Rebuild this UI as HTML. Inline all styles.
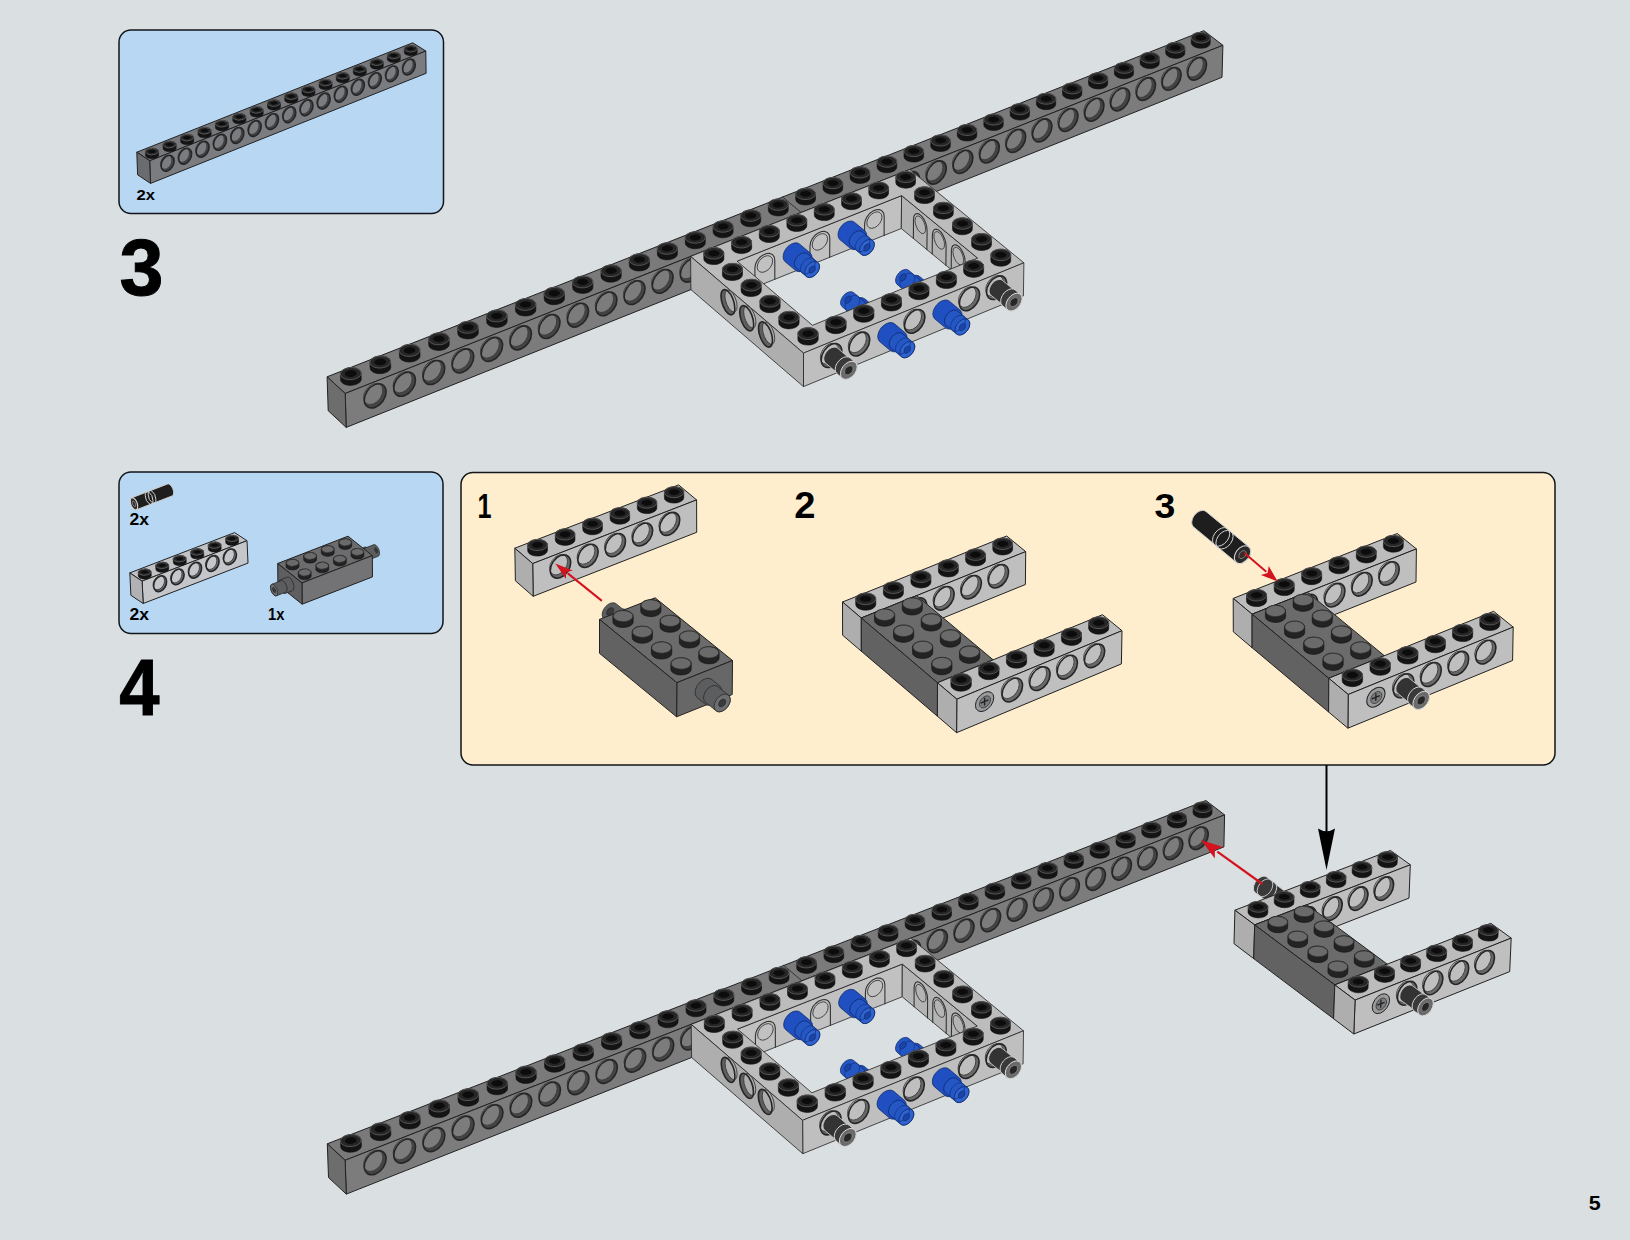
<!DOCTYPE html>
<html><head><meta charset="utf-8"><style>
html,body{margin:0;padding:0;background:#dadfe2;}
body{width:1630px;height:1240px;overflow:hidden;font-family:"Liberation Sans",sans-serif;}
svg{position:absolute;left:0;top:0;display:block;}
</style></head><body>
<svg width="1630" height="1240" viewBox="0 0 1630 1240">
<rect x="0" y="0" width="1630" height="1240" fill="#dadfe2"/>
<rect x="119" y="30" width="324.5" height="183.5" rx="12" ry="12" fill="#b8d7f2" stroke="#121519" stroke-width="1.5"/>
<rect x="119" y="472" width="324" height="161.5" rx="12" ry="12" fill="#b8d7f2" stroke="#121519" stroke-width="1.5"/>
<rect x="461" y="472.5" width="1094" height="292.5" rx="12" ry="12" fill="#feeece" stroke="#121519" stroke-width="1.5"/>
<polygon points="149.7,160.8 425.8,51.0 412.7,42.8 136.8,152.2" fill="#76787c" stroke="#222222" stroke-width="1.00" stroke-linejoin="round"/>
<polygon points="150.5,183.4 426.1,73.3 425.8,51.0 149.7,160.8" fill="#7a7c80" stroke="#222222" stroke-width="1.00" stroke-linejoin="round"/>
<polygon points="150.5,183.4 137.6,174.8 136.8,152.2 149.7,160.8" fill="#6a6c70" stroke="#222222" stroke-width="1.00" stroke-linejoin="round"/>
<circle r="1" transform="matrix(6.49 -2.59 -0.26 -7.51 167.6 163.2)" fill="#434446"/>
<circle r="1" transform="matrix(5.71 -2.28 -0.23 -6.58 166.2 162.3)" fill="#7a7c80" stroke="#3a3a3a" stroke-width="0.9" vector-effect="non-scaling-stroke"/>
<circle r="1" transform="matrix(6.49 -2.59 -0.26 -7.51 167.6 163.2)" fill="none" stroke="#262626" stroke-width="1.6" vector-effect="non-scaling-stroke"/>
<circle r="1" transform="matrix(6.48 -2.58 -0.25 -7.50 185.1 156.2)" fill="#434446"/>
<circle r="1" transform="matrix(5.70 -2.27 -0.22 -6.58 183.7 155.3)" fill="#7a7c80" stroke="#3a3a3a" stroke-width="0.9" vector-effect="non-scaling-stroke"/>
<circle r="1" transform="matrix(6.48 -2.58 -0.25 -7.50 185.1 156.2)" fill="none" stroke="#262626" stroke-width="1.6" vector-effect="non-scaling-stroke"/>
<circle r="1" transform="matrix(6.46 -2.57 -0.24 -7.50 202.6 149.3)" fill="#434446"/>
<circle r="1" transform="matrix(5.68 -2.26 -0.21 -6.57 201.2 148.3)" fill="#7a7c80" stroke="#3a3a3a" stroke-width="0.9" vector-effect="non-scaling-stroke"/>
<circle r="1" transform="matrix(6.46 -2.57 -0.24 -7.50 202.6 149.3)" fill="none" stroke="#262626" stroke-width="1.6" vector-effect="non-scaling-stroke"/>
<circle r="1" transform="matrix(6.44 -2.57 -0.23 -7.49 220.0 142.3)" fill="#434446"/>
<circle r="1" transform="matrix(5.67 -2.26 -0.20 -6.57 218.6 141.4)" fill="#7a7c80" stroke="#3a3a3a" stroke-width="0.9" vector-effect="non-scaling-stroke"/>
<circle r="1" transform="matrix(6.44 -2.57 -0.23 -7.49 220.0 142.3)" fill="none" stroke="#262626" stroke-width="1.6" vector-effect="non-scaling-stroke"/>
<circle r="1" transform="matrix(6.43 -2.56 -0.22 -7.49 237.4 135.4)" fill="#434446"/>
<circle r="1" transform="matrix(5.65 -2.25 -0.20 -6.56 236.0 134.4)" fill="#7a7c80" stroke="#3a3a3a" stroke-width="0.9" vector-effect="non-scaling-stroke"/>
<circle r="1" transform="matrix(6.43 -2.56 -0.22 -7.49 237.4 135.4)" fill="none" stroke="#262626" stroke-width="1.6" vector-effect="non-scaling-stroke"/>
<circle r="1" transform="matrix(6.41 -2.55 -0.21 -7.48 254.8 128.5)" fill="#434446"/>
<circle r="1" transform="matrix(5.64 -2.25 -0.19 -6.56 253.4 127.5)" fill="#7a7c80" stroke="#3a3a3a" stroke-width="0.9" vector-effect="non-scaling-stroke"/>
<circle r="1" transform="matrix(6.41 -2.55 -0.21 -7.48 254.8 128.5)" fill="none" stroke="#262626" stroke-width="1.6" vector-effect="non-scaling-stroke"/>
<circle r="1" transform="matrix(6.40 -2.55 -0.20 -7.47 272.1 121.6)" fill="#434446"/>
<circle r="1" transform="matrix(5.63 -2.24 -0.18 -6.55 270.7 120.6)" fill="#7a7c80" stroke="#3a3a3a" stroke-width="0.9" vector-effect="non-scaling-stroke"/>
<circle r="1" transform="matrix(6.40 -2.55 -0.20 -7.47 272.1 121.6)" fill="none" stroke="#262626" stroke-width="1.6" vector-effect="non-scaling-stroke"/>
<circle r="1" transform="matrix(6.38 -2.54 -0.20 -7.47 289.4 114.7)" fill="#434446"/>
<circle r="1" transform="matrix(5.61 -2.24 -0.17 -6.55 287.9 113.8)" fill="#7a7c80" stroke="#3a3a3a" stroke-width="0.9" vector-effect="non-scaling-stroke"/>
<circle r="1" transform="matrix(6.38 -2.54 -0.20 -7.47 289.4 114.7)" fill="none" stroke="#262626" stroke-width="1.6" vector-effect="non-scaling-stroke"/>
<circle r="1" transform="matrix(6.36 -2.54 -0.19 -7.46 306.6 107.8)" fill="#434446"/>
<circle r="1" transform="matrix(5.60 -2.23 -0.16 -6.54 305.1 106.9)" fill="#7a7c80" stroke="#3a3a3a" stroke-width="0.9" vector-effect="non-scaling-stroke"/>
<circle r="1" transform="matrix(6.36 -2.54 -0.19 -7.46 306.6 107.8)" fill="none" stroke="#262626" stroke-width="1.6" vector-effect="non-scaling-stroke"/>
<circle r="1" transform="matrix(6.35 -2.53 -0.18 -7.46 323.8 101.0)" fill="#434446"/>
<circle r="1" transform="matrix(5.58 -2.22 -0.16 -6.54 322.3 100.1)" fill="#7a7c80" stroke="#3a3a3a" stroke-width="0.9" vector-effect="non-scaling-stroke"/>
<circle r="1" transform="matrix(6.35 -2.53 -0.18 -7.46 323.8 101.0)" fill="none" stroke="#262626" stroke-width="1.6" vector-effect="non-scaling-stroke"/>
<circle r="1" transform="matrix(6.33 -2.52 -0.17 -7.45 340.9 94.2)" fill="#434446"/>
<circle r="1" transform="matrix(5.57 -2.22 -0.15 -6.53 339.5 93.2)" fill="#7a7c80" stroke="#3a3a3a" stroke-width="0.9" vector-effect="non-scaling-stroke"/>
<circle r="1" transform="matrix(6.33 -2.52 -0.17 -7.45 340.9 94.2)" fill="none" stroke="#262626" stroke-width="1.6" vector-effect="non-scaling-stroke"/>
<circle r="1" transform="matrix(6.32 -2.52 -0.16 -7.44 358.0 87.3)" fill="#434446"/>
<circle r="1" transform="matrix(5.56 -2.21 -0.14 -6.52 356.5 86.4)" fill="#7a7c80" stroke="#3a3a3a" stroke-width="0.9" vector-effect="non-scaling-stroke"/>
<circle r="1" transform="matrix(6.32 -2.52 -0.16 -7.44 358.0 87.3)" fill="none" stroke="#262626" stroke-width="1.6" vector-effect="non-scaling-stroke"/>
<circle r="1" transform="matrix(6.30 -2.51 -0.15 -7.44 375.0 80.6)" fill="#434446"/>
<circle r="1" transform="matrix(5.54 -2.21 -0.13 -6.52 373.6 79.6)" fill="#7a7c80" stroke="#3a3a3a" stroke-width="0.9" vector-effect="non-scaling-stroke"/>
<circle r="1" transform="matrix(6.30 -2.51 -0.15 -7.44 375.0 80.6)" fill="none" stroke="#262626" stroke-width="1.6" vector-effect="non-scaling-stroke"/>
<circle r="1" transform="matrix(6.28 -2.50 -0.14 -7.43 392.0 73.8)" fill="#434446"/>
<circle r="1" transform="matrix(5.53 -2.20 -0.13 -6.51 390.6 72.9)" fill="#7a7c80" stroke="#3a3a3a" stroke-width="0.9" vector-effect="non-scaling-stroke"/>
<circle r="1" transform="matrix(6.28 -2.50 -0.14 -7.43 392.0 73.8)" fill="none" stroke="#262626" stroke-width="1.6" vector-effect="non-scaling-stroke"/>
<circle r="1" transform="matrix(6.27 -2.50 -0.14 -7.43 409.0 67.0)" fill="#434446"/>
<circle r="1" transform="matrix(5.51 -2.20 -0.12 -6.51 407.6 66.1)" fill="#7a7c80" stroke="#3a3a3a" stroke-width="0.9" vector-effect="non-scaling-stroke"/>
<circle r="1" transform="matrix(6.27 -2.50 -0.14 -7.43 409.0 67.0)" fill="none" stroke="#262626" stroke-width="1.6" vector-effect="non-scaling-stroke"/>
<polygon points="404.3,48.9 404.6,48.0 405.4,47.0 406.8,46.3 408.6,45.8 410.5,45.6 412.5,45.7 414.3,46.1 415.8,46.7 416.8,47.6 417.1,48.6 417.2,52.3 416.9,53.3 416.1,54.2 414.7,54.9 412.9,55.4 411.0,55.6 409.0,55.5 407.2,55.1 405.7,54.5 404.7,53.6 404.4,52.7" fill="#141414" stroke="#111" stroke-width="0.60" stroke-linejoin="round"/>
<circle r="1" transform="matrix(5.08 -2.02 -3.93 -2.46 410.7 48.8)" fill="#262626" stroke="#5a5a5a" stroke-width="0.9" vector-effect="non-scaling-stroke"/>
<circle r="1" transform="matrix(3.05 -1.21 -2.36 -1.48 410.7 48.8)" fill="#0c0c0c" stroke="#333" stroke-width="0.5" vector-effect="non-scaling-stroke"/>
<polygon points="387.3,55.7 387.6,54.7 388.5,53.8 389.8,53.0 391.6,52.5 393.6,52.3 395.6,52.4 397.4,52.8 398.9,53.5 399.8,54.3 400.2,55.3 400.3,59.0 400.0,60.0 399.1,60.9 397.8,61.7 396.0,62.2 394.0,62.4 392.0,62.3 390.2,61.9 388.8,61.2 387.8,60.4 387.4,59.4" fill="#141414" stroke="#111" stroke-width="0.60" stroke-linejoin="round"/>
<circle r="1" transform="matrix(5.09 -2.02 -3.93 -2.47 393.8 55.5)" fill="#262626" stroke="#5a5a5a" stroke-width="0.9" vector-effect="non-scaling-stroke"/>
<circle r="1" transform="matrix(3.05 -1.21 -2.36 -1.48 393.8 55.5)" fill="#0c0c0c" stroke="#333" stroke-width="0.5" vector-effect="non-scaling-stroke"/>
<polygon points="370.3,62.4 370.6,61.4 371.5,60.5 372.9,59.8 374.6,59.3 376.6,59.0 378.6,59.1 380.4,59.5 381.9,60.2 382.8,61.1 383.2,62.0 383.3,65.8 383.0,66.8 382.2,67.7 380.8,68.4 379.0,68.9 377.0,69.2 375.0,69.0 373.2,68.7 371.8,68.0 370.8,67.1 370.4,66.1" fill="#141414" stroke="#111" stroke-width="0.60" stroke-linejoin="round"/>
<circle r="1" transform="matrix(5.10 -2.03 -3.92 -2.47 376.8 62.2)" fill="#262626" stroke="#5a5a5a" stroke-width="0.9" vector-effect="non-scaling-stroke"/>
<circle r="1" transform="matrix(3.06 -1.22 -2.35 -1.48 376.8 62.2)" fill="#0c0c0c" stroke="#333" stroke-width="0.5" vector-effect="non-scaling-stroke"/>
<polygon points="353.3,69.2 353.6,68.2 354.4,67.3 355.8,66.5 357.6,66.0 359.6,65.8 361.6,65.9 363.4,66.3 364.9,67.0 365.8,67.8 366.2,68.8 366.3,72.5 366.0,73.5 365.1,74.5 363.7,75.2 362.0,75.7 360.0,75.9 358.0,75.8 356.2,75.4 354.7,74.8 353.8,73.9 353.4,72.9" fill="#141414" stroke="#111" stroke-width="0.60" stroke-linejoin="round"/>
<circle r="1" transform="matrix(5.12 -2.03 -3.92 -2.48 359.7 69.0)" fill="#262626" stroke="#5a5a5a" stroke-width="0.9" vector-effect="non-scaling-stroke"/>
<circle r="1" transform="matrix(3.07 -1.22 -2.35 -1.49 359.7 69.0)" fill="#0c0c0c" stroke="#333" stroke-width="0.5" vector-effect="non-scaling-stroke"/>
<polygon points="336.2,76.0 336.5,75.0 337.4,74.0 338.8,73.3 340.5,72.8 342.5,72.6 344.5,72.7 346.3,73.1 347.8,73.7 348.8,74.6 349.1,75.6 349.2,79.3 348.9,80.3 348.1,81.2 346.7,82.0 344.9,82.5 342.9,82.7 340.9,82.6 339.1,82.2 337.6,81.5 336.7,80.7 336.3,79.7" fill="#141414" stroke="#111" stroke-width="0.60" stroke-linejoin="round"/>
<circle r="1" transform="matrix(5.13 -2.04 -3.91 -2.49 342.7 75.8)" fill="#262626" stroke="#5a5a5a" stroke-width="0.9" vector-effect="non-scaling-stroke"/>
<circle r="1" transform="matrix(3.08 -1.22 -2.35 -1.49 342.7 75.8)" fill="#0c0c0c" stroke="#333" stroke-width="0.5" vector-effect="non-scaling-stroke"/>
<polygon points="319.1,82.8 319.4,81.8 320.2,80.8 321.6,80.1 323.4,79.6 325.4,79.4 327.4,79.5 329.2,79.9 330.7,80.5 331.6,81.4 332.0,82.4 332.1,86.1 331.8,87.1 330.9,88.1 329.6,88.8 327.8,89.3 325.8,89.5 323.8,89.4 322.0,89.0 320.5,88.4 319.5,87.5 319.2,86.5" fill="#141414" stroke="#111" stroke-width="0.60" stroke-linejoin="round"/>
<circle r="1" transform="matrix(5.14 -2.04 -3.91 -2.49 325.5 82.6)" fill="#262626" stroke="#5a5a5a" stroke-width="0.9" vector-effect="non-scaling-stroke"/>
<circle r="1" transform="matrix(3.09 -1.23 -2.35 -1.50 325.5 82.6)" fill="#0c0c0c" stroke="#333" stroke-width="0.5" vector-effect="non-scaling-stroke"/>
<polygon points="301.9,89.6 302.2,88.6 303.1,87.7 304.5,86.9 306.3,86.4 308.3,86.2 310.3,86.3 312.1,86.7 313.5,87.3 314.5,88.2 314.9,89.2 314.9,93.0 314.7,94.0 313.8,94.9 312.4,95.6 310.6,96.2 308.6,96.4 306.6,96.3 304.8,95.8 303.3,95.2 302.4,94.3 302.0,93.3" fill="#141414" stroke="#111" stroke-width="0.60" stroke-linejoin="round"/>
<circle r="1" transform="matrix(5.15 -2.05 -3.91 -2.50 308.4 89.4)" fill="#262626" stroke="#5a5a5a" stroke-width="0.9" vector-effect="non-scaling-stroke"/>
<circle r="1" transform="matrix(3.09 -1.23 -2.34 -1.50 308.4 89.4)" fill="#0c0c0c" stroke="#333" stroke-width="0.5" vector-effect="non-scaling-stroke"/>
<polygon points="284.7,96.4 285.0,95.4 285.9,94.5 287.3,93.7 289.1,93.2 291.1,93.0 293.1,93.1 294.9,93.5 296.4,94.2 297.3,95.0 297.7,96.0 297.8,99.8 297.5,100.8 296.6,101.7 295.2,102.5 293.4,103.0 291.4,103.2 289.4,103.1 287.6,102.7 286.1,102.0 285.2,101.2 284.8,100.2" fill="#141414" stroke="#111" stroke-width="0.60" stroke-linejoin="round"/>
<circle r="1" transform="matrix(5.17 -2.05 -3.90 -2.51 291.2 96.2)" fill="#262626" stroke="#5a5a5a" stroke-width="0.9" vector-effect="non-scaling-stroke"/>
<circle r="1" transform="matrix(3.10 -1.23 -2.34 -1.50 291.2 96.2)" fill="#0c0c0c" stroke="#333" stroke-width="0.5" vector-effect="non-scaling-stroke"/>
<polygon points="267.4,103.3 267.7,102.3 268.6,101.3 270.0,100.6 271.8,100.1 273.8,99.8 275.8,99.9 277.7,100.3 279.1,101.0 280.1,101.9 280.4,102.9 280.5,106.6 280.2,107.7 279.4,108.6 277.9,109.3 276.1,109.8 274.1,110.1 272.1,110.0 270.3,109.6 268.9,108.9 267.9,108.0 267.6,107.0" fill="#141414" stroke="#111" stroke-width="0.60" stroke-linejoin="round"/>
<circle r="1" transform="matrix(5.18 -2.06 -3.90 -2.51 273.9 103.1)" fill="#262626" stroke="#5a5a5a" stroke-width="0.9" vector-effect="non-scaling-stroke"/>
<circle r="1" transform="matrix(3.11 -1.23 -2.34 -1.51 273.9 103.1)" fill="#0c0c0c" stroke="#333" stroke-width="0.5" vector-effect="non-scaling-stroke"/>
<polygon points="250.2,110.1 250.4,109.1 251.3,108.2 252.8,107.4 254.6,106.9 256.6,106.7 258.6,106.8 260.4,107.2 261.8,107.9 262.8,108.8 263.1,109.8 263.2,113.5 263.0,114.5 262.1,115.5 260.6,116.2 258.9,116.7 256.9,117.0 254.8,116.8 253.0,116.4 251.6,115.8 250.6,114.9 250.3,113.9" fill="#141414" stroke="#111" stroke-width="0.60" stroke-linejoin="round"/>
<circle r="1" transform="matrix(5.19 -2.06 -3.89 -2.52 256.6 109.9)" fill="#262626" stroke="#5a5a5a" stroke-width="0.9" vector-effect="non-scaling-stroke"/>
<circle r="1" transform="matrix(3.12 -1.24 -2.34 -1.51 256.6 109.9)" fill="#0c0c0c" stroke="#333" stroke-width="0.5" vector-effect="non-scaling-stroke"/>
<polygon points="232.8,117.0 233.1,116.0 234.0,115.1 235.4,114.3 237.2,113.8 239.2,113.6 241.2,113.7 243.1,114.1 244.5,114.8 245.5,115.7 245.8,116.6 245.9,120.4 245.6,121.4 244.7,122.3 243.3,123.1 241.5,123.6 239.5,123.8 237.5,123.7 235.7,123.3 234.2,122.7 233.3,121.8 232.9,120.8" fill="#141414" stroke="#111" stroke-width="0.60" stroke-linejoin="round"/>
<circle r="1" transform="matrix(5.21 -2.07 -3.89 -2.53 239.3 116.8)" fill="#262626" stroke="#5a5a5a" stroke-width="0.9" vector-effect="non-scaling-stroke"/>
<circle r="1" transform="matrix(3.12 -1.24 -2.33 -1.52 239.3 116.8)" fill="#0c0c0c" stroke="#333" stroke-width="0.5" vector-effect="non-scaling-stroke"/>
<polygon points="215.4,123.9 215.7,122.9 216.6,122.0 218.1,121.2 219.8,120.7 221.9,120.5 223.9,120.6 225.7,121.0 227.2,121.7 228.1,122.5 228.4,123.5 228.6,127.3 228.3,128.3 227.4,129.3 225.9,130.0 224.1,130.5 222.1,130.8 220.1,130.7 218.3,130.2 216.8,129.6 215.9,128.7 215.5,127.7" fill="#141414" stroke="#111" stroke-width="0.60" stroke-linejoin="round"/>
<circle r="1" transform="matrix(5.22 -2.07 -3.89 -2.53 221.9 123.7)" fill="#262626" stroke="#5a5a5a" stroke-width="0.9" vector-effect="non-scaling-stroke"/>
<circle r="1" transform="matrix(3.13 -1.24 -2.33 -1.52 221.9 123.7)" fill="#0c0c0c" stroke="#333" stroke-width="0.5" vector-effect="non-scaling-stroke"/>
<polygon points="198.0,130.8 198.3,129.8 199.2,128.9 200.6,128.1 202.4,127.6 204.4,127.4 206.5,127.5 208.3,127.9 209.8,128.6 210.7,129.5 211.0,130.5 211.2,134.2 210.8,135.2 209.9,136.2 208.5,136.9 206.7,137.5 204.7,137.7 202.7,137.6 200.9,137.2 199.4,136.5 198.5,135.6 198.1,134.6" fill="#141414" stroke="#111" stroke-width="0.60" stroke-linejoin="round"/>
<circle r="1" transform="matrix(5.23 -2.08 -3.88 -2.54 204.5 130.7)" fill="#262626" stroke="#5a5a5a" stroke-width="0.9" vector-effect="non-scaling-stroke"/>
<circle r="1" transform="matrix(3.14 -1.25 -2.33 -1.52 204.5 130.7)" fill="#0c0c0c" stroke="#333" stroke-width="0.5" vector-effect="non-scaling-stroke"/>
<polygon points="180.5,137.8 180.8,136.8 181.7,135.8 183.2,135.0 185.0,134.5 187.0,134.3 189.0,134.4 190.8,134.8 192.3,135.5 193.2,136.4 193.6,137.4 193.7,141.2 193.4,142.2 192.5,143.1 191.1,143.9 189.2,144.4 187.2,144.6 185.2,144.5 183.4,144.1 181.9,143.4 181.0,142.5 180.7,141.5" fill="#141414" stroke="#111" stroke-width="0.60" stroke-linejoin="round"/>
<circle r="1" transform="matrix(5.25 -2.08 -3.88 -2.55 187.0 137.6)" fill="#262626" stroke="#5a5a5a" stroke-width="0.9" vector-effect="non-scaling-stroke"/>
<circle r="1" transform="matrix(3.15 -1.25 -2.33 -1.53 187.0 137.6)" fill="#0c0c0c" stroke="#333" stroke-width="0.5" vector-effect="non-scaling-stroke"/>
<polygon points="163.0,144.7 163.3,143.7 164.2,142.8 165.7,142.0 167.5,141.5 169.5,141.2 171.5,141.3 173.3,141.8 174.8,142.5 175.7,143.3 176.1,144.4 176.2,148.1 175.9,149.1 175.0,150.1 173.6,150.9 171.7,151.4 169.7,151.6 167.7,151.5 165.9,151.1 164.4,150.4 163.5,149.5 163.1,148.5" fill="#141414" stroke="#111" stroke-width="0.60" stroke-linejoin="round"/>
<circle r="1" transform="matrix(5.26 -2.09 -3.87 -2.55 169.5 144.5)" fill="#262626" stroke="#5a5a5a" stroke-width="0.9" vector-effect="non-scaling-stroke"/>
<circle r="1" transform="matrix(3.16 -1.25 -2.32 -1.53 169.5 144.5)" fill="#0c0c0c" stroke="#333" stroke-width="0.5" vector-effect="non-scaling-stroke"/>
<polygon points="145.4,151.7 145.8,150.7 146.7,149.7 148.1,149.0 149.9,148.4 152.0,148.2 154.0,148.3 155.8,148.7 157.3,149.4 158.2,150.3 158.5,151.3 158.7,155.1 158.3,156.1 157.4,157.1 156.0,157.8 154.2,158.4 152.2,158.6 150.1,158.5 148.3,158.1 146.8,157.4 145.9,156.5 145.6,155.5" fill="#141414" stroke="#111" stroke-width="0.60" stroke-linejoin="round"/>
<circle r="1" transform="matrix(5.27 -2.09 -3.87 -2.56 152.0 151.5)" fill="#262626" stroke="#5a5a5a" stroke-width="0.9" vector-effect="non-scaling-stroke"/>
<circle r="1" transform="matrix(3.16 -1.26 -2.32 -1.54 152.0 151.5)" fill="#0c0c0c" stroke="#333" stroke-width="0.5" vector-effect="non-scaling-stroke"/>
<polygon points="142.1,581.1 247.0,540.7 234.6,532.6 129.8,572.9" fill="#c0c2c6" stroke="#222222" stroke-width="1.00" stroke-linejoin="round"/>
<polygon points="143.2,603.5 248.0,563.1 247.0,540.7 142.1,581.1" fill="#c4c6ca" stroke="#222222" stroke-width="1.00" stroke-linejoin="round"/>
<polygon points="143.2,603.5 130.9,595.3 129.8,572.9 142.1,581.1" fill="#b0b2b6" stroke="#222222" stroke-width="1.00" stroke-linejoin="round"/>
<circle r="1" transform="matrix(6.49 -2.50 -0.36 -7.46 160.1 583.7)" fill="#6b6c6f"/>
<circle r="1" transform="matrix(5.71 -2.20 -0.32 -6.54 158.8 582.8)" fill="#c4c6ca" stroke="#3a3a3a" stroke-width="0.9" vector-effect="non-scaling-stroke"/>
<circle r="1" transform="matrix(6.49 -2.50 -0.36 -7.46 160.1 583.7)" fill="none" stroke="#262626" stroke-width="1.6" vector-effect="non-scaling-stroke"/>
<circle r="1" transform="matrix(6.48 -2.50 -0.36 -7.45 177.6 576.9)" fill="#6b6c6f"/>
<circle r="1" transform="matrix(5.70 -2.20 -0.31 -6.53 176.3 576.0)" fill="#c4c6ca" stroke="#3a3a3a" stroke-width="0.9" vector-effect="non-scaling-stroke"/>
<circle r="1" transform="matrix(6.48 -2.50 -0.36 -7.45 177.6 576.9)" fill="none" stroke="#262626" stroke-width="1.6" vector-effect="non-scaling-stroke"/>
<circle r="1" transform="matrix(6.46 -2.49 -0.35 -7.45 195.1 570.2)" fill="#6b6c6f"/>
<circle r="1" transform="matrix(5.69 -2.19 -0.31 -6.53 193.8 569.3)" fill="#c4c6ca" stroke="#3a3a3a" stroke-width="0.9" vector-effect="non-scaling-stroke"/>
<circle r="1" transform="matrix(6.46 -2.49 -0.35 -7.45 195.1 570.2)" fill="none" stroke="#262626" stroke-width="1.6" vector-effect="non-scaling-stroke"/>
<circle r="1" transform="matrix(6.45 -2.49 -0.35 -7.45 212.6 563.5)" fill="#6b6c6f"/>
<circle r="1" transform="matrix(5.68 -2.19 -0.30 -6.53 211.2 562.6)" fill="#c4c6ca" stroke="#3a3a3a" stroke-width="0.9" vector-effect="non-scaling-stroke"/>
<circle r="1" transform="matrix(6.45 -2.49 -0.35 -7.45 212.6 563.5)" fill="none" stroke="#262626" stroke-width="1.6" vector-effect="non-scaling-stroke"/>
<circle r="1" transform="matrix(6.44 -2.48 -0.34 -7.44 230.0 556.8)" fill="#6b6c6f"/>
<circle r="1" transform="matrix(5.67 -2.18 -0.30 -6.52 228.7 555.9)" fill="#c4c6ca" stroke="#3a3a3a" stroke-width="0.9" vector-effect="non-scaling-stroke"/>
<circle r="1" transform="matrix(6.44 -2.48 -0.34 -7.44 230.0 556.8)" fill="none" stroke="#262626" stroke-width="1.6" vector-effect="non-scaling-stroke"/>
<polygon points="225.6,538.7 225.9,537.7 226.9,536.8 228.3,536.1 230.1,535.6 232.1,535.4 234.1,535.5 235.8,535.9 237.2,536.5 238.1,537.4 238.4,538.3 238.6,542.1 238.3,543.0 237.3,544.0 235.9,544.7 234.1,545.2 232.1,545.4 230.2,545.3 228.4,544.9 227.0,544.3 226.1,543.4 225.8,542.5" fill="#141414" stroke="#111" stroke-width="0.60" stroke-linejoin="round"/>
<circle r="1" transform="matrix(5.22 -2.01 -3.72 -2.43 232.0 538.5)" fill="#262626" stroke="#5a5a5a" stroke-width="0.9" vector-effect="non-scaling-stroke"/>
<circle r="1" transform="matrix(3.13 -1.21 -2.23 -1.46 232.0 538.5)" fill="#0c0c0c" stroke="#333" stroke-width="0.5" vector-effect="non-scaling-stroke"/>
<polygon points="208.2,545.4 208.5,544.4 209.4,543.5 210.9,542.8 212.7,542.3 214.7,542.1 216.7,542.2 218.4,542.6 219.8,543.2 220.7,544.1 221.0,545.0 221.2,548.8 220.9,549.8 219.9,550.7 218.5,551.4 216.7,551.9 214.7,552.1 212.7,552.0 210.9,551.6 209.6,551.0 208.7,550.1 208.4,549.1" fill="#141414" stroke="#111" stroke-width="0.60" stroke-linejoin="round"/>
<circle r="1" transform="matrix(5.23 -2.01 -3.72 -2.44 214.6 545.2)" fill="#262626" stroke="#5a5a5a" stroke-width="0.9" vector-effect="non-scaling-stroke"/>
<circle r="1" transform="matrix(3.14 -1.21 -2.23 -1.46 214.6 545.2)" fill="#0c0c0c" stroke="#333" stroke-width="0.5" vector-effect="non-scaling-stroke"/>
<polygon points="190.7,552.1 191.1,551.1 192.0,550.2 193.4,549.5 195.2,549.0 197.2,548.8 199.2,548.9 201.0,549.3 202.4,549.9 203.3,550.8 203.6,551.8 203.8,555.5 203.4,556.5 202.5,557.4 201.1,558.1 199.2,558.6 197.3,558.8 195.3,558.7 193.5,558.4 192.1,557.7 191.2,556.8 190.9,555.9" fill="#141414" stroke="#111" stroke-width="0.60" stroke-linejoin="round"/>
<circle r="1" transform="matrix(5.24 -2.02 -3.72 -2.44 197.2 551.9)" fill="#262626" stroke="#5a5a5a" stroke-width="0.9" vector-effect="non-scaling-stroke"/>
<circle r="1" transform="matrix(3.14 -1.21 -2.23 -1.47 197.2 551.9)" fill="#0c0c0c" stroke="#333" stroke-width="0.5" vector-effect="non-scaling-stroke"/>
<polygon points="173.2,558.9 173.6,557.9 174.5,557.0 176.0,556.2 177.8,555.7 179.8,555.5 181.7,555.6 183.5,556.0 184.9,556.6 185.8,557.5 186.1,558.5 186.3,562.2 185.9,563.2 185.0,564.1 183.6,564.9 181.8,565.4 179.8,565.6 177.8,565.5 176.0,565.1 174.6,564.4 173.7,563.6 173.4,562.6" fill="#141414" stroke="#111" stroke-width="0.60" stroke-linejoin="round"/>
<circle r="1" transform="matrix(5.25 -2.02 -3.71 -2.45 179.7 558.7)" fill="#262626" stroke="#5a5a5a" stroke-width="0.9" vector-effect="non-scaling-stroke"/>
<circle r="1" transform="matrix(3.15 -1.21 -2.23 -1.47 179.7 558.7)" fill="#0c0c0c" stroke="#333" stroke-width="0.5" vector-effect="non-scaling-stroke"/>
<polygon points="155.7,565.6 156.1,564.6 157.0,563.7 158.5,563.0 160.3,562.5 162.3,562.2 164.2,562.3 166.0,562.7 167.4,563.4 168.3,564.2 168.6,565.2 168.8,568.9 168.4,569.9 167.5,570.9 166.1,571.6 164.3,572.1 162.3,572.3 160.3,572.2 158.5,571.8 157.1,571.2 156.2,570.3 155.9,569.3" fill="#141414" stroke="#111" stroke-width="0.60" stroke-linejoin="round"/>
<circle r="1" transform="matrix(5.26 -2.02 -3.71 -2.45 162.2 565.4)" fill="#262626" stroke="#5a5a5a" stroke-width="0.9" vector-effect="non-scaling-stroke"/>
<circle r="1" transform="matrix(3.15 -1.21 -2.23 -1.47 162.2 565.4)" fill="#0c0c0c" stroke="#333" stroke-width="0.5" vector-effect="non-scaling-stroke"/>
<polygon points="138.2,572.3 138.6,571.4 139.5,570.4 140.9,569.7 142.8,569.2 144.7,569.0 146.7,569.1 148.5,569.5 149.9,570.1 150.8,571.0 151.1,572.0 151.3,575.7 150.9,576.7 150.0,577.6 148.5,578.3 146.7,578.9 144.7,579.1 142.8,579.0 141.0,578.6 139.6,577.9 138.7,577.0 138.4,576.1" fill="#141414" stroke="#111" stroke-width="0.60" stroke-linejoin="round"/>
<circle r="1" transform="matrix(5.26 -2.03 -3.71 -2.46 144.6 572.1)" fill="#262626" stroke="#5a5a5a" stroke-width="0.9" vector-effect="non-scaling-stroke"/>
<circle r="1" transform="matrix(3.16 -1.22 -2.22 -1.47 144.6 572.1)" fill="#0c0c0c" stroke="#333" stroke-width="0.5" vector-effect="non-scaling-stroke"/>
<polygon points="130.3,501.3 130.4,499.7 130.8,498.5 131.6,497.8 167.5,484.0 168.5,483.9 169.7,484.4 170.8,485.4 171.9,486.9 172.8,488.7 173.4,490.6 173.6,492.4 173.5,494.0 173.1,495.2 172.3,495.9 136.4,509.8 135.4,509.9 134.3,509.4 133.1,508.4 132.1,506.9 131.2,505.1 130.6,503.2" fill="#1e1e1e" stroke="#cfcfcf" stroke-width="1.00" stroke-linejoin="round"/>
<circle r="1" transform="matrix(-3.89 -2.58 -0.29 -5.88 149.1 498.0)" fill="none" stroke="#d2d2d2" stroke-width="1.0" vector-effect="non-scaling-stroke"/>
<circle r="1" transform="matrix(-3.89 -2.58 -0.29 -5.88 152.0 496.9)" fill="none" stroke="#d2d2d2" stroke-width="1.0" vector-effect="non-scaling-stroke"/>
<circle r="1" transform="matrix(-3.70 -2.46 -0.28 -5.60 134.0 503.8)" fill="#2a2a2a" stroke="#d6d6d6" stroke-width="1.1" vector-effect="non-scaling-stroke"/>
<circle r="1" transform="matrix(-1.67 -1.11 -0.13 -2.52 134.0 503.8)" fill="#3a2a2a" stroke="#aaa" stroke-width="0.6" vector-effect="non-scaling-stroke"/>
<polygon points="356.1,553.3 356.3,551.6 356.9,550.4 357.8,549.8 364.9,547.0 366.0,547.1 367.3,547.8 368.6,549.1 369.8,550.9 370.7,552.9 371.3,555.1 371.5,557.1 371.3,558.8 370.7,560.0 369.8,560.6 362.7,563.4 361.6,563.4 360.3,562.6 359.0,561.3 357.9,559.5 356.9,557.5 356.3,555.3" fill="#5c5d5f" stroke="#222222" stroke-width="0.70" stroke-linejoin="round"/>
<polygon points="363.1,551.3 363.2,549.9 363.7,548.8 364.5,548.3 374.0,544.6 374.9,544.7 376.0,545.3 377.1,546.4 378.1,547.9 378.9,549.7 379.4,551.5 379.6,553.3 379.4,554.7 378.9,555.8 378.2,556.3 368.7,560.0 367.7,559.9 366.6,559.3 365.5,558.2 364.5,556.6 363.7,554.9 363.2,553.0" fill="#5c5d5f" stroke="#222222" stroke-width="0.70" stroke-linejoin="round"/>
<circle r="1" transform="matrix(-1.58 -1.26 -0.02 -2.31 376.1 550.4)" fill="#3a3a3a" stroke="#222" stroke-width="0.5" vector-effect="non-scaling-stroke"/>
<polygon points="302.0,582.9 372.3,555.6 348.0,536.2 277.7,563.5" fill="#6c6c6e" stroke="#222222" stroke-width="1.00" stroke-linejoin="round"/>
<polygon points="302.1,604.2 372.5,576.9 372.3,555.6 302.0,582.9" fill="#737375" stroke="#222222" stroke-width="1.00" stroke-linejoin="round"/>
<polygon points="302.1,604.2 277.9,584.8 277.7,563.5 302.0,582.9" fill="#5f5f61" stroke="#222222" stroke-width="1.00" stroke-linejoin="round"/>
<polygon points="338.9,542.3 339.2,541.2 340.2,540.2 341.6,539.5 343.5,539.0 345.4,538.8 347.4,539.0 349.2,539.5 350.6,540.3 351.4,541.3 351.7,542.4 351.7,546.0 351.4,547.1 350.4,548.0 349.0,548.8 347.1,549.3 345.2,549.5 343.2,549.3 341.4,548.8 340.0,548.0 339.2,547.0 338.9,545.9" fill="#232323" stroke="#111" stroke-width="0.60" stroke-linejoin="round"/>
<circle r="1" transform="matrix(5.12 -1.98 -3.53 -2.82 345.3 542.4)" fill="#6a6a6a" stroke="#2a2a2a" stroke-width="0.6" vector-effect="non-scaling-stroke"/>
<polygon points="321.3,549.1 321.7,548.0 322.6,547.0 324.1,546.3 325.9,545.8 327.9,545.6 329.8,545.8 331.6,546.3 333.0,547.1 333.9,548.1 334.1,549.2 334.1,552.8 333.8,553.9 332.8,554.9 331.4,555.6 329.6,556.1 327.6,556.3 325.6,556.1 323.8,555.6 322.5,554.8 321.6,553.8 321.3,552.7" fill="#232323" stroke="#111" stroke-width="0.60" stroke-linejoin="round"/>
<circle r="1" transform="matrix(5.12 -1.98 -3.53 -2.82 327.7 549.2)" fill="#6a6a6a" stroke="#2a2a2a" stroke-width="0.6" vector-effect="non-scaling-stroke"/>
<polygon points="351.0,552.0 351.4,550.9 352.3,549.9 353.8,549.1 355.6,548.6 357.6,548.5 359.6,548.7 361.3,549.2 362.7,550.0 363.6,551.0 363.8,552.1 363.9,555.6 363.5,556.7 362.6,557.7 361.1,558.5 359.3,559.0 357.3,559.1 355.3,559.0 353.6,558.4 352.2,557.6 351.3,556.6 351.1,555.5" fill="#232323" stroke="#111" stroke-width="0.60" stroke-linejoin="round"/>
<circle r="1" transform="matrix(5.12 -1.98 -3.53 -2.82 357.4 552.0)" fill="#6a6a6a" stroke="#2a2a2a" stroke-width="0.6" vector-effect="non-scaling-stroke"/>
<polygon points="303.7,555.9 304.1,554.8 305.0,553.9 306.5,553.1 308.3,552.6 310.3,552.4 312.2,552.6 314.0,553.1 315.4,553.9 316.3,554.9 316.5,556.0 316.6,559.6 316.2,560.7 315.2,561.7 313.8,562.5 312.0,562.9 310.0,563.1 308.0,562.9 306.3,562.4 304.9,561.6 304.0,560.6 303.7,559.5" fill="#232323" stroke="#111" stroke-width="0.60" stroke-linejoin="round"/>
<circle r="1" transform="matrix(5.12 -1.99 -3.53 -2.82 310.1 556.0)" fill="#6a6a6a" stroke="#2a2a2a" stroke-width="0.6" vector-effect="non-scaling-stroke"/>
<polygon points="333.4,558.8 333.8,557.7 334.8,556.7 336.2,556.0 338.0,555.5 340.0,555.3 342.0,555.5 343.7,556.0 345.1,556.8 346.0,557.8 346.3,558.9 346.3,562.5 345.9,563.6 345.0,564.5 343.5,565.3 341.7,565.8 339.7,566.0 337.8,565.8 336.0,565.3 334.6,564.5 333.7,563.5 333.5,562.4" fill="#232323" stroke="#111" stroke-width="0.60" stroke-linejoin="round"/>
<circle r="1" transform="matrix(5.12 -1.99 -3.53 -2.82 339.8 558.9)" fill="#6a6a6a" stroke="#2a2a2a" stroke-width="0.6" vector-effect="non-scaling-stroke"/>
<polygon points="286.1,562.8 286.5,561.7 287.4,560.7 288.9,559.9 290.7,559.4 292.7,559.3 294.7,559.5 296.4,560.0 297.8,560.8 298.7,561.8 298.9,562.9 299.0,566.4 298.6,567.5 297.6,568.5 296.2,569.3 294.4,569.8 292.4,569.9 290.4,569.7 288.7,569.2 287.3,568.4 286.4,567.4 286.1,566.3" fill="#232323" stroke="#111" stroke-width="0.60" stroke-linejoin="round"/>
<circle r="1" transform="matrix(5.12 -1.99 -3.53 -2.82 292.5 562.8)" fill="#6a6a6a" stroke="#2a2a2a" stroke-width="0.6" vector-effect="non-scaling-stroke"/>
<polygon points="315.9,565.6 316.2,564.5 317.2,563.5 318.6,562.8 320.4,562.3 322.4,562.1 324.4,562.3 326.1,562.8 327.5,563.6 328.4,564.6 328.7,565.7 328.7,569.3 328.3,570.4 327.4,571.4 325.9,572.1 324.1,572.6 322.1,572.8 320.2,572.6 318.4,572.1 317.0,571.3 316.1,570.3 315.9,569.2" fill="#232323" stroke="#111" stroke-width="0.60" stroke-linejoin="round"/>
<circle r="1" transform="matrix(5.12 -1.99 -3.53 -2.82 322.3 565.7)" fill="#6a6a6a" stroke="#2a2a2a" stroke-width="0.6" vector-effect="non-scaling-stroke"/>
<polygon points="298.2,572.5 298.6,571.4 299.6,570.4 301.0,569.6 302.8,569.1 304.8,569.0 306.8,569.1 308.6,569.7 309.9,570.5 310.8,571.5 311.1,572.6 311.1,576.1 310.7,577.2 309.8,578.2 308.3,579.0 306.5,579.5 304.5,579.6 302.6,579.4 300.8,578.9 299.4,578.1 298.6,577.1 298.3,576.0" fill="#232323" stroke="#111" stroke-width="0.60" stroke-linejoin="round"/>
<circle r="1" transform="matrix(5.12 -1.99 -3.53 -2.82 304.7 572.5)" fill="#6a6a6a" stroke="#2a2a2a" stroke-width="0.6" vector-effect="non-scaling-stroke"/>
<polygon points="278.6,583.4 278.8,581.6 279.4,580.4 280.3,579.8 287.4,577.0 288.6,577.1 289.9,577.8 291.1,579.1 292.3,580.9 293.2,583.0 293.8,585.1 294.0,587.2 293.8,588.9 293.3,590.1 292.4,590.7 285.2,593.5 284.1,593.4 282.8,592.7 281.5,591.4 280.4,589.6 279.5,587.5 278.9,585.4" fill="#5c5d5f" stroke="#222222" stroke-width="0.70" stroke-linejoin="round"/>
<polygon points="270.5,587.2 270.7,585.8 271.2,584.7 272.0,584.2 281.5,580.5 282.4,580.6 283.5,581.2 284.6,582.3 285.6,583.8 286.4,585.6 286.9,587.4 287.1,589.1 286.9,590.6 286.4,591.6 285.7,592.2 276.2,595.9 275.2,595.8 274.1,595.2 273.0,594.1 272.0,592.5 271.2,590.8 270.7,588.9" fill="#5c5d5f" stroke="#222222" stroke-width="0.70" stroke-linejoin="round"/>
<circle r="1" transform="matrix(-3.52 -2.81 -0.04 -5.16 274.1 590.0)" fill="#6e6f71" stroke="#222222" stroke-width="0.7" vector-effect="non-scaling-stroke"/>
<circle r="1" transform="matrix(-1.58 -1.26 -0.02 -2.31 274.1 590.0)" fill="#3a3a3a" stroke="#222" stroke-width="0.5" vector-effect="non-scaling-stroke"/>
<polygon points="345.2,393.5 1222.9,45.3 1203.9,30.7 327.1,376.8" fill="#7a7a7a" stroke="#222222" stroke-width="1.00" stroke-linejoin="round"/>
<polygon points="346.2,427.4 1222.0,77.3 1222.9,45.3 345.2,393.5" fill="#7c7c7c" stroke="#222222" stroke-width="1.00" stroke-linejoin="round"/>
<polygon points="346.2,427.4 328.2,410.7 327.1,376.8 345.2,393.5" fill="#6d6d6d" stroke="#222222" stroke-width="1.00" stroke-linejoin="round"/>
<polyline points="782.7,197.0 801.2,212.6 801.2,245.5" fill="none" stroke="#222222" stroke-width="0.80" stroke-linejoin="round" stroke-linecap="round"/>
<circle r="1" transform="matrix(10.91 -4.34 -0.32 -11.27 375.2 395.9)" fill="#444444"/>
<circle r="1" transform="matrix(9.60 -3.82 -0.28 -9.88 373.2 394.0)" fill="#7c7c7c" stroke="#3a3a3a" stroke-width="0.9" vector-effect="non-scaling-stroke"/>
<circle r="1" transform="matrix(10.91 -4.34 -0.32 -11.27 375.2 395.9)" fill="none" stroke="#262626" stroke-width="1.6" vector-effect="non-scaling-stroke"/>
<circle r="1" transform="matrix(10.86 -4.32 -0.30 -11.25 404.6 384.2)" fill="#444444"/>
<circle r="1" transform="matrix(9.55 -3.80 -0.26 -9.86 402.6 382.3)" fill="#7c7c7c" stroke="#3a3a3a" stroke-width="0.9" vector-effect="non-scaling-stroke"/>
<circle r="1" transform="matrix(10.86 -4.32 -0.30 -11.25 404.6 384.2)" fill="none" stroke="#262626" stroke-width="1.6" vector-effect="non-scaling-stroke"/>
<circle r="1" transform="matrix(10.80 -4.30 -0.27 -11.23 433.9 372.5)" fill="#444444"/>
<circle r="1" transform="matrix(9.50 -3.78 -0.24 -9.84 431.9 370.7)" fill="#7c7c7c" stroke="#3a3a3a" stroke-width="0.9" vector-effect="non-scaling-stroke"/>
<circle r="1" transform="matrix(10.80 -4.30 -0.27 -11.23 433.9 372.5)" fill="none" stroke="#262626" stroke-width="1.6" vector-effect="non-scaling-stroke"/>
<circle r="1" transform="matrix(10.75 -4.28 -0.25 -11.21 463.0 360.9)" fill="#444444"/>
<circle r="1" transform="matrix(9.45 -3.76 -0.22 -9.83 461.0 359.1)" fill="#7c7c7c" stroke="#3a3a3a" stroke-width="0.9" vector-effect="non-scaling-stroke"/>
<circle r="1" transform="matrix(10.75 -4.28 -0.25 -11.21 463.0 360.9)" fill="none" stroke="#262626" stroke-width="1.6" vector-effect="non-scaling-stroke"/>
<circle r="1" transform="matrix(10.69 -4.26 -0.23 -11.19 491.9 349.4)" fill="#444444"/>
<circle r="1" transform="matrix(9.40 -3.74 -0.20 -9.81 489.9 347.6)" fill="#7c7c7c" stroke="#3a3a3a" stroke-width="0.9" vector-effect="non-scaling-stroke"/>
<circle r="1" transform="matrix(10.69 -4.26 -0.23 -11.19 491.9 349.4)" fill="none" stroke="#262626" stroke-width="1.6" vector-effect="non-scaling-stroke"/>
<circle r="1" transform="matrix(10.64 -4.23 -0.21 -11.17 520.8 337.9)" fill="#444444"/>
<circle r="1" transform="matrix(9.36 -3.72 -0.18 -9.79 518.8 336.1)" fill="#7c7c7c" stroke="#3a3a3a" stroke-width="0.9" vector-effect="non-scaling-stroke"/>
<circle r="1" transform="matrix(10.64 -4.23 -0.21 -11.17 520.8 337.9)" fill="none" stroke="#262626" stroke-width="1.6" vector-effect="non-scaling-stroke"/>
<circle r="1" transform="matrix(10.58 -4.21 -0.19 -11.15 549.4 326.5)" fill="#444444"/>
<circle r="1" transform="matrix(9.31 -3.70 -0.16 -9.77 547.4 324.7)" fill="#7c7c7c" stroke="#3a3a3a" stroke-width="0.9" vector-effect="non-scaling-stroke"/>
<circle r="1" transform="matrix(10.58 -4.21 -0.19 -11.15 549.4 326.5)" fill="none" stroke="#262626" stroke-width="1.6" vector-effect="non-scaling-stroke"/>
<circle r="1" transform="matrix(10.53 -4.19 -0.16 -11.13 578.0 315.2)" fill="#444444"/>
<circle r="1" transform="matrix(9.26 -3.68 -0.14 -9.76 576.0 313.4)" fill="#7c7c7c" stroke="#3a3a3a" stroke-width="0.9" vector-effect="non-scaling-stroke"/>
<circle r="1" transform="matrix(10.53 -4.19 -0.16 -11.13 578.0 315.2)" fill="none" stroke="#262626" stroke-width="1.6" vector-effect="non-scaling-stroke"/>
<circle r="1" transform="matrix(10.48 -4.17 -0.14 -11.11 606.4 303.9)" fill="#444444"/>
<circle r="1" transform="matrix(9.22 -3.67 -0.13 -9.74 604.4 302.1)" fill="#7c7c7c" stroke="#3a3a3a" stroke-width="0.9" vector-effect="non-scaling-stroke"/>
<circle r="1" transform="matrix(10.48 -4.17 -0.14 -11.11 606.4 303.9)" fill="none" stroke="#262626" stroke-width="1.6" vector-effect="non-scaling-stroke"/>
<circle r="1" transform="matrix(10.43 -4.15 -0.12 -11.09 634.6 292.6)" fill="#444444"/>
<circle r="1" transform="matrix(9.17 -3.65 -0.11 -9.72 632.6 290.8)" fill="#7c7c7c" stroke="#3a3a3a" stroke-width="0.9" vector-effect="non-scaling-stroke"/>
<circle r="1" transform="matrix(10.43 -4.15 -0.12 -11.09 634.6 292.6)" fill="none" stroke="#262626" stroke-width="1.6" vector-effect="non-scaling-stroke"/>
<circle r="1" transform="matrix(10.38 -4.13 -0.10 -11.08 662.7 281.4)" fill="#444444"/>
<circle r="1" transform="matrix(9.13 -3.63 -0.09 -9.71 660.7 279.7)" fill="#7c7c7c" stroke="#3a3a3a" stroke-width="0.9" vector-effect="non-scaling-stroke"/>
<circle r="1" transform="matrix(10.38 -4.13 -0.10 -11.08 662.7 281.4)" fill="none" stroke="#262626" stroke-width="1.6" vector-effect="non-scaling-stroke"/>
<circle r="1" transform="matrix(10.32 -4.11 -0.08 -11.06 690.7 270.3)" fill="#444444"/>
<circle r="1" transform="matrix(9.08 -3.61 -0.07 -9.69 688.7 268.5)" fill="#7c7c7c" stroke="#3a3a3a" stroke-width="0.9" vector-effect="non-scaling-stroke"/>
<circle r="1" transform="matrix(10.32 -4.11 -0.08 -11.06 690.7 270.3)" fill="none" stroke="#262626" stroke-width="1.6" vector-effect="non-scaling-stroke"/>
<circle r="1" transform="matrix(10.27 -4.09 -0.06 -11.04 718.6 259.2)" fill="#444444"/>
<circle r="1" transform="matrix(9.04 -3.59 -0.05 -9.67 716.5 257.5)" fill="#7c7c7c" stroke="#3a3a3a" stroke-width="0.9" vector-effect="non-scaling-stroke"/>
<circle r="1" transform="matrix(10.27 -4.09 -0.06 -11.04 718.6 259.2)" fill="none" stroke="#262626" stroke-width="1.6" vector-effect="non-scaling-stroke"/>
<circle r="1" transform="matrix(10.22 -4.07 -0.04 -11.02 746.3 248.2)" fill="#444444"/>
<circle r="1" transform="matrix(8.99 -3.58 -0.04 -9.66 744.2 246.5)" fill="#7c7c7c" stroke="#3a3a3a" stroke-width="0.9" vector-effect="non-scaling-stroke"/>
<circle r="1" transform="matrix(10.22 -4.07 -0.04 -11.02 746.3 248.2)" fill="none" stroke="#262626" stroke-width="1.6" vector-effect="non-scaling-stroke"/>
<circle r="1" transform="matrix(10.17 -4.05 -0.02 -11.00 773.8 237.2)" fill="#444444"/>
<circle r="1" transform="matrix(8.95 -3.56 -0.02 -9.64 771.8 235.5)" fill="#7c7c7c" stroke="#3a3a3a" stroke-width="0.9" vector-effect="non-scaling-stroke"/>
<circle r="1" transform="matrix(10.17 -4.05 -0.02 -11.00 773.8 237.2)" fill="none" stroke="#262626" stroke-width="1.6" vector-effect="non-scaling-stroke"/>
<circle r="1" transform="matrix(10.07 -4.01 0.02 -10.96 828.5 215.4)" fill="#444444"/>
<circle r="1" transform="matrix(8.86 -3.52 0.02 -9.61 826.5 213.7)" fill="#7c7c7c" stroke="#3a3a3a" stroke-width="0.9" vector-effect="non-scaling-stroke"/>
<circle r="1" transform="matrix(10.07 -4.01 0.02 -10.96 828.5 215.4)" fill="none" stroke="#262626" stroke-width="1.6" vector-effect="non-scaling-stroke"/>
<circle r="1" transform="matrix(10.03 -3.99 0.04 -10.94 855.7 204.6)" fill="#444444"/>
<circle r="1" transform="matrix(8.82 -3.51 0.03 -9.59 853.6 202.9)" fill="#7c7c7c" stroke="#3a3a3a" stroke-width="0.9" vector-effect="non-scaling-stroke"/>
<circle r="1" transform="matrix(10.03 -3.99 0.04 -10.94 855.7 204.6)" fill="none" stroke="#262626" stroke-width="1.6" vector-effect="non-scaling-stroke"/>
<circle r="1" transform="matrix(9.98 -3.97 0.06 -10.92 882.7 193.9)" fill="#444444"/>
<circle r="1" transform="matrix(8.78 -3.49 0.05 -9.57 880.7 192.2)" fill="#7c7c7c" stroke="#3a3a3a" stroke-width="0.9" vector-effect="non-scaling-stroke"/>
<circle r="1" transform="matrix(9.98 -3.97 0.06 -10.92 882.7 193.9)" fill="none" stroke="#262626" stroke-width="1.6" vector-effect="non-scaling-stroke"/>
<circle r="1" transform="matrix(9.93 -3.95 0.08 -10.90 909.6 183.2)" fill="#444444"/>
<circle r="1" transform="matrix(8.73 -3.47 0.07 -9.56 907.6 181.5)" fill="#7c7c7c" stroke="#3a3a3a" stroke-width="0.9" vector-effect="non-scaling-stroke"/>
<circle r="1" transform="matrix(9.93 -3.95 0.08 -10.90 909.6 183.2)" fill="none" stroke="#262626" stroke-width="1.6" vector-effect="non-scaling-stroke"/>
<circle r="1" transform="matrix(9.88 -3.93 0.10 -10.89 936.4 172.5)" fill="#444444"/>
<circle r="1" transform="matrix(8.69 -3.46 0.08 -9.54 934.3 170.8)" fill="#7c7c7c" stroke="#3a3a3a" stroke-width="0.9" vector-effect="non-scaling-stroke"/>
<circle r="1" transform="matrix(9.88 -3.93 0.10 -10.89 936.4 172.5)" fill="none" stroke="#262626" stroke-width="1.6" vector-effect="non-scaling-stroke"/>
<circle r="1" transform="matrix(9.83 -3.91 0.12 -10.87 963.0 161.9)" fill="#444444"/>
<circle r="1" transform="matrix(8.65 -3.44 0.10 -9.52 961.0 160.2)" fill="#7c7c7c" stroke="#3a3a3a" stroke-width="0.9" vector-effect="non-scaling-stroke"/>
<circle r="1" transform="matrix(9.83 -3.91 0.12 -10.87 963.0 161.9)" fill="none" stroke="#262626" stroke-width="1.6" vector-effect="non-scaling-stroke"/>
<circle r="1" transform="matrix(9.79 -3.89 0.14 -10.85 989.5 151.4)" fill="#444444"/>
<circle r="1" transform="matrix(8.61 -3.42 0.12 -9.51 987.5 149.7)" fill="#7c7c7c" stroke="#3a3a3a" stroke-width="0.9" vector-effect="non-scaling-stroke"/>
<circle r="1" transform="matrix(9.79 -3.89 0.14 -10.85 989.5 151.4)" fill="none" stroke="#262626" stroke-width="1.6" vector-effect="non-scaling-stroke"/>
<circle r="1" transform="matrix(9.74 -3.88 0.15 -10.83 1015.9 140.9)" fill="#444444"/>
<circle r="1" transform="matrix(8.57 -3.41 0.13 -9.49 1013.9 139.2)" fill="#7c7c7c" stroke="#3a3a3a" stroke-width="0.9" vector-effect="non-scaling-stroke"/>
<circle r="1" transform="matrix(9.74 -3.88 0.15 -10.83 1015.9 140.9)" fill="none" stroke="#262626" stroke-width="1.6" vector-effect="non-scaling-stroke"/>
<circle r="1" transform="matrix(9.69 -3.86 0.17 -10.81 1042.2 130.4)" fill="#444444"/>
<circle r="1" transform="matrix(8.53 -3.39 0.15 -9.48 1040.1 128.8)" fill="#7c7c7c" stroke="#3a3a3a" stroke-width="0.9" vector-effect="non-scaling-stroke"/>
<circle r="1" transform="matrix(9.69 -3.86 0.17 -10.81 1042.2 130.4)" fill="none" stroke="#262626" stroke-width="1.6" vector-effect="non-scaling-stroke"/>
<circle r="1" transform="matrix(9.65 -3.84 0.19 -10.79 1068.3 120.0)" fill="#444444"/>
<circle r="1" transform="matrix(8.48 -3.37 0.17 -9.46 1066.2 118.4)" fill="#7c7c7c" stroke="#3a3a3a" stroke-width="0.9" vector-effect="non-scaling-stroke"/>
<circle r="1" transform="matrix(9.65 -3.84 0.19 -10.79 1068.3 120.0)" fill="none" stroke="#262626" stroke-width="1.6" vector-effect="non-scaling-stroke"/>
<circle r="1" transform="matrix(9.60 -3.82 0.21 -10.77 1094.3 109.7)" fill="#444444"/>
<circle r="1" transform="matrix(8.44 -3.36 0.18 -9.44 1092.2 108.0)" fill="#7c7c7c" stroke="#3a3a3a" stroke-width="0.9" vector-effect="non-scaling-stroke"/>
<circle r="1" transform="matrix(9.60 -3.82 0.21 -10.77 1094.3 109.7)" fill="none" stroke="#262626" stroke-width="1.6" vector-effect="non-scaling-stroke"/>
<circle r="1" transform="matrix(9.55 -3.80 0.23 -10.76 1120.2 99.4)" fill="#444444"/>
<circle r="1" transform="matrix(8.40 -3.34 0.20 -9.43 1118.1 97.7)" fill="#7c7c7c" stroke="#3a3a3a" stroke-width="0.9" vector-effect="non-scaling-stroke"/>
<circle r="1" transform="matrix(9.55 -3.80 0.23 -10.76 1120.2 99.4)" fill="none" stroke="#262626" stroke-width="1.6" vector-effect="non-scaling-stroke"/>
<circle r="1" transform="matrix(9.51 -3.78 0.24 -10.74 1146.0 89.1)" fill="#444444"/>
<circle r="1" transform="matrix(8.36 -3.33 0.21 -9.41 1143.9 87.5)" fill="#7c7c7c" stroke="#3a3a3a" stroke-width="0.9" vector-effect="non-scaling-stroke"/>
<circle r="1" transform="matrix(9.51 -3.78 0.24 -10.74 1146.0 89.1)" fill="none" stroke="#262626" stroke-width="1.6" vector-effect="non-scaling-stroke"/>
<circle r="1" transform="matrix(9.46 -3.77 0.26 -10.72 1171.6 78.9)" fill="#444444"/>
<circle r="1" transform="matrix(8.32 -3.31 0.23 -9.39 1169.5 77.3)" fill="#7c7c7c" stroke="#3a3a3a" stroke-width="0.9" vector-effect="non-scaling-stroke"/>
<circle r="1" transform="matrix(9.46 -3.77 0.26 -10.72 1171.6 78.9)" fill="none" stroke="#262626" stroke-width="1.6" vector-effect="non-scaling-stroke"/>
<circle r="1" transform="matrix(9.42 -3.75 0.28 -10.70 1197.1 68.8)" fill="#444444"/>
<circle r="1" transform="matrix(8.29 -3.30 0.24 -9.38 1195.0 67.1)" fill="#7c7c7c" stroke="#3a3a3a" stroke-width="0.9" vector-effect="non-scaling-stroke"/>
<circle r="1" transform="matrix(9.42 -3.75 0.28 -10.70 1197.1 68.8)" fill="none" stroke="#262626" stroke-width="1.6" vector-effect="non-scaling-stroke"/>
<polygon points="1191.2,42.9 1191.3,37.5 1191.8,35.9 1193.1,34.4 1195.2,33.3 1197.8,32.6 1200.7,32.4 1203.7,32.7 1206.3,33.5 1208.5,34.6 1209.8,36.1 1210.3,37.8 1210.2,43.1 1209.8,44.8 1208.5,46.2 1206.4,47.4 1203.8,48.1 1200.8,48.3 1197.9,48.0 1195.2,47.2 1193.1,46.0 1191.7,44.5" fill="#141414" stroke="#111" stroke-width="0.60" stroke-linejoin="round"/>
<circle r="1" transform="matrix(7.62 -3.01 -5.68 -4.36 1200.8 37.7)" fill="#262626" stroke="#5a5a5a" stroke-width="0.9" vector-effect="non-scaling-stroke"/>
<circle r="1" transform="matrix(4.57 -1.81 -3.41 -2.62 1200.8 37.7)" fill="#0c0c0c" stroke="#333" stroke-width="0.5" vector-effect="non-scaling-stroke"/>
<polygon points="1165.7,53.0 1165.8,47.6 1166.3,46.0 1167.6,44.5 1169.7,43.4 1172.3,42.6 1175.3,42.4 1178.2,42.7 1180.9,43.5 1183.0,44.7 1184.4,46.2 1184.9,47.9 1184.8,53.2 1184.3,54.9 1183.0,56.3 1180.9,57.5 1178.3,58.2 1175.3,58.4 1172.4,58.1 1169.7,57.3 1167.6,56.1 1166.2,54.6" fill="#141414" stroke="#111" stroke-width="0.60" stroke-linejoin="round"/>
<circle r="1" transform="matrix(7.66 -3.03 -5.68 -4.38 1175.4 47.7)" fill="#262626" stroke="#5a5a5a" stroke-width="0.9" vector-effect="non-scaling-stroke"/>
<circle r="1" transform="matrix(4.60 -1.82 -3.41 -2.63 1175.4 47.7)" fill="#0c0c0c" stroke="#333" stroke-width="0.5" vector-effect="non-scaling-stroke"/>
<polygon points="1140.1,63.1 1140.2,57.7 1140.7,56.1 1142.0,54.6 1144.1,53.5 1146.8,52.7 1149.7,52.5 1152.7,52.8 1155.3,53.6 1157.5,54.8 1158.8,56.3 1159.3,58.0 1159.2,63.4 1158.8,65.0 1157.4,66.5 1155.3,67.6 1152.7,68.4 1149.7,68.6 1146.8,68.3 1144.1,67.5 1142.0,66.3 1140.6,64.8" fill="#141414" stroke="#111" stroke-width="0.60" stroke-linejoin="round"/>
<circle r="1" transform="matrix(7.70 -3.04 -5.67 -4.40 1149.8 57.8)" fill="#262626" stroke="#5a5a5a" stroke-width="0.9" vector-effect="non-scaling-stroke"/>
<circle r="1" transform="matrix(4.62 -1.83 -3.40 -2.64 1149.8 57.8)" fill="#0c0c0c" stroke="#333" stroke-width="0.5" vector-effect="non-scaling-stroke"/>
<polygon points="1114.4,73.3 1114.5,67.9 1114.9,66.2 1116.3,64.8 1118.4,63.6 1121.1,62.9 1124.0,62.6 1127.0,62.9 1129.7,63.7 1131.8,65.0 1133.2,66.5 1133.6,68.1 1133.5,73.5 1133.1,75.2 1131.7,76.7 1129.6,77.8 1126.9,78.5 1124.0,78.8 1121.0,78.5 1118.3,77.7 1116.2,76.5 1114.8,74.9" fill="#141414" stroke="#111" stroke-width="0.60" stroke-linejoin="round"/>
<circle r="1" transform="matrix(7.73 -3.06 -5.66 -4.42 1124.1 68.0)" fill="#262626" stroke="#5a5a5a" stroke-width="0.9" vector-effect="non-scaling-stroke"/>
<circle r="1" transform="matrix(4.64 -1.83 -3.40 -2.65 1124.1 68.0)" fill="#0c0c0c" stroke="#333" stroke-width="0.5" vector-effect="non-scaling-stroke"/>
<polygon points="1088.5,83.5 1088.6,78.1 1089.1,76.4 1090.4,75.0 1092.6,73.8 1095.2,73.1 1098.2,72.8 1101.2,73.1 1103.8,73.9 1106.0,75.2 1107.3,76.7 1107.8,78.3 1107.7,83.7 1107.2,85.4 1105.9,86.9 1103.8,88.1 1101.1,88.8 1098.1,89.0 1095.1,88.7 1092.5,87.9 1090.3,86.7 1089.0,85.2" fill="#141414" stroke="#111" stroke-width="0.60" stroke-linejoin="round"/>
<circle r="1" transform="matrix(7.77 -3.07 -5.66 -4.44 1098.2 78.2)" fill="#262626" stroke="#5a5a5a" stroke-width="0.9" vector-effect="non-scaling-stroke"/>
<circle r="1" transform="matrix(4.66 -1.84 -3.39 -2.66 1098.2 78.2)" fill="#0c0c0c" stroke="#333" stroke-width="0.5" vector-effect="non-scaling-stroke"/>
<polygon points="1062.5,93.8 1062.6,88.4 1063.1,86.7 1064.5,85.2 1066.6,84.0 1069.3,83.3 1072.3,83.1 1075.2,83.4 1077.9,84.2 1080.0,85.4 1081.4,86.9 1081.9,88.6 1081.8,94.0 1081.3,95.7 1079.9,97.2 1077.8,98.3 1075.1,99.1 1072.1,99.3 1069.2,99.0 1066.5,98.2 1064.3,97.0 1063.0,95.5" fill="#141414" stroke="#111" stroke-width="0.60" stroke-linejoin="round"/>
<circle r="1" transform="matrix(7.81 -3.09 -5.65 -4.46 1072.2 88.5)" fill="#262626" stroke="#5a5a5a" stroke-width="0.9" vector-effect="non-scaling-stroke"/>
<circle r="1" transform="matrix(4.68 -1.85 -3.39 -2.67 1072.2 88.5)" fill="#0c0c0c" stroke="#333" stroke-width="0.5" vector-effect="non-scaling-stroke"/>
<polygon points="1036.4,104.1 1036.5,98.7 1037.0,97.0 1038.4,95.5 1040.5,94.3 1043.2,93.6 1046.2,93.4 1049.2,93.7 1051.9,94.5 1054.0,95.7 1055.4,97.2 1055.8,98.9 1055.7,104.3 1055.2,106.0 1053.9,107.5 1051.7,108.7 1049.0,109.4 1046.0,109.7 1043.0,109.4 1040.3,108.5 1038.2,107.3 1036.9,105.8" fill="#141414" stroke="#111" stroke-width="0.60" stroke-linejoin="round"/>
<circle r="1" transform="matrix(7.85 -3.10 -5.65 -4.47 1046.2 98.8)" fill="#262626" stroke="#5a5a5a" stroke-width="0.9" vector-effect="non-scaling-stroke"/>
<circle r="1" transform="matrix(4.71 -1.86 -3.39 -2.68 1046.2 98.8)" fill="#0c0c0c" stroke="#333" stroke-width="0.5" vector-effect="non-scaling-stroke"/>
<polygon points="1010.2,114.5 1010.2,109.0 1010.8,107.3 1012.1,105.8 1014.3,104.7 1017.0,103.9 1020.0,103.7 1023.0,104.0 1025.7,104.8 1027.8,106.0 1029.2,107.6 1029.6,109.3 1029.5,114.7 1029.1,116.4 1027.7,117.9 1025.5,119.1 1022.8,119.8 1019.8,120.1 1016.8,119.8 1014.1,118.9 1012.0,117.7 1010.6,116.2" fill="#141414" stroke="#111" stroke-width="0.60" stroke-linejoin="round"/>
<circle r="1" transform="matrix(7.88 -3.12 -5.64 -4.49 1019.9 109.2)" fill="#262626" stroke="#5a5a5a" stroke-width="0.9" vector-effect="non-scaling-stroke"/>
<circle r="1" transform="matrix(4.73 -1.87 -3.38 -2.70 1019.9 109.2)" fill="#0c0c0c" stroke="#333" stroke-width="0.5" vector-effect="non-scaling-stroke"/>
<polygon points="983.8,124.9 983.9,119.5 984.4,117.8 985.8,116.2 988.0,115.1 990.7,114.3 993.7,114.1 996.7,114.4 999.4,115.2 1001.5,116.4 1002.9,118.0 1003.3,119.7 1003.2,125.1 1002.8,126.8 1001.3,128.3 999.2,129.5 996.5,130.3 993.4,130.5 990.4,130.2 987.7,129.4 985.6,128.1 984.3,126.6" fill="#141414" stroke="#111" stroke-width="0.60" stroke-linejoin="round"/>
<circle r="1" transform="matrix(7.92 -3.13 -5.63 -4.51 993.6 119.6)" fill="#262626" stroke="#5a5a5a" stroke-width="0.9" vector-effect="non-scaling-stroke"/>
<circle r="1" transform="matrix(4.75 -1.88 -3.38 -2.71 993.6 119.6)" fill="#0c0c0c" stroke="#333" stroke-width="0.5" vector-effect="non-scaling-stroke"/>
<polygon points="957.3,135.3 957.4,129.9 957.9,128.2 959.3,126.7 961.5,125.5 964.2,124.8 967.3,124.5 970.3,124.8 973.0,125.6 975.1,126.9 976.4,128.4 976.9,130.2 976.8,135.6 976.3,137.3 974.9,138.8 972.7,140.0 970.0,140.8 967.0,141.0 963.9,140.7 961.2,139.9 959.1,138.6 957.8,137.1" fill="#141414" stroke="#111" stroke-width="0.60" stroke-linejoin="round"/>
<circle r="1" transform="matrix(7.96 -3.15 -5.62 -4.53 967.1 130.0)" fill="#262626" stroke="#5a5a5a" stroke-width="0.9" vector-effect="non-scaling-stroke"/>
<circle r="1" transform="matrix(4.78 -1.89 -3.37 -2.72 967.1 130.0)" fill="#0c0c0c" stroke="#333" stroke-width="0.5" vector-effect="non-scaling-stroke"/>
<polygon points="930.7,145.9 930.8,140.4 931.3,138.7 932.7,137.2 934.9,136.0 937.7,135.2 940.7,135.0 943.7,135.3 946.4,136.1 948.5,137.4 949.9,138.9 950.3,140.7 950.3,146.1 949.7,147.8 948.3,149.3 946.1,150.6 943.4,151.3 940.3,151.5 937.3,151.2 934.6,150.4 932.5,149.2 931.1,147.6" fill="#141414" stroke="#111" stroke-width="0.60" stroke-linejoin="round"/>
<circle r="1" transform="matrix(8.00 -3.16 -5.62 -4.55 940.5 140.5)" fill="#262626" stroke="#5a5a5a" stroke-width="0.9" vector-effect="non-scaling-stroke"/>
<circle r="1" transform="matrix(4.80 -1.90 -3.37 -2.73 940.5 140.5)" fill="#0c0c0c" stroke="#333" stroke-width="0.5" vector-effect="non-scaling-stroke"/>
<polygon points="904.0,156.4 904.0,151.0 904.6,149.3 906.0,147.7 908.2,146.5 911.0,145.8 914.0,145.5 917.0,145.8 919.7,146.7 921.9,147.9 923.2,149.5 923.6,151.2 923.6,156.7 923.0,158.4 921.6,159.9 919.4,161.1 916.6,161.9 913.6,162.1 910.6,161.8 907.9,161.0 905.7,159.7 904.4,158.2" fill="#141414" stroke="#111" stroke-width="0.60" stroke-linejoin="round"/>
<circle r="1" transform="matrix(8.04 -3.18 -5.61 -4.57 913.8 151.1)" fill="#262626" stroke="#5a5a5a" stroke-width="0.9" vector-effect="non-scaling-stroke"/>
<circle r="1" transform="matrix(4.82 -1.91 -3.37 -2.74 913.8 151.1)" fill="#0c0c0c" stroke="#333" stroke-width="0.5" vector-effect="non-scaling-stroke"/>
<polygon points="877.1,167.1 877.1,161.6 877.7,159.9 879.1,158.3 881.4,157.1 884.1,156.4 887.2,156.1 890.2,156.4 892.9,157.3 895.0,158.5 896.4,160.1 896.8,161.8 896.8,167.3 896.2,169.0 894.8,170.6 892.5,171.8 889.8,172.5 886.7,172.8 883.7,172.5 881.0,171.7 878.9,170.4 877.5,168.8" fill="#141414" stroke="#111" stroke-width="0.60" stroke-linejoin="round"/>
<circle r="1" transform="matrix(8.08 -3.19 -5.60 -4.59 887.0 161.7)" fill="#262626" stroke="#5a5a5a" stroke-width="0.9" vector-effect="non-scaling-stroke"/>
<circle r="1" transform="matrix(4.85 -1.92 -3.36 -2.75 887.0 161.7)" fill="#0c0c0c" stroke="#333" stroke-width="0.5" vector-effect="non-scaling-stroke"/>
<polygon points="850.1,177.8 850.1,172.3 850.7,170.5 852.2,169.0 854.4,167.8 857.2,167.0 860.2,166.8 863.2,167.1 866.0,167.9 868.1,169.2 869.4,170.8 869.8,172.5 869.8,178.0 869.2,179.7 867.8,181.2 865.6,182.5 862.8,183.2 859.7,183.5 856.7,183.2 854.0,182.3 851.8,181.1 850.5,179.5" fill="#141414" stroke="#111" stroke-width="0.60" stroke-linejoin="round"/>
<circle r="1" transform="matrix(8.12 -3.21 -5.60 -4.61 860.0 172.4)" fill="#262626" stroke="#5a5a5a" stroke-width="0.9" vector-effect="non-scaling-stroke"/>
<circle r="1" transform="matrix(4.87 -1.92 -3.36 -2.76 860.0 172.4)" fill="#0c0c0c" stroke="#333" stroke-width="0.5" vector-effect="non-scaling-stroke"/>
<polygon points="823.0,188.5 823.0,183.0 823.5,181.2 825.0,179.7 827.3,178.5 830.1,177.7 833.1,177.5 836.2,177.8 838.9,178.6 841.0,179.9 842.3,181.5 842.8,183.2 842.7,188.7 842.2,190.4 840.7,192.0 838.4,193.2 835.6,194.0 832.6,194.2 829.5,193.9 826.8,193.1 824.7,191.8 823.4,190.2" fill="#141414" stroke="#111" stroke-width="0.60" stroke-linejoin="round"/>
<circle r="1" transform="matrix(8.15 -3.22 -5.59 -4.63 832.9 183.1)" fill="#262626" stroke="#5a5a5a" stroke-width="0.9" vector-effect="non-scaling-stroke"/>
<circle r="1" transform="matrix(4.89 -1.93 -3.35 -2.78 832.9 183.1)" fill="#0c0c0c" stroke="#333" stroke-width="0.5" vector-effect="non-scaling-stroke"/>
<polygon points="795.7,193.8 796.3,192.0 797.8,190.4 800.0,189.2 802.8,188.4 805.9,188.2 809.0,188.5 811.7,189.3 813.8,190.6 815.1,192.2 815.5,194.0 815.5,199.5 814.9,201.2 813.5,202.8 811.2,204.0 808.4,204.8 805.3,205.0 802.3,204.7 799.5,203.9 797.4,202.6 796.1,201.0 795.7,199.2" fill="#141414" stroke="#111" stroke-width="0.60" stroke-linejoin="round"/>
<circle r="1" transform="matrix(8.19 -3.24 -5.58 -4.65 805.6 193.9)" fill="#262626" stroke="#5a5a5a" stroke-width="0.9" vector-effect="non-scaling-stroke"/>
<circle r="1" transform="matrix(4.92 -1.94 -3.35 -2.79 805.6 193.9)" fill="#0c0c0c" stroke="#333" stroke-width="0.5" vector-effect="non-scaling-stroke"/>
<polygon points="768.3,204.6 768.9,202.8 770.4,201.3 772.7,200.0 775.5,199.2 778.6,199.0 781.6,199.3 784.3,200.2 786.5,201.4 787.8,203.0 788.2,204.8 788.2,210.3 787.6,212.1 786.1,213.6 783.8,214.9 781.0,215.7 777.9,215.9 774.9,215.6 772.1,214.7 770.0,213.5 768.7,211.8 768.3,210.1" fill="#141414" stroke="#111" stroke-width="0.60" stroke-linejoin="round"/>
<circle r="1" transform="matrix(8.23 -3.25 -5.57 -4.67 778.2 204.7)" fill="#262626" stroke="#5a5a5a" stroke-width="0.9" vector-effect="non-scaling-stroke"/>
<circle r="1" transform="matrix(4.94 -1.95 -3.34 -2.80 778.2 204.7)" fill="#0c0c0c" stroke="#333" stroke-width="0.5" vector-effect="non-scaling-stroke"/>
<polygon points="740.8,215.4 741.4,213.7 742.9,212.1 745.2,210.9 748.0,210.1 751.1,209.9 754.1,210.2 756.9,211.0 759.0,212.3 760.3,213.9 760.7,215.7 760.7,221.2 760.1,222.9 758.6,224.5 756.3,225.8 753.5,226.6 750.4,226.8 747.3,226.5 744.6,225.7 742.5,224.4 741.1,222.8 740.8,221.0" fill="#141414" stroke="#111" stroke-width="0.60" stroke-linejoin="round"/>
<circle r="1" transform="matrix(8.28 -3.27 -5.56 -4.69 750.7 215.6)" fill="#262626" stroke="#5a5a5a" stroke-width="0.9" vector-effect="non-scaling-stroke"/>
<circle r="1" transform="matrix(4.97 -1.96 -3.34 -2.81 750.7 215.6)" fill="#0c0c0c" stroke="#333" stroke-width="0.5" vector-effect="non-scaling-stroke"/>
<polygon points="713.1,226.4 713.7,224.6 715.2,223.0 717.5,221.8 720.4,221.0 723.5,220.8 726.5,221.1 729.2,221.9 731.4,223.2 732.7,224.8 733.1,226.6 733.1,232.1 732.5,233.9 731.0,235.5 728.6,236.7 725.8,237.5 722.7,237.8 719.6,237.5 716.9,236.6 714.8,235.3 713.5,233.7 713.1,231.9" fill="#141414" stroke="#111" stroke-width="0.60" stroke-linejoin="round"/>
<circle r="1" transform="matrix(8.32 -3.29 -5.56 -4.71 723.1 226.5)" fill="#262626" stroke="#5a5a5a" stroke-width="0.9" vector-effect="non-scaling-stroke"/>
<circle r="1" transform="matrix(4.99 -1.97 -3.33 -2.82 723.1 226.5)" fill="#0c0c0c" stroke="#333" stroke-width="0.5" vector-effect="non-scaling-stroke"/>
<polygon points="685.2,237.4 685.9,235.6 687.4,234.0 689.7,232.8 692.6,232.0 695.7,231.7 698.8,232.0 701.5,232.9 703.6,234.2 704.9,235.8 705.3,237.6 705.3,243.1 704.7,244.9 703.2,246.5 700.9,247.8 698.0,248.5 694.9,248.8 691.8,248.5 689.1,247.6 687.0,246.3 685.6,244.7 685.3,242.9" fill="#141414" stroke="#111" stroke-width="0.60" stroke-linejoin="round"/>
<circle r="1" transform="matrix(8.36 -3.30 -5.55 -4.73 695.3 237.5)" fill="#262626" stroke="#5a5a5a" stroke-width="0.9" vector-effect="non-scaling-stroke"/>
<circle r="1" transform="matrix(5.01 -1.98 -3.33 -2.84 695.3 237.5)" fill="#0c0c0c" stroke="#333" stroke-width="0.5" vector-effect="non-scaling-stroke"/>
<polygon points="657.3,248.4 657.9,246.6 659.5,245.0 661.8,243.8 664.7,243.0 667.8,242.7 670.9,243.0 673.6,243.9 675.7,245.2 677.0,246.8 677.4,248.6 677.4,254.2 676.8,255.9 675.3,257.6 672.9,258.8 670.1,259.6 666.9,259.9 663.9,259.6 661.1,258.7 659.0,257.4 657.7,255.8 657.4,253.9" fill="#141414" stroke="#111" stroke-width="0.60" stroke-linejoin="round"/>
<circle r="1" transform="matrix(8.40 -3.32 -5.54 -4.75 667.3 248.5)" fill="#262626" stroke="#5a5a5a" stroke-width="0.9" vector-effect="non-scaling-stroke"/>
<circle r="1" transform="matrix(5.04 -1.99 -3.32 -2.85 667.3 248.5)" fill="#0c0c0c" stroke="#333" stroke-width="0.5" vector-effect="non-scaling-stroke"/>
<polygon points="629.2,259.5 629.9,257.7 631.4,256.1 633.8,254.8 636.6,254.0 639.8,253.8 642.9,254.1 645.6,255.0 647.7,256.3 649.0,257.9 649.4,259.7 649.4,265.3 648.8,267.1 647.2,268.7 644.9,269.9 642.0,270.7 638.9,271.0 635.8,270.7 633.0,269.8 630.9,268.5 629.6,266.9 629.3,265.1" fill="#141414" stroke="#111" stroke-width="0.60" stroke-linejoin="round"/>
<circle r="1" transform="matrix(8.44 -3.34 -5.53 -4.77 639.3 259.6)" fill="#262626" stroke="#5a5a5a" stroke-width="0.9" vector-effect="non-scaling-stroke"/>
<circle r="1" transform="matrix(5.06 -2.00 -3.32 -2.86 639.3 259.6)" fill="#0c0c0c" stroke="#333" stroke-width="0.5" vector-effect="non-scaling-stroke"/>
<polygon points="601.0,270.6 601.6,268.9 603.2,267.2 605.6,266.0 608.5,265.2 611.6,264.9 614.7,265.2 617.4,266.1 619.5,267.4 620.9,269.1 621.2,270.9 621.2,276.4 620.6,278.2 619.0,279.8 616.7,281.1 613.8,281.9 610.6,282.2 607.5,281.9 604.8,281.0 602.7,279.7 601.4,278.0 601.0,276.2" fill="#141414" stroke="#111" stroke-width="0.60" stroke-linejoin="round"/>
<circle r="1" transform="matrix(8.48 -3.35 -5.52 -4.79 611.1 270.8)" fill="#262626" stroke="#5a5a5a" stroke-width="0.9" vector-effect="non-scaling-stroke"/>
<circle r="1" transform="matrix(5.09 -2.01 -3.31 -2.87 611.1 270.8)" fill="#0c0c0c" stroke="#333" stroke-width="0.5" vector-effect="non-scaling-stroke"/>
<polygon points="572.6,281.9 573.3,280.1 574.9,278.4 577.2,277.1 580.1,276.4 583.3,276.1 586.4,276.4 589.1,277.3 591.2,278.6 592.5,280.2 592.9,282.1 592.9,287.6 592.3,289.4 590.7,291.1 588.3,292.4 585.4,293.2 582.3,293.4 579.1,293.1 576.4,292.2 574.3,290.9 573.0,289.2 572.7,287.4" fill="#141414" stroke="#111" stroke-width="0.60" stroke-linejoin="round"/>
<circle r="1" transform="matrix(8.53 -3.37 -5.51 -4.81 582.7 282.0)" fill="#262626" stroke="#5a5a5a" stroke-width="0.9" vector-effect="non-scaling-stroke"/>
<circle r="1" transform="matrix(5.12 -2.02 -3.31 -2.89 582.7 282.0)" fill="#0c0c0c" stroke="#333" stroke-width="0.5" vector-effect="non-scaling-stroke"/>
<polygon points="544.1,293.1 544.8,291.3 546.4,289.7 548.7,288.4 551.7,287.6 554.8,287.3 557.9,287.6 560.7,288.5 562.8,289.8 564.1,291.5 564.4,293.3 564.5,298.9 563.8,300.7 562.2,302.4 559.8,303.6 556.9,304.4 553.8,304.7 550.6,304.4 547.9,303.5 545.8,302.2 544.5,300.5 544.2,298.7" fill="#141414" stroke="#111" stroke-width="0.60" stroke-linejoin="round"/>
<circle r="1" transform="matrix(8.57 -3.39 -5.50 -4.83 554.2 293.2)" fill="#262626" stroke="#5a5a5a" stroke-width="0.9" vector-effect="non-scaling-stroke"/>
<circle r="1" transform="matrix(5.14 -2.03 -3.30 -2.90 554.2 293.2)" fill="#0c0c0c" stroke="#333" stroke-width="0.5" vector-effect="non-scaling-stroke"/>
<polygon points="515.4,304.4 516.1,302.6 517.7,301.0 520.1,299.7 523.0,298.9 526.2,298.6 529.4,298.9 532.1,299.8 534.2,301.1 535.5,302.8 535.8,304.6 535.9,310.2 535.2,312.1 533.6,313.7 531.2,315.0 528.3,315.8 525.1,316.1 522.0,315.7 519.2,314.9 517.1,313.5 515.8,311.9 515.5,310.0" fill="#141414" stroke="#111" stroke-width="0.60" stroke-linejoin="round"/>
<circle r="1" transform="matrix(8.61 -3.40 -5.49 -4.85 525.6 304.5)" fill="#262626" stroke="#5a5a5a" stroke-width="0.9" vector-effect="non-scaling-stroke"/>
<circle r="1" transform="matrix(5.17 -2.04 -3.30 -2.91 525.6 304.5)" fill="#0c0c0c" stroke="#333" stroke-width="0.5" vector-effect="non-scaling-stroke"/>
<polygon points="486.6,315.8 487.3,314.0 488.9,312.3 491.4,311.0 494.3,310.2 497.5,310.0 500.6,310.3 503.4,311.1 505.5,312.5 506.8,314.2 507.1,316.0 507.2,321.6 506.5,323.4 504.8,325.1 502.4,326.4 499.5,327.2 496.3,327.5 493.2,327.1 490.4,326.3 488.3,324.9 487.0,323.3 486.7,321.4" fill="#141414" stroke="#111" stroke-width="0.60" stroke-linejoin="round"/>
<circle r="1" transform="matrix(8.65 -3.42 -5.48 -4.87 496.8 315.9)" fill="#262626" stroke="#5a5a5a" stroke-width="0.9" vector-effect="non-scaling-stroke"/>
<circle r="1" transform="matrix(5.19 -2.05 -3.29 -2.92 496.8 315.9)" fill="#0c0c0c" stroke="#333" stroke-width="0.5" vector-effect="non-scaling-stroke"/>
<polygon points="457.7,327.2 458.4,325.4 460.0,323.7 462.4,322.4 465.4,321.6 468.6,321.4 471.7,321.7 474.5,322.6 476.6,323.9 477.9,325.6 478.2,327.4 478.3,333.0 477.6,334.9 475.9,336.6 473.5,337.9 470.6,338.7 467.4,338.9 464.2,338.6 461.5,337.7 459.3,336.4 458.1,334.7 457.8,332.9" fill="#141414" stroke="#111" stroke-width="0.60" stroke-linejoin="round"/>
<circle r="1" transform="matrix(8.70 -3.44 -5.47 -4.90 467.9 327.3)" fill="#262626" stroke="#5a5a5a" stroke-width="0.9" vector-effect="non-scaling-stroke"/>
<circle r="1" transform="matrix(5.22 -2.06 -3.28 -2.94 467.9 327.3)" fill="#0c0c0c" stroke="#333" stroke-width="0.5" vector-effect="non-scaling-stroke"/>
<polygon points="428.6,338.7 429.3,336.9 431.0,335.2 433.4,333.9 436.4,333.1 439.6,332.8 442.7,333.1 445.5,334.0 447.6,335.4 448.9,337.1 449.1,338.9 449.3,344.5 448.6,346.4 446.9,348.1 444.5,349.4 441.5,350.2 438.3,350.5 435.1,350.1 432.4,349.3 430.2,347.9 429.0,346.2 428.7,344.4" fill="#141414" stroke="#111" stroke-width="0.60" stroke-linejoin="round"/>
<circle r="1" transform="matrix(8.74 -3.45 -5.47 -4.92 438.9 338.8)" fill="#262626" stroke="#5a5a5a" stroke-width="0.9" vector-effect="non-scaling-stroke"/>
<circle r="1" transform="matrix(5.25 -2.07 -3.28 -2.95 438.9 338.8)" fill="#0c0c0c" stroke="#333" stroke-width="0.5" vector-effect="non-scaling-stroke"/>
<polygon points="399.3,350.3 400.1,348.4 401.7,346.7 404.2,345.4 407.2,344.6 410.4,344.3 413.5,344.7 416.3,345.5 418.4,346.9 419.7,348.6 419.9,350.5 420.1,356.1 419.4,358.0 417.7,359.6 415.2,360.9 412.3,361.8 409.0,362.1 405.9,361.7 403.1,360.8 401.0,359.5 399.7,357.8 399.5,355.9" fill="#141414" stroke="#111" stroke-width="0.60" stroke-linejoin="round"/>
<circle r="1" transform="matrix(8.79 -3.47 -5.46 -4.94 409.6 350.4)" fill="#262626" stroke="#5a5a5a" stroke-width="0.9" vector-effect="non-scaling-stroke"/>
<circle r="1" transform="matrix(5.27 -2.08 -3.27 -2.96 409.6 350.4)" fill="#0c0c0c" stroke="#333" stroke-width="0.5" vector-effect="non-scaling-stroke"/>
<polygon points="369.9,361.9 370.7,360.0 372.4,358.3 374.8,357.0 377.8,356.2 381.1,355.9 384.2,356.2 387.0,357.1 389.1,358.5 390.4,360.2 390.6,362.1 390.8,367.7 390.0,369.6 388.3,371.3 385.9,372.6 382.9,373.4 379.6,373.7 376.5,373.4 373.7,372.5 371.6,371.1 370.4,369.4 370.1,367.5" fill="#141414" stroke="#111" stroke-width="0.60" stroke-linejoin="round"/>
<circle r="1" transform="matrix(8.83 -3.49 -5.44 -4.96 380.3 362.0)" fill="#262626" stroke="#5a5a5a" stroke-width="0.9" vector-effect="non-scaling-stroke"/>
<circle r="1" transform="matrix(5.30 -2.09 -3.27 -2.98 380.3 362.0)" fill="#0c0c0c" stroke="#333" stroke-width="0.5" vector-effect="non-scaling-stroke"/>
<polygon points="340.4,373.5 341.2,371.7 342.9,370.0 345.3,368.7 348.3,367.8 351.6,367.6 354.8,367.9 357.5,368.8 359.6,370.1 360.9,371.8 361.1,373.7 361.3,379.4 360.6,381.3 358.9,382.9 356.4,384.3 353.4,385.1 350.1,385.4 346.9,385.1 344.2,384.2 342.1,382.8 340.8,381.1 340.6,379.2" fill="#141414" stroke="#111" stroke-width="0.60" stroke-linejoin="round"/>
<circle r="1" transform="matrix(8.88 -3.51 -5.43 -4.98 350.8 373.6)" fill="#262626" stroke="#5a5a5a" stroke-width="0.9" vector-effect="non-scaling-stroke"/>
<circle r="1" transform="matrix(5.33 -2.10 -3.26 -2.99 350.8 373.6)" fill="#0c0c0c" stroke="#333" stroke-width="0.5" vector-effect="non-scaling-stroke"/>
<polygon points="737.2,294.4 901.3,228.5 901.6,195.6 737.1,261.2" fill="#c1c1c1" stroke="#222222" stroke-width="0.80" stroke-linejoin="round"/>
<polygon points="977.2,291.1 901.3,228.5 901.6,195.6 977.6,258.1" fill="#b4b4b4" stroke="#222222" stroke-width="0.80" stroke-linejoin="round"/>
<polyline points="755.0,287.3 754.9,267.9 754.9,267.9 755.5,264.3 757.2,260.6 759.9,257.3 763.1,254.9 766.6,253.5 769.8,253.4 772.5,254.5 774.2,256.8 774.8,260.0 774.8,279.3" fill="none" stroke="#333" stroke-width="1.10" stroke-linejoin="round" stroke-linecap="round"/>
<circle r="1" transform="matrix(7.74 -3.10 -0.02 -7.73 764.9 264.0)" fill="none" stroke="#444" stroke-width="1.0" vector-effect="non-scaling-stroke"/>
<polyline points="810.0,265.1 810.0,245.9 810.0,245.9 810.6,242.3 812.4,238.6 815.0,235.3 818.2,232.9 821.6,231.5 824.8,231.4 827.5,232.6 829.2,234.8 829.8,238.0 829.7,257.2" fill="none" stroke="#333" stroke-width="1.10" stroke-linejoin="round" stroke-linecap="round"/>
<circle r="1" transform="matrix(7.67 -3.07 0.01 -7.71 819.9 241.9)" fill="none" stroke="#444" stroke-width="1.0" vector-effect="non-scaling-stroke"/>
<polyline points="864.6,243.2 864.6,224.0 864.6,224.0 865.2,220.4 867.0,216.8 869.6,213.5 872.8,211.1 876.2,209.7 879.3,209.6 881.9,210.8 883.6,213.1 884.2,216.2 884.1,235.4" fill="none" stroke="#333" stroke-width="1.10" stroke-linejoin="round" stroke-linecap="round"/>
<circle r="1" transform="matrix(7.59 -3.04 0.04 -7.68 874.4 220.1)" fill="none" stroke="#444" stroke-width="1.0" vector-effect="non-scaling-stroke"/>
<polyline points="926.9,249.6 927.1,230.4 927.1,230.4 926.7,226.7 925.6,222.8 923.8,219.1 921.6,216.1 919.2,214.1 917.0,213.5 915.1,214.2 913.9,216.2 913.5,219.2 913.4,238.4" fill="none" stroke="#333" stroke-width="1.10" stroke-linejoin="round" stroke-linecap="round"/>
<circle r="1" transform="matrix(-5.29 -4.36 0.06 -7.68 920.3 224.8)" fill="none" stroke="#444" stroke-width="1.0" vector-effect="non-scaling-stroke"/>
<polyline points="945.9,265.3 946.1,246.1 946.1,246.1 945.7,242.3 944.5,238.4 942.7,234.7 940.5,231.7 938.1,229.7 935.9,229.1 934.1,229.8 932.9,231.8 932.4,234.8 932.2,254.0" fill="none" stroke="#333" stroke-width="1.10" stroke-linejoin="round" stroke-linecap="round"/>
<circle r="1" transform="matrix(-5.32 -4.38 0.07 -7.69 939.2 240.4)" fill="none" stroke="#444" stroke-width="1.0" vector-effect="non-scaling-stroke"/>
<polyline points="964.9,281.0 965.1,261.8 965.1,261.8 964.8,258.1 963.6,254.1 961.8,250.4 959.6,247.3 957.2,245.4 954.9,244.7 953.1,245.4 951.9,247.4 951.4,250.5 951.2,269.7" fill="none" stroke="#333" stroke-width="1.10" stroke-linejoin="round" stroke-linecap="round"/>
<circle r="1" transform="matrix(-5.34 -4.40 0.08 -7.70 958.3 256.1)" fill="none" stroke="#444" stroke-width="1.0" vector-effect="non-scaling-stroke"/>
<polygon points="783.1,256.7 783.5,253.6 784.9,250.4 786.9,247.5 789.5,245.2 792.5,243.5 795.3,242.8 798.0,243.1 800.0,244.4 810.3,253.1 811.6,255.1 812.1,257.8 811.6,260.9 810.3,264.1 808.2,267.0 805.6,269.4 802.7,271.0 799.9,271.7 797.2,271.4 795.2,270.1 784.9,261.5 783.5,259.4" fill="#1f4fc0" stroke="#0c2460" stroke-width="0.70" stroke-linejoin="round"/>
<polygon points="794.4,263.8 794.7,261.3 795.8,258.8 797.4,256.5 799.5,254.6 801.8,253.3 804.1,252.8 806.2,253.0 807.8,254.0 818.1,262.7 819.2,264.4 819.6,266.5 819.2,269.0 818.1,271.5 816.5,273.8 814.4,275.7 812.1,276.9 809.8,277.5 807.8,277.3 806.1,276.3 795.8,267.6 794.7,265.9" fill="#2456c4" stroke="#0c2460" stroke-width="0.70" stroke-linejoin="round"/>
<circle r="1" transform="matrix(7.44 -2.99 0.01 -7.46 812.1 269.5)" fill="#2f63cf" stroke="#0c2460" stroke-width="0.7" vector-effect="non-scaling-stroke"/>
<circle r="1" transform="matrix(7.44 -2.99 0.00 -7.45 807.8 265.9)" fill="none" stroke="#143a8e" stroke-width="0.9" vector-effect="non-scaling-stroke"/>
<circle r="1" transform="matrix(3.31 -1.33 0.00 -3.31 812.1 269.5)" fill="#1a45a6" stroke="#0c2460" stroke-width="0.5" vector-effect="non-scaling-stroke"/>
<polygon points="838.0,234.7 838.4,231.7 839.7,228.5 841.8,225.6 844.4,223.3 847.3,221.7 850.1,221.0 852.7,221.3 854.7,222.5 865.1,231.1 866.4,233.2 866.8,235.9 866.3,239.0 865.0,242.1 863.0,245.0 860.4,247.3 857.5,248.9 854.6,249.7 852.1,249.4 850.0,248.1 839.7,239.5 838.4,237.4" fill="#1f4fc0" stroke="#0c2460" stroke-width="0.70" stroke-linejoin="round"/>
<polygon points="849.2,241.8 849.6,239.3 850.7,236.8 852.3,234.6 854.4,232.7 856.6,231.4 858.9,230.8 861.0,231.1 862.6,232.1 872.9,240.7 874.0,242.3 874.3,244.5 873.9,246.9 872.9,249.4 871.2,251.7 869.2,253.6 866.9,254.9 864.6,255.4 862.6,255.2 861.0,254.2 850.6,245.6 849.6,243.9" fill="#2456c4" stroke="#0c2460" stroke-width="0.70" stroke-linejoin="round"/>
<circle r="1" transform="matrix(7.37 -2.96 0.03 -7.43 867.0 247.4)" fill="#2f63cf" stroke="#0c2460" stroke-width="0.7" vector-effect="non-scaling-stroke"/>
<circle r="1" transform="matrix(7.36 -2.96 0.03 -7.43 862.6 243.8)" fill="none" stroke="#143a8e" stroke-width="0.9" vector-effect="non-scaling-stroke"/>
<circle r="1" transform="matrix(3.27 -1.32 0.01 -3.30 867.0 247.4)" fill="#1a45a6" stroke="#0c2460" stroke-width="0.5" vector-effect="non-scaling-stroke"/>
<polygon points="848.1,311.6 848.6,308.5 849.9,305.3 852.0,302.4 854.6,300.0 857.5,298.3 860.4,297.6 863.0,297.9 865.1,299.1 875.6,307.9 876.9,310.0 877.4,312.8 876.9,315.9 875.5,319.0 873.5,321.9 870.8,324.4 867.9,326.0 865.0,326.7 862.4,326.5 860.4,325.2 849.9,316.4 848.6,314.3" fill="#1f4fc0" stroke="#0c2460" stroke-width="0.70" stroke-linejoin="round"/>
<polygon points="840.5,302.8 840.9,300.3 842.0,297.8 843.6,295.5 845.7,293.6 848.0,292.3 850.3,291.7 852.4,291.9 854.0,292.9 864.5,301.7 865.5,303.4 865.9,305.5 865.5,308.0 864.5,310.5 862.8,312.8 860.7,314.7 858.4,316.0 856.1,316.6 854.0,316.4 852.4,315.4 842.0,306.6 840.9,304.9" fill="#2456c4" stroke="#0c2460" stroke-width="0.70" stroke-linejoin="round"/>
<circle r="1" transform="matrix(7.45 -3.03 0.03 -7.48 852.4 303.4)" fill="none" stroke="#143a8e" stroke-width="0.9" vector-effect="non-scaling-stroke"/>
<circle r="1" transform="matrix(3.31 -1.35 0.01 -3.32 848.0 299.7)" fill="#1a45a6" stroke="#0c2460" stroke-width="0.5" vector-effect="non-scaling-stroke"/>
<polygon points="903.1,289.1 903.6,286.1 905.0,282.9 907.0,280.0 909.6,277.6 912.5,276.0 915.4,275.3 918.0,275.5 920.0,276.8 930.5,285.5 931.8,287.6 932.3,290.3 931.8,293.4 930.4,296.6 928.4,299.5 925.8,301.9 922.9,303.5 920.0,304.2 917.4,304.0 915.4,302.7 904.9,293.9 903.6,291.9" fill="#1f4fc0" stroke="#0c2460" stroke-width="0.70" stroke-linejoin="round"/>
<polygon points="895.5,280.4 895.9,278.0 897.0,275.5 898.6,273.2 900.7,271.3 903.0,270.0 905.3,269.4 907.3,269.6 908.9,270.6 919.4,279.3 920.5,281.0 920.8,283.1 920.4,285.6 919.4,288.1 917.7,290.4 915.6,292.3 913.4,293.6 911.1,294.2 909.0,294.0 907.4,293.0 896.9,284.2 895.9,282.6" fill="#2456c4" stroke="#0c2460" stroke-width="0.70" stroke-linejoin="round"/>
<circle r="1" transform="matrix(7.38 -3.00 0.05 -7.46 907.3 281.1)" fill="none" stroke="#143a8e" stroke-width="0.9" vector-effect="non-scaling-stroke"/>
<circle r="1" transform="matrix(3.28 -1.33 0.02 -3.31 902.9 277.4)" fill="#1a45a6" stroke="#0c2460" stroke-width="0.5" vector-effect="non-scaling-stroke"/>
<path d="M803.5,353.1 L1023.9,262.8 L909.7,169.5 L690.6,256.4Z M812.5,325.3 L977.6,258.1 L901.6,195.6 L737.1,261.2Z" fill="#bcbcbc" fill-rule="evenodd" stroke="#222222" stroke-width="0.8"/>
<polygon points="803.5,386.6 1023.4,295.9 1023.9,262.8 803.5,353.1" fill="#bfbfbf" stroke="#222222" stroke-width="0.80" stroke-linejoin="round"/>
<polygon points="803.5,386.6 690.9,289.6 690.6,256.4 803.5,353.1" fill="#aeaeae" stroke="#222222" stroke-width="0.80" stroke-linejoin="round"/>
<circle r="1" transform="matrix(10.28 -4.22 0.04 -11.12 859.4 344.1)" fill="#696969"/>
<circle r="1" transform="matrix(9.05 -3.71 0.04 -9.75 857.3 342.3)" fill="#bfbfbf" stroke="#3a3a3a" stroke-width="0.9" vector-effect="non-scaling-stroke"/>
<circle r="1" transform="matrix(10.28 -4.22 0.04 -11.12 859.4 344.1)" fill="none" stroke="#262626" stroke-width="1.6" vector-effect="non-scaling-stroke"/>
<circle r="1" transform="matrix(10.18 -4.18 0.09 -11.09 914.7 321.4)" fill="#696969"/>
<circle r="1" transform="matrix(8.96 -3.68 0.07 -9.72 912.6 319.6)" fill="#bfbfbf" stroke="#3a3a3a" stroke-width="0.9" vector-effect="non-scaling-stroke"/>
<circle r="1" transform="matrix(10.18 -4.18 0.09 -11.09 914.7 321.4)" fill="none" stroke="#262626" stroke-width="1.6" vector-effect="non-scaling-stroke"/>
<circle r="1" transform="matrix(10.08 -4.14 0.12 -11.05 969.5 298.9)" fill="#696969"/>
<circle r="1" transform="matrix(8.87 -3.64 0.11 -9.68 967.3 297.1)" fill="#bfbfbf" stroke="#3a3a3a" stroke-width="0.9" vector-effect="non-scaling-stroke"/>
<circle r="1" transform="matrix(10.08 -4.14 0.12 -11.05 969.5 298.9)" fill="none" stroke="#262626" stroke-width="1.6" vector-effect="non-scaling-stroke"/>
<circle r="1" transform="matrix(-6.92 -5.93 -0.05 -11.09 727.9 302.2)" fill="#5f5f5f"/>
<circle r="1" transform="matrix(-6.09 -5.22 -0.04 -9.72 731.0 301.0)" fill="#aeaeae" stroke="#3a3a3a" stroke-width="0.9" vector-effect="non-scaling-stroke"/>
<circle r="1" transform="matrix(-6.92 -5.93 -0.05 -11.09 727.9 302.2)" fill="none" stroke="#262626" stroke-width="1.6" vector-effect="non-scaling-stroke"/>
<circle r="1" transform="matrix(-6.96 -5.97 -0.04 -11.11 746.7 318.3)" fill="#5f5f5f"/>
<circle r="1" transform="matrix(-6.12 -5.25 -0.03 -9.74 749.8 317.0)" fill="#aeaeae" stroke="#3a3a3a" stroke-width="0.9" vector-effect="non-scaling-stroke"/>
<circle r="1" transform="matrix(-6.96 -5.97 -0.04 -11.11 746.7 318.3)" fill="none" stroke="#262626" stroke-width="1.6" vector-effect="non-scaling-stroke"/>
<circle r="1" transform="matrix(-6.99 -6.00 -0.03 -11.13 765.5 334.4)" fill="#5f5f5f"/>
<circle r="1" transform="matrix(-6.15 -5.27 -0.02 -9.75 768.6 333.2)" fill="#aeaeae" stroke="#3a3a3a" stroke-width="0.9" vector-effect="non-scaling-stroke"/>
<circle r="1" transform="matrix(-6.99 -6.00 -0.03 -11.13 765.5 334.4)" fill="none" stroke="#262626" stroke-width="1.6" vector-effect="non-scaling-stroke"/>
<polygon points="895.8,182.4 895.8,176.9 896.4,175.2 897.8,173.7 900.1,172.4 902.8,171.7 905.9,171.4 908.9,171.8 911.6,172.6 913.8,173.8 915.1,175.4 915.5,177.2 915.5,182.6 915.0,184.4 913.5,185.9 911.3,187.2 908.5,187.9 905.5,188.2 902.4,187.8 899.7,187.0 897.6,185.7 896.2,184.2" fill="#141414" stroke="#111" stroke-width="0.60" stroke-linejoin="round"/>
<circle r="1" transform="matrix(8.08 -3.21 -5.63 -4.61 905.7 177.0)" fill="#262626" stroke="#5a5a5a" stroke-width="0.9" vector-effect="non-scaling-stroke"/>
<circle r="1" transform="matrix(4.85 -1.93 -3.38 -2.77 905.7 177.0)" fill="#0c0c0c" stroke="#333" stroke-width="0.5" vector-effect="non-scaling-stroke"/>
<polygon points="868.8,193.2 868.8,187.7 869.4,185.9 870.8,184.4 873.1,183.2 875.8,182.4 878.9,182.1 881.9,182.4 884.7,183.3 886.8,184.6 888.1,186.1 888.6,187.9 888.5,193.4 888.0,195.1 886.5,196.7 884.3,197.9 881.5,198.7 878.4,198.9 875.4,198.6 872.7,197.8 870.5,196.5 869.2,194.9" fill="#141414" stroke="#111" stroke-width="0.60" stroke-linejoin="round"/>
<circle r="1" transform="matrix(8.12 -3.23 -5.62 -4.63 878.7 187.8)" fill="#262626" stroke="#5a5a5a" stroke-width="0.9" vector-effect="non-scaling-stroke"/>
<circle r="1" transform="matrix(4.87 -1.94 -3.37 -2.78 878.7 187.8)" fill="#0c0c0c" stroke="#333" stroke-width="0.5" vector-effect="non-scaling-stroke"/>
<polygon points="914.6,197.8 914.6,192.3 915.2,190.6 916.6,189.1 918.9,187.8 921.6,187.1 924.7,186.8 927.7,187.1 930.5,188.0 932.6,189.2 934.0,190.8 934.4,192.6 934.3,198.1 933.8,199.8 932.4,201.4 930.1,202.6 927.4,203.4 924.3,203.6 921.2,203.3 918.5,202.5 916.4,201.2 915.0,199.6" fill="#141414" stroke="#111" stroke-width="0.60" stroke-linejoin="round"/>
<circle r="1" transform="matrix(8.09 -3.23 -5.66 -4.64 924.5 192.5)" fill="#262626" stroke="#5a5a5a" stroke-width="0.9" vector-effect="non-scaling-stroke"/>
<circle r="1" transform="matrix(4.85 -1.94 -3.40 -2.78 924.5 192.5)" fill="#0c0c0c" stroke="#333" stroke-width="0.5" vector-effect="non-scaling-stroke"/>
<polygon points="841.6,203.9 841.6,198.4 842.2,196.7 843.7,195.1 845.9,193.9 848.7,193.1 851.8,192.9 854.8,193.2 857.6,194.1 859.7,195.3 861.0,196.9 861.4,198.7 861.4,204.2 860.9,205.9 859.4,207.5 857.1,208.7 854.3,209.5 851.3,209.7 848.2,209.4 845.5,208.6 843.4,207.3 842.0,205.7" fill="#141414" stroke="#111" stroke-width="0.60" stroke-linejoin="round"/>
<circle r="1" transform="matrix(8.16 -3.24 -5.62 -4.65 851.5 198.6)" fill="#262626" stroke="#5a5a5a" stroke-width="0.9" vector-effect="non-scaling-stroke"/>
<circle r="1" transform="matrix(4.90 -1.95 -3.37 -2.79 851.5 198.6)" fill="#0c0c0c" stroke="#333" stroke-width="0.5" vector-effect="non-scaling-stroke"/>
<polygon points="933.5,213.3 933.5,207.8 934.1,206.1 935.5,204.5 937.8,203.3 940.5,202.5 943.6,202.3 946.6,202.6 949.4,203.4 951.5,204.7 952.9,206.3 953.3,208.1 953.3,213.6 952.8,215.3 951.3,216.9 949.1,218.1 946.3,218.9 943.2,219.2 940.2,218.8 937.4,218.0 935.3,216.7 933.9,215.1" fill="#141414" stroke="#111" stroke-width="0.60" stroke-linejoin="round"/>
<circle r="1" transform="matrix(8.10 -3.25 -5.69 -4.66 943.4 208.0)" fill="#262626" stroke="#5a5a5a" stroke-width="0.9" vector-effect="non-scaling-stroke"/>
<circle r="1" transform="matrix(4.86 -1.95 -3.41 -2.80 943.4 208.0)" fill="#0c0c0c" stroke="#333" stroke-width="0.5" vector-effect="non-scaling-stroke"/>
<polygon points="814.3,209.3 814.9,207.5 816.4,206.0 818.7,204.7 821.5,203.9 824.5,203.7 827.6,204.0 830.3,204.9 832.5,206.1 833.8,207.7 834.2,209.5 834.2,215.0 833.6,216.8 832.1,218.3 829.9,219.6 827.1,220.4 824.0,220.6 820.9,220.3 818.2,219.5 816.0,218.2 814.7,216.6 814.3,214.8" fill="#141414" stroke="#111" stroke-width="0.60" stroke-linejoin="round"/>
<circle r="1" transform="matrix(8.20 -3.26 -5.61 -4.67 824.3 209.4)" fill="#262626" stroke="#5a5a5a" stroke-width="0.9" vector-effect="non-scaling-stroke"/>
<circle r="1" transform="matrix(4.92 -1.96 -3.37 -2.80 824.3 209.4)" fill="#0c0c0c" stroke="#333" stroke-width="0.5" vector-effect="non-scaling-stroke"/>
<polygon points="786.9,220.2 787.5,218.4 789.0,216.8 791.3,215.6 794.1,214.8 797.2,214.6 800.2,214.9 803.0,215.7 805.1,217.0 806.4,218.6 806.8,220.4 806.8,225.9 806.2,227.7 804.7,229.3 802.5,230.5 799.6,231.3 796.5,231.5 793.5,231.2 790.8,230.4 788.6,229.1 787.3,227.5 786.9,225.7" fill="#141414" stroke="#111" stroke-width="0.60" stroke-linejoin="round"/>
<circle r="1" transform="matrix(8.24 -3.27 -5.60 -4.69 796.9 220.3)" fill="#262626" stroke="#5a5a5a" stroke-width="0.9" vector-effect="non-scaling-stroke"/>
<circle r="1" transform="matrix(4.95 -1.96 -3.36 -2.82 796.9 220.3)" fill="#0c0c0c" stroke="#333" stroke-width="0.5" vector-effect="non-scaling-stroke"/>
<polygon points="952.5,228.9 952.5,223.4 953.1,221.7 954.5,220.1 956.7,218.9 959.5,218.1 962.6,217.8 965.6,218.2 968.4,219.0 970.6,220.3 971.9,221.9 972.4,223.7 972.3,229.2 971.8,230.9 970.4,232.5 968.1,233.7 965.3,234.5 962.3,234.8 959.2,234.5 956.5,233.6 954.3,232.3 952.9,230.7" fill="#141414" stroke="#111" stroke-width="0.60" stroke-linejoin="round"/>
<circle r="1" transform="matrix(8.11 -3.27 -5.72 -4.69 962.5 223.5)" fill="#262626" stroke="#5a5a5a" stroke-width="0.9" vector-effect="non-scaling-stroke"/>
<circle r="1" transform="matrix(4.86 -1.96 -3.43 -2.81 962.5 223.5)" fill="#0c0c0c" stroke="#333" stroke-width="0.5" vector-effect="non-scaling-stroke"/>
<polygon points="759.3,231.1 759.9,229.3 761.4,227.8 763.7,226.5 766.6,225.7 769.7,225.5 772.7,225.8 775.5,226.7 777.6,227.9 778.9,229.6 779.3,231.3 779.3,236.9 778.7,238.6 777.2,240.2 774.9,241.5 772.1,242.3 769.0,242.5 765.9,242.2 763.2,241.3 761.0,240.1 759.7,238.4 759.3,236.7" fill="#141414" stroke="#111" stroke-width="0.60" stroke-linejoin="round"/>
<circle r="1" transform="matrix(8.28 -3.29 -5.59 -4.71 769.3 231.2)" fill="#262626" stroke="#5a5a5a" stroke-width="0.9" vector-effect="non-scaling-stroke"/>
<circle r="1" transform="matrix(4.97 -1.97 -3.36 -2.83 769.3 231.2)" fill="#0c0c0c" stroke="#333" stroke-width="0.5" vector-effect="non-scaling-stroke"/>
<polygon points="971.6,244.6 971.6,239.1 972.2,237.3 973.6,235.7 975.8,234.5 978.6,233.7 981.7,233.5 984.8,233.8 987.5,234.6 989.7,235.9 991.1,237.5 991.5,239.3 991.5,244.8 990.9,246.6 989.5,248.2 987.3,249.4 984.5,250.2 981.4,250.5 978.3,250.2 975.6,249.3 973.4,248.0 972.0,246.4" fill="#141414" stroke="#111" stroke-width="0.60" stroke-linejoin="round"/>
<circle r="1" transform="matrix(8.11 -3.29 -5.75 -4.71 981.6 239.2)" fill="#262626" stroke="#5a5a5a" stroke-width="0.9" vector-effect="non-scaling-stroke"/>
<circle r="1" transform="matrix(4.87 -1.97 -3.45 -2.83 981.6 239.2)" fill="#0c0c0c" stroke="#333" stroke-width="0.5" vector-effect="non-scaling-stroke"/>
<polygon points="731.6,242.1 732.2,240.3 733.8,238.8 736.0,237.5 738.9,236.7 742.0,236.5 745.1,236.8 747.8,237.6 750.0,238.9 751.3,240.6 751.6,242.3 751.7,247.9 751.1,249.7 749.5,251.2 747.2,252.5 744.4,253.3 741.3,253.6 738.2,253.2 735.5,252.4 733.3,251.1 732.0,249.4 731.6,247.7" fill="#141414" stroke="#111" stroke-width="0.60" stroke-linejoin="round"/>
<circle r="1" transform="matrix(8.32 -3.31 -5.59 -4.73 741.6 242.2)" fill="#262626" stroke="#5a5a5a" stroke-width="0.9" vector-effect="non-scaling-stroke"/>
<circle r="1" transform="matrix(4.99 -1.98 -3.35 -2.84 741.6 242.2)" fill="#0c0c0c" stroke="#333" stroke-width="0.5" vector-effect="non-scaling-stroke"/>
<polygon points="703.8,253.2 704.4,251.4 705.9,249.8 708.2,248.5 711.1,247.7 714.2,247.5 717.3,247.8 720.0,248.7 722.2,250.0 723.5,251.6 723.9,253.4 723.9,258.9 723.3,260.7 721.7,262.3 719.4,263.6 716.6,264.4 713.4,264.6 710.4,264.3 707.6,263.5 705.5,262.1 704.2,260.5 703.8,258.7" fill="#141414" stroke="#111" stroke-width="0.60" stroke-linejoin="round"/>
<circle r="1" transform="matrix(8.37 -3.32 -5.58 -4.75 713.8 253.3)" fill="#262626" stroke="#5a5a5a" stroke-width="0.9" vector-effect="non-scaling-stroke"/>
<circle r="1" transform="matrix(5.02 -1.99 -3.35 -2.85 713.8 253.3)" fill="#0c0c0c" stroke="#333" stroke-width="0.5" vector-effect="non-scaling-stroke"/>
<polygon points="990.8,260.4 990.8,254.8 991.4,253.1 992.8,251.5 995.0,250.2 997.8,249.4 1000.9,249.2 1004.0,249.5 1006.7,250.3 1008.9,251.6 1010.3,253.3 1010.8,255.1 1010.7,260.6 1010.2,262.4 1008.7,263.9 1006.5,265.2 1003.7,266.0 1000.6,266.2 997.6,265.9 994.8,265.1 992.6,263.8 991.2,262.2" fill="#141414" stroke="#111" stroke-width="0.60" stroke-linejoin="round"/>
<circle r="1" transform="matrix(8.12 -3.31 -5.78 -4.74 1000.8 254.9)" fill="#262626" stroke="#5a5a5a" stroke-width="0.9" vector-effect="non-scaling-stroke"/>
<circle r="1" transform="matrix(4.87 -1.99 -3.47 -2.84 1000.8 254.9)" fill="#0c0c0c" stroke="#333" stroke-width="0.5" vector-effect="non-scaling-stroke"/>
<polygon points="963.6,271.4 963.7,265.9 964.2,264.1 965.7,262.5 967.9,261.3 970.7,260.5 973.8,260.2 976.9,260.5 979.6,261.4 981.8,262.7 983.2,264.3 983.7,266.1 983.6,271.6 983.1,273.4 981.6,275.0 979.4,276.3 976.6,277.1 973.5,277.4 970.4,277.0 967.6,276.2 965.5,274.9 964.1,273.2" fill="#141414" stroke="#111" stroke-width="0.60" stroke-linejoin="round"/>
<circle r="1" transform="matrix(8.16 -3.33 -5.78 -4.76 973.7 266.0)" fill="#262626" stroke="#5a5a5a" stroke-width="0.9" vector-effect="non-scaling-stroke"/>
<circle r="1" transform="matrix(4.90 -2.00 -3.47 -2.85 973.7 266.0)" fill="#0c0c0c" stroke="#333" stroke-width="0.5" vector-effect="non-scaling-stroke"/>
<polygon points="722.4,269.1 723.0,267.3 724.5,265.7 726.9,264.4 729.7,263.6 732.8,263.3 735.9,263.7 738.7,264.5 740.8,265.8 742.1,267.5 742.5,269.3 742.5,274.8 741.9,276.6 740.4,278.2 738.1,279.5 735.2,280.3 732.1,280.6 729.0,280.2 726.2,279.4 724.1,278.1 722.8,276.4 722.4,274.6" fill="#141414" stroke="#111" stroke-width="0.60" stroke-linejoin="round"/>
<circle r="1" transform="matrix(8.37 -3.34 -5.61 -4.78 732.5 269.2)" fill="#262626" stroke="#5a5a5a" stroke-width="0.9" vector-effect="non-scaling-stroke"/>
<circle r="1" transform="matrix(5.02 -2.01 -3.36 -2.87 732.5 269.2)" fill="#0c0c0c" stroke="#333" stroke-width="0.5" vector-effect="non-scaling-stroke"/>
<polygon points="936.3,282.6 936.4,277.0 936.9,275.2 938.4,273.6 940.6,272.4 943.5,271.6 946.6,271.3 949.6,271.6 952.4,272.5 954.6,273.8 956.0,275.4 956.4,277.2 956.4,282.8 955.8,284.6 954.4,286.2 952.1,287.5 949.3,288.3 946.2,288.5 943.1,288.2 940.3,287.3 938.1,286.0 936.8,284.4" fill="#141414" stroke="#111" stroke-width="0.60" stroke-linejoin="round"/>
<circle r="1" transform="matrix(8.20 -3.34 -5.77 -4.78 946.4 277.1)" fill="#262626" stroke="#5a5a5a" stroke-width="0.9" vector-effect="non-scaling-stroke"/>
<circle r="1" transform="matrix(4.92 -2.01 -3.46 -2.87 946.4 277.1)" fill="#0c0c0c" stroke="#333" stroke-width="0.5" vector-effect="non-scaling-stroke"/>
<polygon points="741.1,285.0 741.7,283.2 743.2,281.6 745.6,280.3 748.4,279.5 751.6,279.3 754.7,279.6 757.4,280.5 759.6,281.8 760.9,283.4 761.3,285.2 761.3,290.8 760.7,292.6 759.2,294.2 756.9,295.5 754.0,296.3 750.8,296.6 747.7,296.3 745.0,295.4 742.8,294.1 741.5,292.4 741.1,290.6" fill="#141414" stroke="#111" stroke-width="0.60" stroke-linejoin="round"/>
<circle r="1" transform="matrix(8.38 -3.37 -5.64 -4.80 751.2 285.1)" fill="#262626" stroke="#5a5a5a" stroke-width="0.9" vector-effect="non-scaling-stroke"/>
<circle r="1" transform="matrix(5.03 -2.02 -3.38 -2.88 751.2 285.1)" fill="#0c0c0c" stroke="#333" stroke-width="0.5" vector-effect="non-scaling-stroke"/>
<polygon points="908.9,293.8 909.0,288.2 909.5,286.4 911.0,284.8 913.2,283.5 916.1,282.7 919.2,282.5 922.3,282.8 925.0,283.6 927.2,284.9 928.6,286.6 929.0,288.4 929.0,294.0 928.5,295.8 927.0,297.4 924.7,298.7 921.9,299.5 918.8,299.7 915.7,299.4 912.9,298.5 910.7,297.2 909.3,295.6" fill="#141414" stroke="#111" stroke-width="0.60" stroke-linejoin="round"/>
<circle r="1" transform="matrix(8.24 -3.36 -5.76 -4.80 919.0 288.3)" fill="#262626" stroke="#5a5a5a" stroke-width="0.9" vector-effect="non-scaling-stroke"/>
<circle r="1" transform="matrix(4.94 -2.02 -3.46 -2.88 919.0 288.3)" fill="#0c0c0c" stroke="#333" stroke-width="0.5" vector-effect="non-scaling-stroke"/>
<polygon points="881.4,305.0 881.4,299.4 881.9,297.6 883.4,296.0 885.7,294.7 888.5,293.9 891.7,293.7 894.8,294.0 897.6,294.8 899.7,296.2 901.1,297.8 901.5,299.6 901.5,305.2 901.0,307.0 899.5,308.6 897.2,309.9 894.3,310.7 891.2,311.0 888.1,310.7 885.3,309.8 883.1,308.5 881.8,306.8" fill="#141414" stroke="#111" stroke-width="0.60" stroke-linejoin="round"/>
<circle r="1" transform="matrix(8.28 -3.38 -5.75 -4.82 891.5 299.5)" fill="#262626" stroke="#5a5a5a" stroke-width="0.9" vector-effect="non-scaling-stroke"/>
<circle r="1" transform="matrix(4.97 -2.03 -3.45 -2.89 891.5 299.5)" fill="#0c0c0c" stroke="#333" stroke-width="0.5" vector-effect="non-scaling-stroke"/>
<polygon points="759.9,301.1 760.5,299.3 762.0,297.6 764.4,296.4 767.2,295.6 770.4,295.3 773.5,295.6 776.3,296.5 778.4,297.8 779.8,299.5 780.1,301.3 780.2,306.9 779.6,308.7 778.0,310.3 775.7,311.6 772.8,312.4 769.7,312.7 766.6,312.4 763.8,311.5 761.6,310.2 760.3,308.5 759.9,306.7" fill="#141414" stroke="#111" stroke-width="0.60" stroke-linejoin="round"/>
<circle r="1" transform="matrix(8.39 -3.39 -5.67 -4.83 770.0 301.2)" fill="#262626" stroke="#5a5a5a" stroke-width="0.9" vector-effect="non-scaling-stroke"/>
<circle r="1" transform="matrix(5.03 -2.03 -3.40 -2.90 770.0 301.2)" fill="#0c0c0c" stroke="#333" stroke-width="0.5" vector-effect="non-scaling-stroke"/>
<polygon points="853.6,316.3 853.7,310.7 854.2,308.9 855.8,307.3 858.0,306.0 860.9,305.2 864.0,304.9 867.1,305.2 869.9,306.1 872.1,307.4 873.5,309.1 873.9,310.9 873.9,316.5 873.3,318.3 871.8,319.9 869.5,321.2 866.7,322.1 863.5,322.3 860.4,322.0 857.6,321.1 855.4,319.8 854.1,318.1" fill="#141414" stroke="#111" stroke-width="0.60" stroke-linejoin="round"/>
<circle r="1" transform="matrix(8.32 -3.39 -5.74 -4.84 863.8 310.8)" fill="#262626" stroke="#5a5a5a" stroke-width="0.9" vector-effect="non-scaling-stroke"/>
<circle r="1" transform="matrix(4.99 -2.04 -3.45 -2.90 863.8 310.8)" fill="#0c0c0c" stroke="#333" stroke-width="0.5" vector-effect="non-scaling-stroke"/>
<polygon points="778.8,317.2 779.4,315.4 781.0,313.8 783.3,312.5 786.1,311.7 789.3,311.4 792.4,311.7 795.2,312.6 797.4,313.9 798.7,315.6 799.1,317.4 799.1,323.0 798.5,324.9 797.0,326.5 794.7,327.8 791.8,328.6 788.6,328.9 785.5,328.5 782.8,327.7 780.6,326.3 779.2,324.7 778.8,322.8" fill="#141414" stroke="#111" stroke-width="0.60" stroke-linejoin="round"/>
<circle r="1" transform="matrix(8.40 -3.41 -5.70 -4.86 789.0 317.3)" fill="#262626" stroke="#5a5a5a" stroke-width="0.9" vector-effect="non-scaling-stroke"/>
<circle r="1" transform="matrix(5.04 -2.04 -3.42 -2.91 789.0 317.3)" fill="#0c0c0c" stroke="#333" stroke-width="0.5" vector-effect="non-scaling-stroke"/>
<polygon points="825.8,327.6 825.8,322.1 826.4,320.2 827.9,318.6 830.2,317.3 833.1,316.5 836.2,316.2 839.4,316.6 842.1,317.4 844.3,318.8 845.7,320.4 846.1,322.3 846.1,327.8 845.5,329.7 844.0,331.3 841.7,332.6 838.8,333.4 835.7,333.7 832.6,333.4 829.8,332.5 827.6,331.2 826.2,329.5" fill="#141414" stroke="#111" stroke-width="0.60" stroke-linejoin="round"/>
<circle r="1" transform="matrix(8.37 -3.41 -5.74 -4.86 836.0 322.2)" fill="#262626" stroke="#5a5a5a" stroke-width="0.9" vector-effect="non-scaling-stroke"/>
<circle r="1" transform="matrix(5.02 -2.05 -3.44 -2.92 836.0 322.2)" fill="#0c0c0c" stroke="#333" stroke-width="0.5" vector-effect="non-scaling-stroke"/>
<polygon points="797.9,333.5 798.4,331.6 800.0,330.0 802.3,328.7 805.2,327.9 808.3,327.6 811.5,327.9 814.2,328.8 816.4,330.1 817.8,331.8 818.2,333.7 818.2,339.2 817.6,341.1 816.1,342.8 813.7,344.1 810.9,344.9 807.7,345.1 804.6,344.8 801.8,343.9 799.6,342.6 798.2,340.9 797.9,339.1" fill="#141414" stroke="#111" stroke-width="0.60" stroke-linejoin="round"/>
<circle r="1" transform="matrix(8.41 -3.43 -5.73 -4.88 808.0 333.6)" fill="#262626" stroke="#5a5a5a" stroke-width="0.9" vector-effect="non-scaling-stroke"/>
<circle r="1" transform="matrix(5.04 -2.06 -3.44 -2.93 808.0 333.6)" fill="#0c0c0c" stroke="#333" stroke-width="0.5" vector-effect="non-scaling-stroke"/>
<circle r="1" transform="matrix(10.33 -4.24 0.02 -11.14 831.5 355.5)" fill="#696969"/>
<circle r="1" transform="matrix(9.09 -3.73 0.02 -9.77 829.4 353.7)" fill="#bfbfbf" stroke="#3a3a3a" stroke-width="0.9" vector-effect="non-scaling-stroke"/>
<circle r="1" transform="matrix(10.33 -4.24 0.02 -11.14 831.5 355.5)" fill="none" stroke="#262626" stroke-width="1.6" vector-effect="non-scaling-stroke"/>
<circle r="1" transform="matrix(10.03 -4.12 0.14 -11.03 996.6 287.7)" fill="#696969"/>
<circle r="1" transform="matrix(8.82 -3.62 0.13 -9.67 994.5 286.0)" fill="#bfbfbf" stroke="#3a3a3a" stroke-width="0.9" vector-effect="non-scaling-stroke"/>
<circle r="1" transform="matrix(10.03 -4.12 0.14 -11.03 996.6 287.7)" fill="none" stroke="#262626" stroke-width="1.6" vector-effect="non-scaling-stroke"/>
<polygon points="823.7,358.8 824.1,356.2 825.2,353.5 827.0,351.1 829.1,349.1 831.5,347.7 834.0,347.1 836.1,347.3 837.9,348.4 850.3,358.9 851.4,360.6 851.8,362.9 851.4,365.5 850.3,368.1 848.5,370.6 846.4,372.6 843.9,373.9 841.5,374.6 839.3,374.4 837.6,373.3 825.2,362.7 824.1,361.0" fill="#333333" stroke="#c8c8c8" stroke-width="0.90" stroke-linejoin="round"/>
<polygon points="835.2,369.3 835.6,366.5 836.8,363.7 838.7,361.1 841.0,358.9 843.6,357.4 846.2,356.8 848.6,357.0 850.4,358.1 855.6,362.5 856.8,364.4 857.2,366.8 856.8,369.6 855.6,372.4 853.7,375.0 851.4,377.1 848.8,378.6 846.2,379.3 843.9,379.1 842.0,378.0 836.8,373.6 835.6,371.7" fill="#3a3a3a" stroke="#d4d4d4" stroke-width="1.00" stroke-linejoin="round"/>
<circle r="1" transform="matrix(8.39 -3.46 0.03 -8.38 848.8 370.3)" fill="#6a6a6a" stroke="#dcdcdc" stroke-width="1.0" vector-effect="non-scaling-stroke"/>
<circle r="1" transform="matrix(4.19 -1.73 0.01 -4.19 848.8 370.3)" fill="#262626" stroke="#999" stroke-width="0.6" vector-effect="non-scaling-stroke"/>
<polygon points="989.0,290.9 989.5,288.3 990.6,285.7 992.3,283.3 994.4,281.3 996.8,280.0 999.1,279.4 1001.2,279.6 1002.8,280.7 1015.4,291.0 1016.4,292.7 1016.8,294.9 1016.4,297.5 1015.2,300.1 1013.5,302.5 1011.4,304.4 1009.1,305.8 1006.7,306.4 1004.6,306.1 1003.0,305.1 990.4,294.8 989.4,293.1" fill="#333333" stroke="#c8c8c8" stroke-width="0.90" stroke-linejoin="round"/>
<polygon points="1000.7,301.1 1001.1,298.4 1002.3,295.6 1004.1,293.0 1006.4,290.9 1008.9,289.5 1011.4,288.8 1013.7,289.1 1015.5,290.2 1020.7,294.5 1021.8,296.3 1022.2,298.7 1021.7,301.4 1020.6,304.2 1018.7,306.8 1016.5,308.9 1013.9,310.4 1011.4,311.0 1009.2,310.8 1007.4,309.7 1002.2,305.4 1001.0,303.5" fill="#3a3a3a" stroke="#d4d4d4" stroke-width="1.00" stroke-linejoin="round"/>
<circle r="1" transform="matrix(8.14 -3.36 0.12 -8.29 1014.0 302.1)" fill="#6a6a6a" stroke="#dcdcdc" stroke-width="1.0" vector-effect="non-scaling-stroke"/>
<circle r="1" transform="matrix(4.07 -1.68 0.06 -4.15 1014.0 302.1)" fill="#262626" stroke="#999" stroke-width="0.6" vector-effect="non-scaling-stroke"/>
<polygon points="877.7,336.6 878.2,333.5 879.5,330.3 881.6,327.3 884.3,324.9 887.2,323.3 890.1,322.5 892.7,322.8 894.8,324.0 905.3,332.9 906.6,335.0 907.1,337.8 906.6,340.9 905.3,344.0 903.2,347.0 900.5,349.4 897.6,351.1 894.7,351.8 892.1,351.6 890.0,350.3 879.5,341.4 878.2,339.3" fill="#1f4fc0" stroke="#0c2460" stroke-width="0.70" stroke-linejoin="round"/>
<polygon points="889.2,343.9 889.6,341.4 890.7,338.9 892.4,336.5 894.5,334.6 896.8,333.3 899.1,332.7 901.2,332.9 902.8,333.9 913.4,342.8 914.5,344.5 914.8,346.6 914.4,349.1 913.3,351.7 911.7,354.0 909.6,355.9 907.3,357.2 905.0,357.8 902.9,357.6 901.2,356.6 890.6,347.7 889.6,346.1" fill="#2456c4" stroke="#0c2460" stroke-width="0.70" stroke-linejoin="round"/>
<circle r="1" transform="matrix(7.47 -3.09 0.05 -7.52 907.3 349.7)" fill="#2f63cf" stroke="#0c2460" stroke-width="0.7" vector-effect="non-scaling-stroke"/>
<circle r="1" transform="matrix(7.47 -3.08 0.05 -7.51 902.9 346.0)" fill="none" stroke="#143a8e" stroke-width="0.9" vector-effect="non-scaling-stroke"/>
<circle r="1" transform="matrix(3.32 -1.37 0.02 -3.34 907.3 349.7)" fill="#1a45a6" stroke="#0c2460" stroke-width="0.5" vector-effect="non-scaling-stroke"/>
<polygon points="932.8,313.9 933.3,310.8 934.7,307.7 936.8,304.7 939.4,302.3 942.2,300.7 945.1,300.0 947.7,300.2 949.7,301.5 960.3,310.3 961.6,312.4 962.1,315.1 961.6,318.2 960.2,321.4 958.1,324.3 955.5,326.7 952.7,328.4 949.8,329.1 947.2,328.8 945.2,327.6 934.6,318.7 933.3,316.7" fill="#1f4fc0" stroke="#0c2460" stroke-width="0.70" stroke-linejoin="round"/>
<polygon points="944.4,321.2 944.8,318.7 945.8,316.2 947.5,313.9 949.6,312.0 951.9,310.6 954.1,310.1 956.2,310.3 957.8,311.3 968.5,320.1 969.5,321.8 969.8,323.9 969.4,326.4 968.4,328.9 966.7,331.2 964.6,333.2 962.3,334.5 960.0,335.1 958.0,334.8 956.4,333.9 945.8,325.0 944.7,323.4" fill="#2456c4" stroke="#0c2460" stroke-width="0.70" stroke-linejoin="round"/>
<circle r="1" transform="matrix(7.40 -3.06 0.08 -7.49 962.4 327.0)" fill="#2f63cf" stroke="#0c2460" stroke-width="0.7" vector-effect="non-scaling-stroke"/>
<circle r="1" transform="matrix(7.40 -3.05 0.08 -7.49 958.0 323.3)" fill="none" stroke="#143a8e" stroke-width="0.9" vector-effect="non-scaling-stroke"/>
<circle r="1" transform="matrix(3.29 -1.36 0.04 -3.33 962.4 327.0)" fill="#1a45a6" stroke="#0c2460" stroke-width="0.5" vector-effect="non-scaling-stroke"/>
<polygon points="345.1,1160.3 1224.6,814.9 1205.9,800.5 327.3,1143.8" fill="#7a7a7a" stroke="#222222" stroke-width="1.00" stroke-linejoin="round"/>
<polygon points="346.3,1194.1 1223.9,846.9 1224.6,814.9 345.1,1160.3" fill="#7c7c7c" stroke="#222222" stroke-width="1.00" stroke-linejoin="round"/>
<polygon points="346.3,1194.1 328.5,1177.5 327.3,1143.8 345.1,1160.3" fill="#6d6d6d" stroke="#222222" stroke-width="1.00" stroke-linejoin="round"/>
<polyline points="783.7,965.4 802.0,980.9 802.2,1013.7" fill="none" stroke="#222222" stroke-width="0.80" stroke-linejoin="round" stroke-linecap="round"/>
<circle r="1" transform="matrix(10.93 -4.31 -0.37 -11.24 375.2 1162.7)" fill="#444444"/>
<circle r="1" transform="matrix(9.61 -3.78 -0.32 -9.85 373.3 1160.9)" fill="#7c7c7c" stroke="#3a3a3a" stroke-width="0.9" vector-effect="non-scaling-stroke"/>
<circle r="1" transform="matrix(10.93 -4.31 -0.37 -11.24 375.2 1162.7)" fill="none" stroke="#262626" stroke-width="1.6" vector-effect="non-scaling-stroke"/>
<circle r="1" transform="matrix(10.87 -4.28 -0.35 -11.22 404.7 1151.1)" fill="#444444"/>
<circle r="1" transform="matrix(9.57 -3.77 -0.30 -9.84 402.7 1149.3)" fill="#7c7c7c" stroke="#3a3a3a" stroke-width="0.9" vector-effect="non-scaling-stroke"/>
<circle r="1" transform="matrix(10.87 -4.28 -0.35 -11.22 404.7 1151.1)" fill="none" stroke="#262626" stroke-width="1.6" vector-effect="non-scaling-stroke"/>
<circle r="1" transform="matrix(10.82 -4.26 -0.32 -11.20 434.0 1139.6)" fill="#444444"/>
<circle r="1" transform="matrix(9.52 -3.75 -0.28 -9.82 432.0 1137.8)" fill="#7c7c7c" stroke="#3a3a3a" stroke-width="0.9" vector-effect="non-scaling-stroke"/>
<circle r="1" transform="matrix(10.82 -4.26 -0.32 -11.20 434.0 1139.6)" fill="none" stroke="#262626" stroke-width="1.6" vector-effect="non-scaling-stroke"/>
<circle r="1" transform="matrix(10.77 -4.24 -0.30 -11.18 463.2 1128.1)" fill="#444444"/>
<circle r="1" transform="matrix(9.47 -3.73 -0.26 -9.80 461.2 1126.3)" fill="#7c7c7c" stroke="#3a3a3a" stroke-width="0.9" vector-effect="non-scaling-stroke"/>
<circle r="1" transform="matrix(10.77 -4.24 -0.30 -11.18 463.2 1128.1)" fill="none" stroke="#262626" stroke-width="1.6" vector-effect="non-scaling-stroke"/>
<circle r="1" transform="matrix(10.71 -4.22 -0.28 -11.16 492.2 1116.7)" fill="#444444"/>
<circle r="1" transform="matrix(9.42 -3.71 -0.24 -9.78 490.2 1114.9)" fill="#7c7c7c" stroke="#3a3a3a" stroke-width="0.9" vector-effect="non-scaling-stroke"/>
<circle r="1" transform="matrix(10.71 -4.22 -0.28 -11.16 492.2 1116.7)" fill="none" stroke="#262626" stroke-width="1.6" vector-effect="non-scaling-stroke"/>
<circle r="1" transform="matrix(10.66 -4.20 -0.26 -11.14 521.1 1105.3)" fill="#444444"/>
<circle r="1" transform="matrix(9.38 -3.69 -0.23 -9.77 519.1 1103.5)" fill="#7c7c7c" stroke="#3a3a3a" stroke-width="0.9" vector-effect="non-scaling-stroke"/>
<circle r="1" transform="matrix(10.66 -4.20 -0.26 -11.14 521.1 1105.3)" fill="none" stroke="#262626" stroke-width="1.6" vector-effect="non-scaling-stroke"/>
<circle r="1" transform="matrix(10.61 -4.18 -0.23 -11.12 549.8 1094.0)" fill="#444444"/>
<circle r="1" transform="matrix(9.33 -3.67 -0.21 -9.75 547.8 1092.2)" fill="#7c7c7c" stroke="#3a3a3a" stroke-width="0.9" vector-effect="non-scaling-stroke"/>
<circle r="1" transform="matrix(10.61 -4.18 -0.23 -11.12 549.8 1094.0)" fill="none" stroke="#262626" stroke-width="1.6" vector-effect="non-scaling-stroke"/>
<circle r="1" transform="matrix(10.55 -4.16 -0.21 -11.11 578.4 1082.7)" fill="#444444"/>
<circle r="1" transform="matrix(9.28 -3.65 -0.19 -9.73 576.4 1080.9)" fill="#7c7c7c" stroke="#3a3a3a" stroke-width="0.9" vector-effect="non-scaling-stroke"/>
<circle r="1" transform="matrix(10.55 -4.16 -0.21 -11.11 578.4 1082.7)" fill="none" stroke="#262626" stroke-width="1.6" vector-effect="non-scaling-stroke"/>
<circle r="1" transform="matrix(10.50 -4.14 -0.19 -11.09 606.8 1071.5)" fill="#444444"/>
<circle r="1" transform="matrix(9.24 -3.64 -0.17 -9.72 604.9 1069.7)" fill="#7c7c7c" stroke="#3a3a3a" stroke-width="0.9" vector-effect="non-scaling-stroke"/>
<circle r="1" transform="matrix(10.50 -4.14 -0.19 -11.09 606.8 1071.5)" fill="none" stroke="#262626" stroke-width="1.6" vector-effect="non-scaling-stroke"/>
<circle r="1" transform="matrix(10.45 -4.12 -0.17 -11.07 635.2 1060.3)" fill="#444444"/>
<circle r="1" transform="matrix(9.19 -3.62 -0.15 -9.70 633.2 1058.6)" fill="#7c7c7c" stroke="#3a3a3a" stroke-width="0.9" vector-effect="non-scaling-stroke"/>
<circle r="1" transform="matrix(10.45 -4.12 -0.17 -11.07 635.2 1060.3)" fill="none" stroke="#262626" stroke-width="1.6" vector-effect="non-scaling-stroke"/>
<circle r="1" transform="matrix(10.40 -4.10 -0.15 -11.05 663.3 1049.2)" fill="#444444"/>
<circle r="1" transform="matrix(9.15 -3.60 -0.13 -9.68 661.3 1047.5)" fill="#7c7c7c" stroke="#3a3a3a" stroke-width="0.9" vector-effect="non-scaling-stroke"/>
<circle r="1" transform="matrix(10.40 -4.10 -0.15 -11.05 663.3 1049.2)" fill="none" stroke="#262626" stroke-width="1.6" vector-effect="non-scaling-stroke"/>
<circle r="1" transform="matrix(10.35 -4.08 -0.13 -11.03 691.4 1038.2)" fill="#444444"/>
<circle r="1" transform="matrix(9.10 -3.58 -0.11 -9.67 689.3 1036.5)" fill="#7c7c7c" stroke="#3a3a3a" stroke-width="0.9" vector-effect="non-scaling-stroke"/>
<circle r="1" transform="matrix(10.35 -4.08 -0.13 -11.03 691.4 1038.2)" fill="none" stroke="#262626" stroke-width="1.6" vector-effect="non-scaling-stroke"/>
<circle r="1" transform="matrix(10.29 -4.06 -0.11 -11.01 719.2 1027.2)" fill="#444444"/>
<circle r="1" transform="matrix(9.06 -3.57 -0.09 -9.65 717.2 1025.5)" fill="#7c7c7c" stroke="#3a3a3a" stroke-width="0.9" vector-effect="non-scaling-stroke"/>
<circle r="1" transform="matrix(10.29 -4.06 -0.11 -11.01 719.2 1027.2)" fill="none" stroke="#262626" stroke-width="1.6" vector-effect="non-scaling-stroke"/>
<circle r="1" transform="matrix(10.24 -4.04 -0.09 -10.99 747.0 1016.3)" fill="#444444"/>
<circle r="1" transform="matrix(9.01 -3.55 -0.08 -9.63 745.0 1014.6)" fill="#7c7c7c" stroke="#3a3a3a" stroke-width="0.9" vector-effect="non-scaling-stroke"/>
<circle r="1" transform="matrix(10.24 -4.04 -0.09 -10.99 747.0 1016.3)" fill="none" stroke="#262626" stroke-width="1.6" vector-effect="non-scaling-stroke"/>
<circle r="1" transform="matrix(10.19 -4.02 -0.07 -10.97 774.6 1005.4)" fill="#444444"/>
<circle r="1" transform="matrix(8.97 -3.53 -0.06 -9.62 772.6 1003.7)" fill="#7c7c7c" stroke="#3a3a3a" stroke-width="0.9" vector-effect="non-scaling-stroke"/>
<circle r="1" transform="matrix(10.19 -4.02 -0.07 -10.97 774.6 1005.4)" fill="none" stroke="#262626" stroke-width="1.6" vector-effect="non-scaling-stroke"/>
<circle r="1" transform="matrix(10.10 -3.98 -0.03 -10.93 829.5 983.8)" fill="#444444"/>
<circle r="1" transform="matrix(8.88 -3.50 -0.02 -9.58 827.4 982.1)" fill="#7c7c7c" stroke="#3a3a3a" stroke-width="0.9" vector-effect="non-scaling-stroke"/>
<circle r="1" transform="matrix(10.10 -3.98 -0.03 -10.93 829.5 983.8)" fill="none" stroke="#262626" stroke-width="1.6" vector-effect="non-scaling-stroke"/>
<circle r="1" transform="matrix(10.05 -3.96 -0.01 -10.91 856.7 973.1)" fill="#444444"/>
<circle r="1" transform="matrix(8.84 -3.48 -0.01 -9.57 854.6 971.4)" fill="#7c7c7c" stroke="#3a3a3a" stroke-width="0.9" vector-effect="non-scaling-stroke"/>
<circle r="1" transform="matrix(10.05 -3.96 -0.01 -10.91 856.7 973.1)" fill="none" stroke="#262626" stroke-width="1.6" vector-effect="non-scaling-stroke"/>
<circle r="1" transform="matrix(10.00 -3.94 0.01 -10.90 883.8 962.4)" fill="#444444"/>
<circle r="1" transform="matrix(8.79 -3.46 0.01 -9.55 881.7 960.7)" fill="#7c7c7c" stroke="#3a3a3a" stroke-width="0.9" vector-effect="non-scaling-stroke"/>
<circle r="1" transform="matrix(10.00 -3.94 0.01 -10.90 883.8 962.4)" fill="none" stroke="#262626" stroke-width="1.6" vector-effect="non-scaling-stroke"/>
<circle r="1" transform="matrix(9.95 -3.92 0.03 -10.88 910.7 951.8)" fill="#444444"/>
<circle r="1" transform="matrix(8.75 -3.45 0.03 -9.53 908.7 950.1)" fill="#7c7c7c" stroke="#3a3a3a" stroke-width="0.9" vector-effect="non-scaling-stroke"/>
<circle r="1" transform="matrix(9.95 -3.92 0.03 -10.88 910.7 951.8)" fill="none" stroke="#262626" stroke-width="1.6" vector-effect="non-scaling-stroke"/>
<circle r="1" transform="matrix(9.90 -3.90 0.05 -10.86 937.5 941.2)" fill="#444444"/>
<circle r="1" transform="matrix(8.71 -3.43 0.04 -9.52 935.5 939.6)" fill="#7c7c7c" stroke="#3a3a3a" stroke-width="0.9" vector-effect="non-scaling-stroke"/>
<circle r="1" transform="matrix(9.90 -3.90 0.05 -10.86 937.5 941.2)" fill="none" stroke="#262626" stroke-width="1.6" vector-effect="non-scaling-stroke"/>
<circle r="1" transform="matrix(9.85 -3.88 0.07 -10.84 964.2 930.7)" fill="#444444"/>
<circle r="1" transform="matrix(8.67 -3.41 0.06 -9.50 962.2 929.1)" fill="#7c7c7c" stroke="#3a3a3a" stroke-width="0.9" vector-effect="non-scaling-stroke"/>
<circle r="1" transform="matrix(9.85 -3.88 0.07 -10.84 964.2 930.7)" fill="none" stroke="#262626" stroke-width="1.6" vector-effect="non-scaling-stroke"/>
<circle r="1" transform="matrix(9.81 -3.86 0.09 -10.82 990.8 920.2)" fill="#444444"/>
<circle r="1" transform="matrix(8.63 -3.40 0.08 -9.48 988.8 918.6)" fill="#7c7c7c" stroke="#3a3a3a" stroke-width="0.9" vector-effect="non-scaling-stroke"/>
<circle r="1" transform="matrix(9.81 -3.86 0.09 -10.82 990.8 920.2)" fill="none" stroke="#262626" stroke-width="1.6" vector-effect="non-scaling-stroke"/>
<circle r="1" transform="matrix(9.76 -3.84 0.11 -10.80 1017.2 909.8)" fill="#444444"/>
<circle r="1" transform="matrix(8.59 -3.38 0.09 -9.47 1015.2 908.2)" fill="#7c7c7c" stroke="#3a3a3a" stroke-width="0.9" vector-effect="non-scaling-stroke"/>
<circle r="1" transform="matrix(9.76 -3.84 0.11 -10.80 1017.2 909.8)" fill="none" stroke="#262626" stroke-width="1.6" vector-effect="non-scaling-stroke"/>
<circle r="1" transform="matrix(9.71 -3.83 0.13 -10.78 1043.6 899.5)" fill="#444444"/>
<circle r="1" transform="matrix(8.54 -3.36 0.11 -9.45 1041.5 897.8)" fill="#7c7c7c" stroke="#3a3a3a" stroke-width="0.9" vector-effect="non-scaling-stroke"/>
<circle r="1" transform="matrix(9.71 -3.83 0.13 -10.78 1043.6 899.5)" fill="none" stroke="#262626" stroke-width="1.6" vector-effect="non-scaling-stroke"/>
<circle r="1" transform="matrix(9.67 -3.81 0.14 -10.77 1069.7 889.2)" fill="#444444"/>
<circle r="1" transform="matrix(8.50 -3.35 0.13 -9.44 1067.7 887.5)" fill="#7c7c7c" stroke="#3a3a3a" stroke-width="0.9" vector-effect="non-scaling-stroke"/>
<circle r="1" transform="matrix(9.67 -3.81 0.14 -10.77 1069.7 889.2)" fill="none" stroke="#262626" stroke-width="1.6" vector-effect="non-scaling-stroke"/>
<circle r="1" transform="matrix(9.62 -3.79 0.16 -10.75 1095.8 878.9)" fill="#444444"/>
<circle r="1" transform="matrix(8.46 -3.33 0.14 -9.42 1093.8 877.3)" fill="#7c7c7c" stroke="#3a3a3a" stroke-width="0.9" vector-effect="non-scaling-stroke"/>
<circle r="1" transform="matrix(9.62 -3.79 0.16 -10.75 1095.8 878.9)" fill="none" stroke="#262626" stroke-width="1.6" vector-effect="non-scaling-stroke"/>
<circle r="1" transform="matrix(9.58 -3.77 0.18 -10.73 1121.8 868.7)" fill="#444444"/>
<circle r="1" transform="matrix(8.42 -3.32 0.16 -9.40 1119.7 867.0)" fill="#7c7c7c" stroke="#3a3a3a" stroke-width="0.9" vector-effect="non-scaling-stroke"/>
<circle r="1" transform="matrix(9.58 -3.77 0.18 -10.73 1121.8 868.7)" fill="none" stroke="#262626" stroke-width="1.6" vector-effect="non-scaling-stroke"/>
<circle r="1" transform="matrix(9.53 -3.75 0.20 -10.71 1147.6 858.5)" fill="#444444"/>
<circle r="1" transform="matrix(8.38 -3.30 0.17 -9.39 1145.5 856.9)" fill="#7c7c7c" stroke="#3a3a3a" stroke-width="0.9" vector-effect="non-scaling-stroke"/>
<circle r="1" transform="matrix(9.53 -3.75 0.20 -10.71 1147.6 858.5)" fill="none" stroke="#262626" stroke-width="1.6" vector-effect="non-scaling-stroke"/>
<circle r="1" transform="matrix(9.49 -3.74 0.22 -10.69 1173.3 848.4)" fill="#444444"/>
<circle r="1" transform="matrix(8.34 -3.28 0.19 -9.37 1171.2 846.8)" fill="#7c7c7c" stroke="#3a3a3a" stroke-width="0.9" vector-effect="non-scaling-stroke"/>
<circle r="1" transform="matrix(9.49 -3.74 0.22 -10.69 1173.3 848.4)" fill="none" stroke="#262626" stroke-width="1.6" vector-effect="non-scaling-stroke"/>
<circle r="1" transform="matrix(9.44 -3.72 0.23 -10.67 1198.8 838.3)" fill="#444444"/>
<circle r="1" transform="matrix(8.30 -3.27 0.20 -9.36 1196.8 836.7)" fill="#7c7c7c" stroke="#3a3a3a" stroke-width="0.9" vector-effect="non-scaling-stroke"/>
<circle r="1" transform="matrix(9.44 -3.72 0.23 -10.67 1198.8 838.3)" fill="none" stroke="#262626" stroke-width="1.6" vector-effect="non-scaling-stroke"/>
<polygon points="1193.0,812.6 1193.2,807.2 1193.6,805.6 1195.0,804.1 1197.0,803.0 1199.7,802.3 1202.6,802.1 1205.5,802.4 1208.2,803.2 1210.3,804.4 1211.6,805.8 1212.1,807.5 1212.0,812.8 1211.6,814.4 1210.2,815.9 1208.1,817.0 1205.5,817.7 1202.6,818.0 1199.6,817.7 1197.0,816.9 1194.9,815.7 1193.5,814.2" fill="#141414" stroke="#111" stroke-width="0.60" stroke-linejoin="round"/>
<circle r="1" transform="matrix(7.64 -2.99 -5.61 -4.33 1202.6 807.3)" fill="#262626" stroke="#5a5a5a" stroke-width="0.9" vector-effect="non-scaling-stroke"/>
<circle r="1" transform="matrix(4.59 -1.79 -3.37 -2.60 1202.6 807.3)" fill="#0c0c0c" stroke="#333" stroke-width="0.5" vector-effect="non-scaling-stroke"/>
<polygon points="1167.5,822.5 1167.6,817.2 1168.1,815.6 1169.4,814.1 1171.5,813.0 1174.2,812.3 1177.1,812.0 1180.0,812.3 1182.7,813.1 1184.8,814.3 1186.1,815.8 1186.6,817.5 1186.5,822.8 1186.0,824.4 1184.7,825.9 1182.6,827.0 1180.0,827.8 1177.0,828.0 1174.1,827.7 1171.4,826.9 1169.3,825.7 1168.0,824.2" fill="#141414" stroke="#111" stroke-width="0.60" stroke-linejoin="round"/>
<circle r="1" transform="matrix(7.68 -3.00 -5.61 -4.35 1177.1 817.3)" fill="#262626" stroke="#5a5a5a" stroke-width="0.9" vector-effect="non-scaling-stroke"/>
<circle r="1" transform="matrix(4.61 -1.80 -3.36 -2.61 1177.1 817.3)" fill="#0c0c0c" stroke="#333" stroke-width="0.5" vector-effect="non-scaling-stroke"/>
<polygon points="1141.8,832.6 1141.9,827.2 1142.4,825.6 1143.7,824.1 1145.8,823.0 1148.5,822.3 1151.5,822.1 1154.4,822.4 1157.0,823.1 1159.2,824.4 1160.5,825.9 1161.0,827.5 1160.9,832.9 1160.4,834.5 1159.1,836.0 1157.0,837.1 1154.3,837.8 1151.3,838.0 1148.4,837.8 1145.7,837.0 1143.6,835.8 1142.3,834.2" fill="#141414" stroke="#111" stroke-width="0.60" stroke-linejoin="round"/>
<circle r="1" transform="matrix(7.72 -3.02 -5.60 -4.37 1151.5 827.4)" fill="#262626" stroke="#5a5a5a" stroke-width="0.9" vector-effect="non-scaling-stroke"/>
<circle r="1" transform="matrix(4.63 -1.81 -3.36 -2.62 1151.5 827.4)" fill="#0c0c0c" stroke="#333" stroke-width="0.5" vector-effect="non-scaling-stroke"/>
<polygon points="1116.0,842.7 1116.1,837.3 1116.6,835.7 1118.0,834.2 1120.1,833.1 1122.8,832.3 1125.7,832.1 1128.7,832.4 1131.3,833.2 1133.4,834.4 1134.8,835.9 1135.2,837.6 1135.1,843.0 1134.7,844.6 1133.3,846.1 1131.2,847.2 1128.5,847.9 1125.5,848.2 1122.6,847.9 1119.9,847.1 1117.8,845.9 1116.5,844.4" fill="#141414" stroke="#111" stroke-width="0.60" stroke-linejoin="round"/>
<circle r="1" transform="matrix(7.75 -3.03 -5.59 -4.39 1125.7 837.4)" fill="#262626" stroke="#5a5a5a" stroke-width="0.9" vector-effect="non-scaling-stroke"/>
<circle r="1" transform="matrix(4.65 -1.82 -3.36 -2.63 1125.7 837.4)" fill="#0c0c0c" stroke="#333" stroke-width="0.5" vector-effect="non-scaling-stroke"/>
<polygon points="1090.1,852.8 1090.2,847.5 1090.7,845.8 1092.1,844.3 1094.2,843.2 1096.9,842.5 1099.8,842.2 1102.8,842.5 1105.5,843.3 1107.6,844.5 1108.9,846.0 1109.4,847.7 1109.3,853.1 1108.8,854.7 1107.4,856.2 1105.3,857.4 1102.6,858.1 1099.6,858.3 1096.7,858.0 1094.0,857.2 1091.9,856.0 1090.6,854.5" fill="#141414" stroke="#111" stroke-width="0.60" stroke-linejoin="round"/>
<circle r="1" transform="matrix(7.79 -3.05 -5.59 -4.41 1099.8 847.6)" fill="#262626" stroke="#5a5a5a" stroke-width="0.9" vector-effect="non-scaling-stroke"/>
<circle r="1" transform="matrix(4.67 -1.83 -3.35 -2.64 1099.8 847.6)" fill="#0c0c0c" stroke="#333" stroke-width="0.5" vector-effect="non-scaling-stroke"/>
<polygon points="1064.1,863.0 1064.1,857.6 1064.6,856.0 1066.0,854.5 1068.2,853.3 1070.9,852.6 1073.8,852.4 1076.8,852.7 1079.5,853.5 1081.6,854.7 1082.9,856.2 1083.4,857.9 1083.3,863.3 1082.8,864.9 1081.4,866.4 1079.3,867.6 1076.6,868.3 1073.6,868.5 1070.6,868.2 1068.0,867.4 1065.8,866.2 1064.5,864.7" fill="#141414" stroke="#111" stroke-width="0.60" stroke-linejoin="round"/>
<circle r="1" transform="matrix(7.83 -3.06 -5.58 -4.43 1073.7 857.8)" fill="#262626" stroke="#5a5a5a" stroke-width="0.9" vector-effect="non-scaling-stroke"/>
<circle r="1" transform="matrix(4.70 -1.84 -3.35 -2.66 1073.7 857.8)" fill="#0c0c0c" stroke="#333" stroke-width="0.5" vector-effect="non-scaling-stroke"/>
<polygon points="1037.9,873.3 1038.0,867.9 1038.5,866.2 1039.9,864.7 1042.0,863.5 1044.7,862.8 1047.7,862.6 1050.7,862.9 1053.3,863.7 1055.5,864.9 1056.8,866.4 1057.2,868.1 1057.2,873.5 1056.7,875.2 1055.3,876.7 1053.1,877.8 1050.4,878.6 1047.4,878.8 1044.5,878.5 1041.8,877.7 1039.7,876.5 1038.3,874.9" fill="#141414" stroke="#111" stroke-width="0.60" stroke-linejoin="round"/>
<circle r="1" transform="matrix(7.86 -3.08 -5.57 -4.44 1047.6 868.0)" fill="#262626" stroke="#5a5a5a" stroke-width="0.9" vector-effect="non-scaling-stroke"/>
<circle r="1" transform="matrix(4.72 -1.85 -3.34 -2.67 1047.6 868.0)" fill="#0c0c0c" stroke="#333" stroke-width="0.5" vector-effect="non-scaling-stroke"/>
<polygon points="1011.6,883.5 1011.7,878.1 1012.2,876.5 1013.6,875.0 1015.8,873.8 1018.5,873.1 1021.5,872.9 1024.5,873.1 1027.1,874.0 1029.2,875.2 1030.6,876.7 1031.0,878.4 1030.9,883.8 1030.4,885.5 1029.0,887.0 1026.8,888.1 1024.1,888.9 1021.1,889.1 1018.1,888.8 1015.5,888.0 1013.4,886.8 1012.0,885.2" fill="#141414" stroke="#111" stroke-width="0.60" stroke-linejoin="round"/>
<circle r="1" transform="matrix(7.90 -3.09 -5.57 -4.46 1021.3 878.3)" fill="#262626" stroke="#5a5a5a" stroke-width="0.9" vector-effect="non-scaling-stroke"/>
<circle r="1" transform="matrix(4.74 -1.85 -3.34 -2.68 1021.3 878.3)" fill="#0c0c0c" stroke="#333" stroke-width="0.5" vector-effect="non-scaling-stroke"/>
<polygon points="985.2,893.9 985.2,888.5 985.8,886.8 987.2,885.3 989.4,884.1 992.1,883.4 995.1,883.1 998.1,883.5 1000.8,884.3 1002.9,885.5 1004.2,887.0 1004.6,888.7 1004.6,894.1 1004.0,895.8 1002.6,897.3 1000.5,898.5 997.7,899.2 994.7,899.5 991.7,899.2 989.0,898.4 986.9,897.1 985.6,895.6" fill="#141414" stroke="#111" stroke-width="0.60" stroke-linejoin="round"/>
<circle r="1" transform="matrix(7.94 -3.11 -5.56 -4.48 994.9 888.6)" fill="#262626" stroke="#5a5a5a" stroke-width="0.9" vector-effect="non-scaling-stroke"/>
<circle r="1" transform="matrix(4.76 -1.86 -3.34 -2.69 994.9 888.6)" fill="#0c0c0c" stroke="#333" stroke-width="0.5" vector-effect="non-scaling-stroke"/>
<polygon points="958.7,904.3 958.7,898.9 959.2,897.2 960.7,895.7 962.9,894.5 965.6,893.7 968.6,893.5 971.6,893.8 974.3,894.6 976.4,895.9 977.7,897.4 978.1,899.1 978.1,904.5 977.5,906.2 976.1,907.7 973.9,908.9 971.2,909.6 968.2,909.9 965.2,909.6 962.5,908.8 960.4,907.5 959.1,906.0" fill="#141414" stroke="#111" stroke-width="0.60" stroke-linejoin="round"/>
<circle r="1" transform="matrix(7.98 -3.12 -5.55 -4.50 968.4 899.0)" fill="#262626" stroke="#5a5a5a" stroke-width="0.9" vector-effect="non-scaling-stroke"/>
<circle r="1" transform="matrix(4.79 -1.87 -3.33 -2.70 968.4 899.0)" fill="#0c0c0c" stroke="#333" stroke-width="0.5" vector-effect="non-scaling-stroke"/>
<polygon points="932.0,914.7 932.0,909.3 932.6,907.6 934.0,906.1 936.2,904.9 939.0,904.1 942.0,903.9 945.0,904.2 947.7,905.0 949.8,906.3 951.1,907.8 951.5,909.5 951.5,915.0 950.9,916.6 949.5,918.2 947.3,919.4 944.5,920.1 941.5,920.3 938.5,920.0 935.8,919.2 933.7,918.0 932.4,916.4" fill="#141414" stroke="#111" stroke-width="0.60" stroke-linejoin="round"/>
<circle r="1" transform="matrix(8.02 -3.14 -5.55 -4.52 941.8 909.4)" fill="#262626" stroke="#5a5a5a" stroke-width="0.9" vector-effect="non-scaling-stroke"/>
<circle r="1" transform="matrix(4.81 -1.88 -3.33 -2.71 941.8 909.4)" fill="#0c0c0c" stroke="#333" stroke-width="0.5" vector-effect="non-scaling-stroke"/>
<polygon points="905.2,925.2 905.2,919.8 905.8,918.1 907.2,916.5 909.4,915.3 912.2,914.6 915.2,914.4 918.2,914.7 920.9,915.5 923.0,916.7 924.3,918.3 924.7,920.0 924.7,925.4 924.2,927.1 922.7,928.7 920.5,929.9 917.7,930.6 914.7,930.9 911.7,930.5 909.0,929.7 906.9,928.5 905.6,926.9" fill="#141414" stroke="#111" stroke-width="0.60" stroke-linejoin="round"/>
<circle r="1" transform="matrix(8.05 -3.15 -5.54 -4.54 915.0 919.9)" fill="#262626" stroke="#5a5a5a" stroke-width="0.9" vector-effect="non-scaling-stroke"/>
<circle r="1" transform="matrix(4.83 -1.89 -3.32 -2.72 915.0 919.9)" fill="#0c0c0c" stroke="#333" stroke-width="0.5" vector-effect="non-scaling-stroke"/>
<polygon points="878.3,930.3 878.8,928.6 880.3,927.0 882.5,925.9 885.3,925.1 888.3,924.9 891.4,925.2 894.0,926.0 896.1,927.2 897.5,928.8 897.9,930.5 897.9,936.0 897.3,937.7 895.8,939.2 893.6,940.4 890.8,941.2 887.8,941.4 884.8,941.1 882.1,940.3 880.0,939.0 878.6,937.5 878.3,935.7" fill="#141414" stroke="#111" stroke-width="0.60" stroke-linejoin="round"/>
<circle r="1" transform="matrix(8.09 -3.17 -5.53 -4.56 888.1 930.4)" fill="#262626" stroke="#5a5a5a" stroke-width="0.9" vector-effect="non-scaling-stroke"/>
<circle r="1" transform="matrix(4.86 -1.90 -3.32 -2.73 888.1 930.4)" fill="#0c0c0c" stroke="#333" stroke-width="0.5" vector-effect="non-scaling-stroke"/>
<polygon points="851.2,940.9 851.8,939.1 853.3,937.6 855.5,936.4 858.3,935.6 861.3,935.4 864.4,935.7 867.0,936.5 869.1,937.8 870.5,939.4 870.8,941.1 870.8,946.6 870.3,948.3 868.8,949.8 866.5,951.0 863.8,951.8 860.7,952.0 857.7,951.7 855.0,950.9 852.9,949.6 851.6,948.1 851.2,946.3" fill="#141414" stroke="#111" stroke-width="0.60" stroke-linejoin="round"/>
<circle r="1" transform="matrix(8.13 -3.18 -5.52 -4.58 861.0 941.0)" fill="#262626" stroke="#5a5a5a" stroke-width="0.9" vector-effect="non-scaling-stroke"/>
<circle r="1" transform="matrix(4.88 -1.91 -3.31 -2.75 861.0 941.0)" fill="#0c0c0c" stroke="#333" stroke-width="0.5" vector-effect="non-scaling-stroke"/>
<polygon points="824.0,951.5 824.6,949.8 826.1,948.2 828.3,947.0 831.1,946.3 834.2,946.0 837.2,946.3 839.9,947.1 842.0,948.4 843.3,950.0 843.7,951.7 843.7,957.2 843.1,958.9 841.6,960.5 839.4,961.7 836.6,962.5 833.5,962.7 830.5,962.4 827.8,961.5 825.7,960.3 824.4,958.7 824.0,957.0" fill="#141414" stroke="#111" stroke-width="0.60" stroke-linejoin="round"/>
<circle r="1" transform="matrix(8.17 -3.20 -5.52 -4.60 833.8 951.6)" fill="#262626" stroke="#5a5a5a" stroke-width="0.9" vector-effect="non-scaling-stroke"/>
<circle r="1" transform="matrix(4.90 -1.92 -3.31 -2.76 833.8 951.6)" fill="#0c0c0c" stroke="#333" stroke-width="0.5" vector-effect="non-scaling-stroke"/>
<polygon points="796.7,962.2 797.3,960.5 798.8,958.9 801.0,957.7 803.8,956.9 806.9,956.7 809.9,957.0 812.6,957.8 814.8,959.1 816.0,960.7 816.4,962.4 816.4,967.9 815.8,969.6 814.3,971.2 812.1,972.4 809.3,973.2 806.2,973.4 803.2,973.1 800.5,972.3 798.4,971.0 797.0,969.4 796.7,967.7" fill="#141414" stroke="#111" stroke-width="0.60" stroke-linejoin="round"/>
<circle r="1" transform="matrix(8.21 -3.21 -5.51 -4.61 806.5 962.3)" fill="#262626" stroke="#5a5a5a" stroke-width="0.9" vector-effect="non-scaling-stroke"/>
<circle r="1" transform="matrix(4.93 -1.93 -3.30 -2.77 806.5 962.3)" fill="#0c0c0c" stroke="#333" stroke-width="0.5" vector-effect="non-scaling-stroke"/>
<polygon points="769.2,972.9 769.8,971.2 771.3,969.6 773.6,968.4 776.4,967.6 779.5,967.4 782.5,967.7 785.2,968.5 787.4,969.8 788.6,971.4 789.0,973.1 789.0,978.6 788.4,980.4 786.9,981.9 784.6,983.2 781.8,983.9 778.7,984.2 775.7,983.9 773.0,983.0 770.9,981.8 769.6,980.2 769.2,978.4" fill="#141414" stroke="#111" stroke-width="0.60" stroke-linejoin="round"/>
<circle r="1" transform="matrix(8.25 -3.23 -5.50 -4.63 779.1 973.0)" fill="#262626" stroke="#5a5a5a" stroke-width="0.9" vector-effect="non-scaling-stroke"/>
<circle r="1" transform="matrix(4.95 -1.94 -3.30 -2.78 779.1 973.0)" fill="#0c0c0c" stroke="#333" stroke-width="0.5" vector-effect="non-scaling-stroke"/>
<polygon points="741.6,983.7 742.2,982.0 743.8,980.4 746.0,979.2 748.9,978.4 752.0,978.1 755.0,978.5 757.7,979.3 759.8,980.6 761.1,982.2 761.5,983.9 761.5,989.4 760.9,991.2 759.4,992.7 757.1,994.0 754.2,994.8 751.1,995.0 748.1,994.7 745.4,993.9 743.3,992.6 742.0,991.0 741.6,989.2" fill="#141414" stroke="#111" stroke-width="0.60" stroke-linejoin="round"/>
<circle r="1" transform="matrix(8.29 -3.24 -5.49 -4.65 751.5 983.8)" fill="#262626" stroke="#5a5a5a" stroke-width="0.9" vector-effect="non-scaling-stroke"/>
<circle r="1" transform="matrix(4.98 -1.95 -3.29 -2.79 751.5 983.8)" fill="#0c0c0c" stroke="#333" stroke-width="0.5" vector-effect="non-scaling-stroke"/>
<polygon points="713.9,994.5 714.5,992.8 716.0,991.2 718.3,990.0 721.2,989.2 724.3,989.0 727.3,989.3 730.0,990.1 732.1,991.4 733.4,993.0 733.8,994.8 733.8,1000.3 733.2,1002.0 731.7,1003.6 729.4,1004.8 726.5,1005.6 723.4,1005.9 720.4,1005.6 717.6,1004.7 715.5,1003.4 714.2,1001.8 713.9,1000.0" fill="#141414" stroke="#111" stroke-width="0.60" stroke-linejoin="round"/>
<circle r="1" transform="matrix(8.33 -3.26 -5.48 -4.67 723.8 994.7)" fill="#262626" stroke="#5a5a5a" stroke-width="0.9" vector-effect="non-scaling-stroke"/>
<circle r="1" transform="matrix(5.00 -1.96 -3.29 -2.80 723.8 994.7)" fill="#0c0c0c" stroke="#333" stroke-width="0.5" vector-effect="non-scaling-stroke"/>
<polygon points="686.0,1005.4 686.6,1003.7 688.2,1002.1 690.5,1000.9 693.4,1000.1 696.5,999.8 699.5,1000.1 702.2,1001.0 704.4,1002.3 705.6,1003.9 706.0,1005.6 706.0,1011.2 705.4,1012.9 703.8,1014.5 701.5,1015.8 698.7,1016.5 695.5,1016.8 692.5,1016.5 689.8,1015.6 687.7,1014.4 686.4,1012.7 686.0,1011.0" fill="#141414" stroke="#111" stroke-width="0.60" stroke-linejoin="round"/>
<circle r="1" transform="matrix(8.37 -3.28 -5.47 -4.69 696.0 1005.5)" fill="#262626" stroke="#5a5a5a" stroke-width="0.9" vector-effect="non-scaling-stroke"/>
<circle r="1" transform="matrix(5.02 -1.97 -3.28 -2.82 696.0 1005.5)" fill="#0c0c0c" stroke="#333" stroke-width="0.5" vector-effect="non-scaling-stroke"/>
<polygon points="658.0,1016.4 658.6,1014.6 660.2,1013.0 662.5,1011.8 665.4,1011.0 668.5,1010.8 671.6,1011.1 674.3,1011.9 676.4,1013.2 677.7,1014.8 678.0,1016.6 678.1,1022.1 677.4,1023.9 675.9,1025.5 673.5,1026.7 670.7,1027.5 667.5,1027.8 664.5,1027.5 661.8,1026.6 659.6,1025.3 658.4,1023.7 658.0,1021.9" fill="#141414" stroke="#111" stroke-width="0.60" stroke-linejoin="round"/>
<circle r="1" transform="matrix(8.42 -3.29 -5.47 -4.71 668.0 1016.5)" fill="#262626" stroke="#5a5a5a" stroke-width="0.9" vector-effect="non-scaling-stroke"/>
<circle r="1" transform="matrix(5.05 -1.98 -3.28 -2.83 668.0 1016.5)" fill="#0c0c0c" stroke="#333" stroke-width="0.5" vector-effect="non-scaling-stroke"/>
<polygon points="629.8,1027.4 630.5,1025.6 632.1,1024.0 634.4,1022.8 637.3,1022.0 640.4,1021.7 643.5,1022.0 646.2,1022.9 648.3,1024.2 649.6,1025.8 649.9,1027.6 650.0,1033.1 649.3,1034.9 647.8,1036.5 645.4,1037.8 642.5,1038.6 639.4,1038.8 636.3,1038.5 633.6,1037.7 631.5,1036.3 630.2,1034.7 629.9,1032.9" fill="#141414" stroke="#111" stroke-width="0.60" stroke-linejoin="round"/>
<circle r="1" transform="matrix(8.46 -3.31 -5.46 -4.74 639.9 1027.5)" fill="#262626" stroke="#5a5a5a" stroke-width="0.9" vector-effect="non-scaling-stroke"/>
<circle r="1" transform="matrix(5.07 -1.99 -3.27 -2.84 639.9 1027.5)" fill="#0c0c0c" stroke="#333" stroke-width="0.5" vector-effect="non-scaling-stroke"/>
<polygon points="601.5,1038.4 602.2,1036.7 603.8,1035.0 606.2,1033.8 609.1,1033.0 612.2,1032.8 615.3,1033.1 618.0,1033.9 620.1,1035.2 621.4,1036.8 621.7,1038.7 621.8,1044.2 621.1,1046.0 619.5,1047.6 617.2,1048.9 614.3,1049.7 611.1,1049.9 608.0,1049.6 605.3,1048.7 603.2,1047.4 601.9,1045.8 601.6,1044.0" fill="#141414" stroke="#111" stroke-width="0.60" stroke-linejoin="round"/>
<circle r="1" transform="matrix(8.50 -3.32 -5.45 -4.76 611.6 1038.5)" fill="#262626" stroke="#5a5a5a" stroke-width="0.9" vector-effect="non-scaling-stroke"/>
<circle r="1" transform="matrix(5.10 -1.99 -3.27 -2.85 611.6 1038.5)" fill="#0c0c0c" stroke="#333" stroke-width="0.5" vector-effect="non-scaling-stroke"/>
<polygon points="573.1,1049.5 573.8,1047.8 575.4,1046.2 577.8,1044.9 580.7,1044.1 583.8,1043.8 586.9,1044.2 589.6,1045.0 591.8,1046.3 593.0,1048.0 593.3,1049.8 593.4,1055.3 592.7,1057.1 591.1,1058.7 588.8,1060.0 585.9,1060.8 582.7,1061.1 579.6,1060.7 576.9,1059.9 574.8,1058.6 573.5,1056.9 573.2,1055.1" fill="#141414" stroke="#111" stroke-width="0.60" stroke-linejoin="round"/>
<circle r="1" transform="matrix(8.54 -3.34 -5.44 -4.78 583.2 1049.7)" fill="#262626" stroke="#5a5a5a" stroke-width="0.9" vector-effect="non-scaling-stroke"/>
<circle r="1" transform="matrix(5.12 -2.00 -3.26 -2.87 583.2 1049.7)" fill="#0c0c0c" stroke="#333" stroke-width="0.5" vector-effect="non-scaling-stroke"/>
<polygon points="544.5,1060.7 545.2,1058.9 546.9,1057.3 549.2,1056.0 552.2,1055.2 555.3,1055.0 558.4,1055.3 561.1,1056.2 563.2,1057.5 564.5,1059.1 564.8,1060.9 564.9,1066.5 564.2,1068.3 562.6,1069.9 560.2,1071.2 557.3,1072.0 554.1,1072.3 551.0,1071.9 548.3,1071.1 546.2,1069.8 544.9,1068.1 544.6,1066.3" fill="#141414" stroke="#111" stroke-width="0.60" stroke-linejoin="round"/>
<circle r="1" transform="matrix(8.58 -3.36 -5.43 -4.80 554.7 1060.8)" fill="#262626" stroke="#5a5a5a" stroke-width="0.9" vector-effect="non-scaling-stroke"/>
<circle r="1" transform="matrix(5.15 -2.01 -3.26 -2.88 554.7 1060.8)" fill="#0c0c0c" stroke="#333" stroke-width="0.5" vector-effect="non-scaling-stroke"/>
<polygon points="515.8,1071.9 516.5,1070.1 518.2,1068.5 520.6,1067.2 523.5,1066.4 526.7,1066.2 529.8,1066.5 532.5,1067.3 534.6,1068.7 535.9,1070.3 536.1,1072.2 536.3,1077.7 535.6,1079.5 533.9,1081.2 531.5,1082.5 528.6,1083.3 525.4,1083.5 522.3,1083.2 519.6,1082.3 517.5,1081.0 516.2,1079.3 516.0,1077.5" fill="#141414" stroke="#111" stroke-width="0.60" stroke-linejoin="round"/>
<circle r="1" transform="matrix(8.63 -3.37 -5.42 -4.82 526.0 1072.0)" fill="#262626" stroke="#5a5a5a" stroke-width="0.9" vector-effect="non-scaling-stroke"/>
<circle r="1" transform="matrix(5.18 -2.02 -3.25 -2.89 526.0 1072.0)" fill="#0c0c0c" stroke="#333" stroke-width="0.5" vector-effect="non-scaling-stroke"/>
<polygon points="487.0,1083.2 487.7,1081.4 489.3,1079.8 491.8,1078.5 494.7,1077.7 497.9,1077.4 501.0,1077.7 503.7,1078.6 505.8,1079.9 507.1,1081.6 507.4,1083.4 507.5,1089.0 506.8,1090.8 505.1,1092.5 502.7,1093.8 499.8,1094.6 496.6,1094.8 493.5,1094.5 490.7,1093.6 488.6,1092.3 487.4,1090.6 487.1,1088.8" fill="#141414" stroke="#111" stroke-width="0.60" stroke-linejoin="round"/>
<circle r="1" transform="matrix(8.67 -3.39 -5.41 -4.84 497.2 1083.3)" fill="#262626" stroke="#5a5a5a" stroke-width="0.9" vector-effect="non-scaling-stroke"/>
<circle r="1" transform="matrix(5.20 -2.04 -3.25 -2.90 497.2 1083.3)" fill="#0c0c0c" stroke="#333" stroke-width="0.5" vector-effect="non-scaling-stroke"/>
<polygon points="458.0,1094.6 458.7,1092.7 460.4,1091.1 462.8,1089.8 465.7,1089.0 468.9,1088.7 472.1,1089.0 474.8,1089.9 476.9,1091.2 478.1,1092.9 478.4,1094.8 478.6,1100.3 477.8,1102.2 476.2,1103.8 473.7,1105.1 470.8,1105.9 467.6,1106.2 464.5,1105.9 461.7,1105.0 459.6,1103.7 458.4,1102.0 458.1,1100.2" fill="#141414" stroke="#111" stroke-width="0.60" stroke-linejoin="round"/>
<circle r="1" transform="matrix(8.71 -3.41 -5.40 -4.86 468.2 1094.7)" fill="#262626" stroke="#5a5a5a" stroke-width="0.9" vector-effect="non-scaling-stroke"/>
<circle r="1" transform="matrix(5.23 -2.05 -3.24 -2.92 468.2 1094.7)" fill="#0c0c0c" stroke="#333" stroke-width="0.5" vector-effect="non-scaling-stroke"/>
<polygon points="428.8,1106.0 429.6,1104.1 431.2,1102.5 433.7,1101.2 436.6,1100.3 439.9,1100.1 443.0,1100.4 445.7,1101.3 447.8,1102.6 449.1,1104.3 449.3,1106.1 449.5,1111.8 448.7,1113.6 447.1,1115.2 444.6,1116.5 441.6,1117.4 438.4,1117.6 435.3,1117.3 432.6,1116.4 430.5,1115.1 429.2,1113.4 429.0,1111.6" fill="#141414" stroke="#111" stroke-width="0.60" stroke-linejoin="round"/>
<circle r="1" transform="matrix(8.76 -3.43 -5.39 -4.88 439.1 1106.0)" fill="#262626" stroke="#5a5a5a" stroke-width="0.9" vector-effect="non-scaling-stroke"/>
<circle r="1" transform="matrix(5.25 -2.06 -3.23 -2.93 439.1 1106.0)" fill="#0c0c0c" stroke="#333" stroke-width="0.5" vector-effect="non-scaling-stroke"/>
<polygon points="399.5,1117.4 400.3,1115.5 402.0,1113.9 404.4,1112.6 407.4,1111.8 410.6,1111.5 413.8,1111.8 416.5,1112.7 418.6,1114.0 419.8,1115.7 420.1,1117.6 420.2,1123.2 419.5,1125.1 417.8,1126.7 415.4,1128.0 412.4,1128.8 409.1,1129.1 406.0,1128.8 403.3,1127.9 401.2,1126.6 399.9,1124.9 399.7,1123.0" fill="#141414" stroke="#111" stroke-width="0.60" stroke-linejoin="round"/>
<circle r="1" transform="matrix(8.80 -3.44 -5.38 -4.90 409.8 1117.5)" fill="#262626" stroke="#5a5a5a" stroke-width="0.9" vector-effect="non-scaling-stroke"/>
<circle r="1" transform="matrix(5.28 -2.07 -3.23 -2.94 409.8 1117.5)" fill="#0c0c0c" stroke="#333" stroke-width="0.5" vector-effect="non-scaling-stroke"/>
<polygon points="370.1,1128.9 370.9,1127.0 372.6,1125.4 375.0,1124.1 378.0,1123.2 381.2,1123.0 384.4,1123.3 387.1,1124.2 389.2,1125.5 390.5,1127.2 390.7,1129.1 390.9,1134.7 390.1,1136.6 388.4,1138.2 385.9,1139.6 382.9,1140.4 379.7,1140.7 376.6,1140.3 373.8,1139.5 371.7,1138.1 370.5,1136.4 370.3,1134.5" fill="#141414" stroke="#111" stroke-width="0.60" stroke-linejoin="round"/>
<circle r="1" transform="matrix(8.85 -3.46 -5.37 -4.93 380.4 1129.0)" fill="#262626" stroke="#5a5a5a" stroke-width="0.9" vector-effect="non-scaling-stroke"/>
<circle r="1" transform="matrix(5.31 -2.08 -3.22 -2.96 380.4 1129.0)" fill="#0c0c0c" stroke="#333" stroke-width="0.5" vector-effect="non-scaling-stroke"/>
<polygon points="340.5,1140.5 341.3,1138.6 343.0,1136.9 345.5,1135.6 348.5,1134.8 351.7,1134.5 354.9,1134.8 357.6,1135.7 359.7,1137.1 360.9,1138.8 361.2,1140.7 361.4,1146.3 360.6,1148.2 358.9,1149.8 356.4,1151.2 353.4,1152.0 350.1,1152.3 347.0,1151.9 344.2,1151.0 342.1,1149.7 340.9,1148.0 340.7,1146.1" fill="#141414" stroke="#111" stroke-width="0.60" stroke-linejoin="round"/>
<circle r="1" transform="matrix(8.89 -3.48 -5.36 -4.95 350.8 1140.6)" fill="#262626" stroke="#5a5a5a" stroke-width="0.9" vector-effect="non-scaling-stroke"/>
<circle r="1" transform="matrix(5.33 -2.09 -3.22 -2.97 350.8 1140.6)" fill="#0c0c0c" stroke="#333" stroke-width="0.5" vector-effect="non-scaling-stroke"/>
<polygon points="737.7,1062.2 902.2,996.8 902.3,964.1 737.5,1029.1" fill="#c1c1c1" stroke="#222222" stroke-width="0.80" stroke-linejoin="round"/>
<polygon points="977.1,1059.1 902.2,996.8 902.3,964.1 977.3,1026.1" fill="#b4b4b4" stroke="#222222" stroke-width="0.80" stroke-linejoin="round"/>
<polyline points="755.5,1055.2 755.4,1035.9 755.4,1035.9 756.0,1032.3 757.7,1028.6 760.3,1025.3 763.6,1022.9 767.0,1021.5 770.3,1021.4 773.0,1022.5 774.7,1024.8 775.3,1028.0 775.4,1047.2" fill="none" stroke="#333" stroke-width="1.10" stroke-linejoin="round" stroke-linecap="round"/>
<circle r="1" transform="matrix(7.76 -3.07 -0.05 -7.71 765.4 1031.9)" fill="none" stroke="#444" stroke-width="1.0" vector-effect="non-scaling-stroke"/>
<polyline points="810.7,1033.2 810.6,1014.0 810.6,1014.0 811.2,1010.4 812.9,1006.7 815.6,1003.5 818.8,1001.0 822.2,999.7 825.4,999.6 828.1,1000.8 829.8,1003.1 830.4,1006.2 830.4,1025.4" fill="none" stroke="#333" stroke-width="1.10" stroke-linejoin="round" stroke-linecap="round"/>
<circle r="1" transform="matrix(7.68 -3.04 -0.02 -7.69 820.5 1010.1)" fill="none" stroke="#444" stroke-width="1.0" vector-effect="non-scaling-stroke"/>
<polyline points="865.4,1011.5 865.4,992.4 865.4,992.4 865.9,988.8 867.6,985.1 870.3,981.9 873.5,979.4 876.9,978.1 880.0,978.0 882.6,979.2 884.3,981.5 884.9,984.6 884.9,1003.7" fill="none" stroke="#333" stroke-width="1.10" stroke-linejoin="round" stroke-linecap="round"/>
<circle r="1" transform="matrix(7.61 -3.01 0.00 -7.66 875.1 988.5)" fill="none" stroke="#444" stroke-width="1.0" vector-effect="non-scaling-stroke"/>
<polyline points="927.5,1017.9 927.6,998.7 927.6,998.7 927.2,995.0 926.0,991.1 924.2,987.4 922.1,984.4 919.7,982.5 917.5,981.8 915.7,982.6 914.6,984.6 914.1,987.6 914.1,1006.7" fill="none" stroke="#333" stroke-width="1.10" stroke-linejoin="round" stroke-linecap="round"/>
<circle r="1" transform="matrix(-5.22 -4.33 0.03 -7.66 920.9 993.2)" fill="none" stroke="#444" stroke-width="1.0" vector-effect="non-scaling-stroke"/>
<polyline points="946.2,1033.4 946.3,1014.2 946.3,1014.2 945.9,1010.5 944.7,1006.6 943.0,1002.9 940.8,999.9 938.4,998.0 936.2,997.3 934.4,998.0 933.2,1000.0 932.8,1003.1 932.7,1022.2" fill="none" stroke="#333" stroke-width="1.10" stroke-linejoin="round" stroke-linecap="round"/>
<circle r="1" transform="matrix(-5.25 -4.35 0.04 -7.67 939.5 1008.6)" fill="none" stroke="#444" stroke-width="1.0" vector-effect="non-scaling-stroke"/>
<polyline points="965.0,1049.0 965.1,1029.8 965.1,1029.8 964.7,1026.1 963.6,1022.2 961.8,1018.5 959.6,1015.5 957.2,1013.5 955.0,1012.9 953.2,1013.6 952.0,1015.6 951.6,1018.6 951.4,1037.8" fill="none" stroke="#333" stroke-width="1.10" stroke-linejoin="round" stroke-linecap="round"/>
<circle r="1" transform="matrix(-5.27 -4.37 0.05 -7.68 958.3 1024.2)" fill="none" stroke="#444" stroke-width="1.0" vector-effect="non-scaling-stroke"/>
<polygon points="783.6,1024.7 784.1,1021.6 785.4,1018.5 787.5,1015.6 790.1,1013.2 793.0,1011.6 795.9,1011.0 798.5,1011.2 800.6,1012.5 810.7,1021.1 812.1,1023.2 812.5,1025.9 812.1,1029.0 810.8,1032.1 808.7,1035.0 806.1,1037.3 803.2,1039.0 800.3,1039.7 797.7,1039.4 795.6,1038.1 785.5,1029.5 784.1,1027.4" fill="#1f4fc0" stroke="#0c2460" stroke-width="0.70" stroke-linejoin="round"/>
<polygon points="794.8,1031.8 795.1,1029.3 796.2,1026.8 797.8,1024.5 799.9,1022.7 802.2,1021.4 804.5,1020.8 806.6,1021.1 808.2,1022.1 818.4,1030.7 819.5,1032.3 819.9,1034.5 819.5,1036.9 818.5,1039.4 816.8,1041.7 814.8,1043.6 812.5,1044.9 810.1,1045.5 808.1,1045.2 806.4,1044.2 796.2,1035.6 795.2,1033.9" fill="#2456c4" stroke="#0c2460" stroke-width="0.70" stroke-linejoin="round"/>
<circle r="1" transform="matrix(7.45 -2.97 -0.03 -7.44 812.4 1037.5)" fill="#2f63cf" stroke="#0c2460" stroke-width="0.7" vector-effect="non-scaling-stroke"/>
<circle r="1" transform="matrix(7.45 -2.96 -0.03 -7.43 808.2 1033.8)" fill="none" stroke="#143a8e" stroke-width="0.9" vector-effect="non-scaling-stroke"/>
<circle r="1" transform="matrix(3.31 -1.32 -0.01 -3.31 812.4 1037.5)" fill="#1a45a6" stroke="#0c2460" stroke-width="0.5" vector-effect="non-scaling-stroke"/>
<polygon points="838.6,1003.0 839.1,999.9 840.4,996.8 842.4,993.9 845.0,991.5 847.9,989.9 850.8,989.3 853.4,989.6 855.4,990.8 865.6,999.3 866.9,1001.4 867.4,1004.1 866.9,1007.2 865.6,1010.3 863.5,1013.2 861.0,1015.5 858.1,1017.1 855.2,1017.8 852.6,1017.5 850.6,1016.3 840.4,1007.7 839.1,1005.6" fill="#1f4fc0" stroke="#0c2460" stroke-width="0.70" stroke-linejoin="round"/>
<polygon points="849.8,1010.0 850.1,1007.5 851.2,1005.0 852.8,1002.8 854.9,1000.9 857.2,999.6 859.4,999.1 861.5,999.3 863.1,1000.3 873.3,1008.9 874.4,1010.5 874.8,1012.6 874.4,1015.1 873.3,1017.6 871.7,1019.9 869.6,1021.7 867.4,1023.0 865.1,1023.5 863.0,1023.3 861.4,1022.3 851.2,1013.8 850.1,1012.1" fill="#2456c4" stroke="#0c2460" stroke-width="0.70" stroke-linejoin="round"/>
<circle r="1" transform="matrix(7.38 -2.94 0.00 -7.41 867.4 1015.6)" fill="#2f63cf" stroke="#0c2460" stroke-width="0.7" vector-effect="non-scaling-stroke"/>
<circle r="1" transform="matrix(7.38 -2.93 -0.00 -7.41 863.1 1012.0)" fill="none" stroke="#143a8e" stroke-width="0.9" vector-effect="non-scaling-stroke"/>
<circle r="1" transform="matrix(3.28 -1.31 0.00 -3.29 867.4 1015.6)" fill="#1a45a6" stroke="#0c2460" stroke-width="0.5" vector-effect="non-scaling-stroke"/>
<polygon points="847.8,1079.2 848.2,1076.1 849.6,1073.0 851.7,1070.0 854.3,1067.7 857.2,1066.0 860.1,1065.3 862.7,1065.6 864.8,1066.8 875.2,1075.6 876.5,1077.7 877.0,1080.4 876.5,1083.5 875.2,1086.7 873.1,1089.6 870.5,1092.0 867.6,1093.6 864.6,1094.3 862.0,1094.0 859.9,1092.8 849.6,1084.0 848.3,1082.0" fill="#1f4fc0" stroke="#0c2460" stroke-width="0.70" stroke-linejoin="round"/>
<polygon points="840.4,1070.5 840.7,1068.0 841.8,1065.5 843.4,1063.2 845.5,1061.3 847.8,1060.0 850.1,1059.5 852.2,1059.7 853.9,1060.7 864.2,1069.4 865.2,1071.1 865.6,1073.2 865.2,1075.7 864.2,1078.2 862.5,1080.5 860.5,1082.4 858.2,1083.7 855.9,1084.3 853.8,1084.0 852.1,1083.1 841.8,1074.3 840.7,1072.7" fill="#2456c4" stroke="#0c2460" stroke-width="0.70" stroke-linejoin="round"/>
<circle r="1" transform="matrix(7.47 -3.01 -0.01 -7.46 852.1 1071.1)" fill="none" stroke="#143a8e" stroke-width="0.9" vector-effect="non-scaling-stroke"/>
<circle r="1" transform="matrix(3.32 -1.33 -0.00 -3.32 847.8 1067.5)" fill="#1a45a6" stroke="#0c2460" stroke-width="0.5" vector-effect="non-scaling-stroke"/>
<polygon points="903.0,1057.0 903.4,1053.9 904.8,1050.8 906.8,1047.9 909.4,1045.5 912.3,1043.9 915.2,1043.2 917.8,1043.5 919.8,1044.7 930.2,1053.4 931.5,1055.5 932.0,1058.2 931.5,1061.2 930.2,1064.4 928.1,1067.3 925.5,1069.7 922.6,1071.3 919.8,1072.0 917.1,1071.7 915.1,1070.5 904.7,1061.8 903.4,1059.7" fill="#1f4fc0" stroke="#0c2460" stroke-width="0.70" stroke-linejoin="round"/>
<polygon points="895.5,1048.3 895.9,1045.9 896.9,1043.4 898.5,1041.1 900.6,1039.2 902.9,1037.9 905.2,1037.4 907.2,1037.6 908.9,1038.6 919.2,1047.2 920.3,1048.9 920.6,1051.0 920.2,1053.5 919.2,1056.0 917.5,1058.3 915.5,1060.2 913.2,1061.5 910.9,1062.0 908.9,1061.8 907.2,1060.8 896.9,1052.1 895.8,1050.5" fill="#2456c4" stroke="#0c2460" stroke-width="0.70" stroke-linejoin="round"/>
<circle r="1" transform="matrix(7.40 -2.98 0.02 -7.44 907.2 1049.0)" fill="none" stroke="#143a8e" stroke-width="0.9" vector-effect="non-scaling-stroke"/>
<circle r="1" transform="matrix(3.29 -1.32 0.01 -3.30 902.9 1045.4)" fill="#1a45a6" stroke="#0c2460" stroke-width="0.5" vector-effect="non-scaling-stroke"/>
<path d="M802.6,1120.3 L1023.5,1030.8 L910.8,938.2 L691.2,1024.4Z M811.9,1092.8 L977.3,1026.1 L902.3,964.1 L737.5,1029.1Z" fill="#bcbcbc" fill-rule="evenodd" stroke="#222222" stroke-width="0.8"/>
<polygon points="802.8,1153.7 1023.1,1063.8 1023.5,1030.8 802.6,1120.3" fill="#bfbfbf" stroke="#222222" stroke-width="0.80" stroke-linejoin="round"/>
<polygon points="802.8,1153.7 691.6,1057.5 691.2,1024.4 802.6,1120.3" fill="#aeaeae" stroke="#222222" stroke-width="0.80" stroke-linejoin="round"/>
<circle r="1" transform="matrix(10.31 -4.19 -0.01 -11.10 858.7 1111.5)" fill="#696969"/>
<circle r="1" transform="matrix(9.07 -3.68 -0.01 -9.73 856.6 1109.7)" fill="#bfbfbf" stroke="#3a3a3a" stroke-width="0.9" vector-effect="non-scaling-stroke"/>
<circle r="1" transform="matrix(10.31 -4.19 -0.01 -11.10 858.7 1111.5)" fill="none" stroke="#262626" stroke-width="1.6" vector-effect="non-scaling-stroke"/>
<circle r="1" transform="matrix(10.20 -4.15 0.04 -11.06 914.1 1089.0)" fill="#696969"/>
<circle r="1" transform="matrix(8.98 -3.65 0.03 -9.69 912.0 1087.2)" fill="#bfbfbf" stroke="#3a3a3a" stroke-width="0.9" vector-effect="non-scaling-stroke"/>
<circle r="1" transform="matrix(10.20 -4.15 0.04 -11.06 914.1 1089.0)" fill="none" stroke="#262626" stroke-width="1.6" vector-effect="non-scaling-stroke"/>
<circle r="1" transform="matrix(10.10 -4.11 0.08 -11.02 969.0 1066.7)" fill="#696969"/>
<circle r="1" transform="matrix(8.89 -3.61 0.06 -9.66 966.9 1064.9)" fill="#bfbfbf" stroke="#3a3a3a" stroke-width="0.9" vector-effect="non-scaling-stroke"/>
<circle r="1" transform="matrix(10.10 -4.11 0.08 -11.02 969.0 1066.7)" fill="none" stroke="#262626" stroke-width="1.6" vector-effect="non-scaling-stroke"/>
<circle r="1" transform="matrix(-6.83 -5.89 -0.10 -11.06 728.1 1069.9)" fill="#5f5f5f"/>
<circle r="1" transform="matrix(-6.01 -5.18 -0.09 -9.70 731.1 1068.7)" fill="#aeaeae" stroke="#3a3a3a" stroke-width="0.9" vector-effect="non-scaling-stroke"/>
<circle r="1" transform="matrix(-6.83 -5.89 -0.10 -11.06 728.1 1069.9)" fill="none" stroke="#262626" stroke-width="1.6" vector-effect="non-scaling-stroke"/>
<circle r="1" transform="matrix(-6.86 -5.92 -0.09 -11.08 746.6 1085.8)" fill="#5f5f5f"/>
<circle r="1" transform="matrix(-6.04 -5.21 -0.07 -9.71 749.7 1084.6)" fill="#aeaeae" stroke="#3a3a3a" stroke-width="0.9" vector-effect="non-scaling-stroke"/>
<circle r="1" transform="matrix(-6.86 -5.92 -0.09 -11.08 746.6 1085.8)" fill="none" stroke="#262626" stroke-width="1.6" vector-effect="non-scaling-stroke"/>
<circle r="1" transform="matrix(-6.90 -5.95 -0.07 -11.10 765.2 1101.9)" fill="#5f5f5f"/>
<circle r="1" transform="matrix(-6.07 -5.24 -0.06 -9.73 768.3 1100.7)" fill="#aeaeae" stroke="#3a3a3a" stroke-width="0.9" vector-effect="non-scaling-stroke"/>
<circle r="1" transform="matrix(-6.90 -5.95 -0.07 -11.10 765.2 1101.9)" fill="none" stroke="#262626" stroke-width="1.6" vector-effect="non-scaling-stroke"/>
<polygon points="896.7,951.0 896.7,945.5 897.3,943.8 898.8,942.3 901.0,941.0 903.8,940.3 906.8,940.1 909.8,940.4 912.5,941.2 914.6,942.5 916.0,944.0 916.4,945.7 916.4,951.2 915.8,952.9 914.3,954.5 912.1,955.7 909.3,956.4 906.3,956.7 903.2,956.4 900.5,955.5 898.4,954.3 897.1,952.7" fill="#141414" stroke="#111" stroke-width="0.60" stroke-linejoin="round"/>
<circle r="1" transform="matrix(8.10 -3.19 -5.56 -4.58 906.5 945.6)" fill="#262626" stroke="#5a5a5a" stroke-width="0.9" vector-effect="non-scaling-stroke"/>
<circle r="1" transform="matrix(4.86 -1.91 -3.34 -2.75 906.5 945.6)" fill="#0c0c0c" stroke="#333" stroke-width="0.5" vector-effect="non-scaling-stroke"/>
<polygon points="869.6,956.2 870.2,954.4 871.7,952.9 873.9,951.7 876.7,950.9 879.8,950.7 882.8,951.0 885.5,951.8 887.6,953.1 888.9,954.6 889.3,956.4 889.3,961.9 888.8,963.6 887.3,965.1 885.0,966.4 882.2,967.1 879.2,967.4 876.1,967.0 873.5,966.2 871.3,965.0 870.0,963.4 869.6,961.6" fill="#141414" stroke="#111" stroke-width="0.60" stroke-linejoin="round"/>
<circle r="1" transform="matrix(8.14 -3.20 -5.55 -4.60 879.5 956.3)" fill="#262626" stroke="#5a5a5a" stroke-width="0.9" vector-effect="non-scaling-stroke"/>
<circle r="1" transform="matrix(4.88 -1.92 -3.33 -2.76 879.5 956.3)" fill="#0c0c0c" stroke="#333" stroke-width="0.5" vector-effect="non-scaling-stroke"/>
<polygon points="915.3,966.3 915.3,960.8 915.8,959.1 917.3,957.5 919.5,956.3 922.3,955.6 925.4,955.3 928.4,955.6 931.1,956.5 933.2,957.7 934.6,959.3 935.0,961.0 935.0,966.5 934.4,968.2 932.9,969.8 930.7,971.0 927.9,971.8 924.9,972.0 921.8,971.7 919.1,970.9 917.0,969.6 915.7,968.0" fill="#141414" stroke="#111" stroke-width="0.60" stroke-linejoin="round"/>
<circle r="1" transform="matrix(8.11 -3.20 -5.59 -4.60 925.1 960.9)" fill="#262626" stroke="#5a5a5a" stroke-width="0.9" vector-effect="non-scaling-stroke"/>
<circle r="1" transform="matrix(4.86 -1.92 -3.35 -2.76 925.1 960.9)" fill="#0c0c0c" stroke="#333" stroke-width="0.5" vector-effect="non-scaling-stroke"/>
<polygon points="842.4,966.9 843.0,965.1 844.5,963.6 846.7,962.4 849.5,961.6 852.6,961.4 855.6,961.7 858.3,962.5 860.5,963.8 861.8,965.3 862.2,967.1 862.2,972.6 861.6,974.3 860.1,975.9 857.8,977.1 855.0,977.9 852.0,978.1 848.9,977.8 846.2,977.0 844.1,975.7 842.8,974.1 842.4,972.3" fill="#141414" stroke="#111" stroke-width="0.60" stroke-linejoin="round"/>
<circle r="1" transform="matrix(8.18 -3.22 -5.54 -4.62 852.3 967.0)" fill="#262626" stroke="#5a5a5a" stroke-width="0.9" vector-effect="non-scaling-stroke"/>
<circle r="1" transform="matrix(4.91 -1.93 -3.33 -2.77 852.3 967.0)" fill="#0c0c0c" stroke="#333" stroke-width="0.5" vector-effect="non-scaling-stroke"/>
<polygon points="933.9,981.7 933.9,976.2 934.5,974.5 936.0,972.9 938.2,971.7 941.0,970.9 944.0,970.7 947.1,971.0 949.8,971.8 951.9,973.1 953.3,974.7 953.7,976.4 953.6,981.9 953.1,983.7 951.6,985.2 949.4,986.4 946.6,987.2 943.5,987.5 940.5,987.1 937.8,986.3 935.7,985.0 934.3,983.5" fill="#141414" stroke="#111" stroke-width="0.60" stroke-linejoin="round"/>
<circle r="1" transform="matrix(8.12 -3.22 -5.62 -4.63 943.8 976.3)" fill="#262626" stroke="#5a5a5a" stroke-width="0.9" vector-effect="non-scaling-stroke"/>
<circle r="1" transform="matrix(4.87 -1.93 -3.37 -2.78 943.8 976.3)" fill="#0c0c0c" stroke="#333" stroke-width="0.5" vector-effect="non-scaling-stroke"/>
<polygon points="815.0,977.6 815.6,975.9 817.1,974.3 819.4,973.1 822.2,972.3 825.3,972.1 828.3,972.4 831.0,973.2 833.2,974.5 834.5,976.1 834.9,977.8 834.9,983.3 834.3,985.1 832.8,986.6 830.5,987.9 827.7,988.6 824.6,988.9 821.6,988.6 818.9,987.7 816.7,986.5 815.4,984.9 815.1,983.1" fill="#141414" stroke="#111" stroke-width="0.60" stroke-linejoin="round"/>
<circle r="1" transform="matrix(8.22 -3.23 -5.54 -4.64 824.9 977.7)" fill="#262626" stroke="#5a5a5a" stroke-width="0.9" vector-effect="non-scaling-stroke"/>
<circle r="1" transform="matrix(4.93 -1.94 -3.32 -2.78 824.9 977.7)" fill="#0c0c0c" stroke="#333" stroke-width="0.5" vector-effect="non-scaling-stroke"/>
<polygon points="787.5,988.4 788.2,986.6 789.7,985.1 792.0,983.9 794.8,983.1 797.9,982.8 800.9,983.1 803.6,984.0 805.7,985.3 807.0,986.9 807.4,988.6 807.4,994.1 806.8,995.9 805.3,997.5 803.0,998.7 800.2,999.5 797.1,999.7 794.1,999.4 791.4,998.5 789.2,997.3 787.9,995.7 787.6,993.9" fill="#141414" stroke="#111" stroke-width="0.60" stroke-linejoin="round"/>
<circle r="1" transform="matrix(8.26 -3.25 -5.53 -4.66 797.5 988.5)" fill="#262626" stroke="#5a5a5a" stroke-width="0.9" vector-effect="non-scaling-stroke"/>
<circle r="1" transform="matrix(4.96 -1.95 -3.32 -2.80 797.5 988.5)" fill="#0c0c0c" stroke="#333" stroke-width="0.5" vector-effect="non-scaling-stroke"/>
<polygon points="952.7,997.2 952.7,991.7 953.2,989.9 954.7,988.4 956.9,987.1 959.7,986.4 962.8,986.1 965.8,986.4 968.6,987.3 970.7,988.5 972.0,990.1 972.5,991.9 972.4,997.4 971.9,999.1 970.4,1000.7 968.2,1001.9 965.4,1002.7 962.3,1003.0 959.3,1002.6 956.6,1001.8 954.4,1000.5 953.1,998.9" fill="#141414" stroke="#111" stroke-width="0.60" stroke-linejoin="round"/>
<circle r="1" transform="matrix(8.12 -3.24 -5.65 -4.65 962.6 991.8)" fill="#262626" stroke="#5a5a5a" stroke-width="0.9" vector-effect="non-scaling-stroke"/>
<circle r="1" transform="matrix(4.87 -1.95 -3.39 -2.79 962.6 991.8)" fill="#0c0c0c" stroke="#333" stroke-width="0.5" vector-effect="non-scaling-stroke"/>
<polygon points="759.9,999.3 760.5,997.5 762.1,995.9 764.4,994.7 767.2,993.9 770.3,993.7 773.4,994.0 776.1,994.8 778.2,996.1 779.5,997.7 779.8,999.5 779.9,1005.0 779.3,1006.8 777.7,1008.3 775.4,1009.6 772.6,1010.4 769.5,1010.6 766.5,1010.3 763.7,1009.4 761.6,1008.1 760.3,1006.5 760.0,1004.8" fill="#141414" stroke="#111" stroke-width="0.60" stroke-linejoin="round"/>
<circle r="1" transform="matrix(8.30 -3.26 -5.52 -4.68 769.9 999.4)" fill="#262626" stroke="#5a5a5a" stroke-width="0.9" vector-effect="non-scaling-stroke"/>
<circle r="1" transform="matrix(4.98 -1.96 -3.31 -2.81 769.9 999.4)" fill="#0c0c0c" stroke="#333" stroke-width="0.5" vector-effect="non-scaling-stroke"/>
<polygon points="971.5,1012.7 971.5,1007.2 972.1,1005.5 973.5,1003.9 975.8,1002.7 978.6,1001.9 981.6,1001.6 984.7,1002.0 987.4,1002.8 989.6,1004.1 990.9,1005.7 991.4,1007.5 991.3,1013.0 990.8,1014.7 989.3,1016.3 987.1,1017.5 984.3,1018.3 981.2,1018.5 978.2,1018.2 975.4,1017.4 973.3,1016.1 971.9,1014.5" fill="#141414" stroke="#111" stroke-width="0.60" stroke-linejoin="round"/>
<circle r="1" transform="matrix(8.13 -3.26 -5.68 -4.68 981.5 1007.3)" fill="#262626" stroke="#5a5a5a" stroke-width="0.9" vector-effect="non-scaling-stroke"/>
<circle r="1" transform="matrix(4.88 -1.96 -3.41 -2.81 981.5 1007.3)" fill="#0c0c0c" stroke="#333" stroke-width="0.5" vector-effect="non-scaling-stroke"/>
<polygon points="732.2,1010.2 732.8,1008.4 734.3,1006.8 736.6,1005.6 739.5,1004.8 742.6,1004.5 745.6,1004.9 748.4,1005.7 750.5,1007.0 751.8,1008.6 752.1,1010.4 752.2,1015.9 751.5,1017.7 750.0,1019.2 747.7,1020.5 744.9,1021.3 741.8,1021.5 738.7,1021.2 736.0,1020.4 733.9,1019.1 732.5,1017.5 732.2,1015.7" fill="#141414" stroke="#111" stroke-width="0.60" stroke-linejoin="round"/>
<circle r="1" transform="matrix(8.34 -3.28 -5.51 -4.70 742.1 1010.3)" fill="#262626" stroke="#5a5a5a" stroke-width="0.9" vector-effect="non-scaling-stroke"/>
<circle r="1" transform="matrix(5.00 -1.97 -3.31 -2.82 742.1 1010.3)" fill="#0c0c0c" stroke="#333" stroke-width="0.5" vector-effect="non-scaling-stroke"/>
<polygon points="704.3,1021.1 704.9,1019.4 706.5,1017.8 708.8,1016.5 711.6,1015.7 714.8,1015.5 717.8,1015.8 720.5,1016.6 722.6,1017.9 723.9,1019.6 724.3,1021.3 724.3,1026.9 723.7,1028.7 722.1,1030.2 719.8,1031.5 717.0,1032.3 713.9,1032.5 710.8,1032.2 708.0,1031.4 705.9,1030.1 704.6,1028.4 704.3,1026.7" fill="#141414" stroke="#111" stroke-width="0.60" stroke-linejoin="round"/>
<circle r="1" transform="matrix(8.38 -3.30 -5.50 -4.72 714.3 1021.2)" fill="#262626" stroke="#5a5a5a" stroke-width="0.9" vector-effect="non-scaling-stroke"/>
<circle r="1" transform="matrix(5.03 -1.98 -3.30 -2.83 714.3 1021.2)" fill="#0c0c0c" stroke="#333" stroke-width="0.5" vector-effect="non-scaling-stroke"/>
<polygon points="990.5,1028.4 990.5,1022.9 991.0,1021.1 992.5,1019.5 994.7,1018.3 997.5,1017.5 1000.6,1017.2 1003.7,1017.6 1006.4,1018.4 1008.6,1019.7 1009.9,1021.3 1010.4,1023.1 1010.3,1028.6 1009.8,1030.4 1008.3,1031.9 1006.1,1033.2 1003.3,1034.0 1000.2,1034.2 997.2,1033.9 994.4,1033.1 992.2,1031.8 990.9,1030.2" fill="#141414" stroke="#111" stroke-width="0.60" stroke-linejoin="round"/>
<circle r="1" transform="matrix(8.14 -3.28 -5.71 -4.70 1000.4 1023.0)" fill="#262626" stroke="#5a5a5a" stroke-width="0.9" vector-effect="non-scaling-stroke"/>
<circle r="1" transform="matrix(4.88 -1.97 -3.42 -2.82 1000.4 1023.0)" fill="#0c0c0c" stroke="#333" stroke-width="0.5" vector-effect="non-scaling-stroke"/>
<polygon points="963.2,1039.4 963.3,1033.8 963.8,1032.1 965.3,1030.5 967.5,1029.2 970.4,1028.4 973.4,1028.2 976.5,1028.5 979.2,1029.3 981.4,1030.7 982.8,1032.3 983.2,1034.0 983.2,1039.6 982.6,1041.3 981.1,1042.9 978.9,1044.2 976.1,1045.0 973.0,1045.2 969.9,1044.9 967.2,1044.1 965.0,1042.8 963.7,1041.2" fill="#141414" stroke="#111" stroke-width="0.60" stroke-linejoin="round"/>
<circle r="1" transform="matrix(8.18 -3.30 -5.70 -4.72 973.2 1033.9)" fill="#262626" stroke="#5a5a5a" stroke-width="0.9" vector-effect="non-scaling-stroke"/>
<circle r="1" transform="matrix(4.91 -1.98 -3.42 -2.83 973.2 1033.9)" fill="#0c0c0c" stroke="#333" stroke-width="0.5" vector-effect="non-scaling-stroke"/>
<polygon points="722.6,1036.9 723.3,1035.1 724.8,1033.5 727.1,1032.3 730.0,1031.5 733.1,1031.2 736.2,1031.5 738.9,1032.4 741.0,1033.7 742.4,1035.3 742.7,1037.1 742.8,1042.7 742.1,1044.4 740.6,1046.0 738.2,1047.3 735.4,1048.1 732.3,1048.3 729.2,1048.0 726.4,1047.2 724.3,1045.9 723.0,1044.2 722.7,1042.4" fill="#141414" stroke="#111" stroke-width="0.60" stroke-linejoin="round"/>
<circle r="1" transform="matrix(8.39 -3.32 -5.53 -4.74 732.7 1037.0)" fill="#262626" stroke="#5a5a5a" stroke-width="0.9" vector-effect="non-scaling-stroke"/>
<circle r="1" transform="matrix(5.03 -1.99 -3.32 -2.85 732.7 1037.0)" fill="#0c0c0c" stroke="#333" stroke-width="0.5" vector-effect="non-scaling-stroke"/>
<polygon points="935.9,1050.4 935.9,1044.9 936.5,1043.1 938.0,1041.5 940.2,1040.2 943.0,1039.5 946.1,1039.2 949.2,1039.5 952.0,1040.4 954.1,1041.7 955.5,1043.3 955.9,1045.1 955.9,1050.6 955.3,1052.4 953.8,1054.0 951.6,1055.2 948.8,1056.0 945.7,1056.3 942.6,1056.0 939.8,1055.1 937.7,1053.8 936.3,1052.2" fill="#141414" stroke="#111" stroke-width="0.60" stroke-linejoin="round"/>
<circle r="1" transform="matrix(8.22 -3.32 -5.69 -4.74 945.9 1045.0)" fill="#262626" stroke="#5a5a5a" stroke-width="0.9" vector-effect="non-scaling-stroke"/>
<circle r="1" transform="matrix(4.93 -1.99 -3.42 -2.85 945.9 1045.0)" fill="#0c0c0c" stroke="#333" stroke-width="0.5" vector-effect="non-scaling-stroke"/>
<polygon points="741.1,1052.8 741.7,1051.0 743.3,1049.4 745.6,1048.1 748.5,1047.3 751.6,1047.0 754.7,1047.4 757.4,1048.2 759.5,1049.5 760.9,1051.2 761.2,1053.0 761.3,1058.5 760.6,1060.3 759.1,1061.9 756.8,1063.2 753.9,1064.0 750.8,1064.2 747.7,1063.9 744.9,1063.1 742.8,1061.8 741.5,1060.1 741.1,1058.3" fill="#141414" stroke="#111" stroke-width="0.60" stroke-linejoin="round"/>
<circle r="1" transform="matrix(8.40 -3.34 -5.56 -4.77 751.2 1052.9)" fill="#262626" stroke="#5a5a5a" stroke-width="0.9" vector-effect="non-scaling-stroke"/>
<circle r="1" transform="matrix(5.04 -2.00 -3.34 -2.86 751.2 1052.9)" fill="#0c0c0c" stroke="#333" stroke-width="0.5" vector-effect="non-scaling-stroke"/>
<polygon points="908.4,1061.5 908.4,1056.0 909.0,1054.2 910.5,1052.6 912.8,1051.3 915.6,1050.5 918.7,1050.2 921.8,1050.6 924.5,1051.4 926.7,1052.7 928.1,1054.4 928.5,1056.2 928.5,1061.7 927.9,1063.5 926.4,1065.1 924.1,1066.4 921.3,1067.2 918.2,1067.4 915.1,1067.1 912.3,1066.2 910.2,1064.9 908.8,1063.3" fill="#141414" stroke="#111" stroke-width="0.60" stroke-linejoin="round"/>
<circle r="1" transform="matrix(8.26 -3.33 -5.68 -4.76 918.5 1056.1)" fill="#262626" stroke="#5a5a5a" stroke-width="0.9" vector-effect="non-scaling-stroke"/>
<circle r="1" transform="matrix(4.96 -2.00 -3.41 -2.86 918.5 1056.1)" fill="#0c0c0c" stroke="#333" stroke-width="0.5" vector-effect="non-scaling-stroke"/>
<polygon points="880.8,1072.6 880.8,1067.1 881.4,1065.3 882.9,1063.7 885.2,1062.4 888.0,1061.6 891.1,1061.4 894.2,1061.7 897.0,1062.5 899.1,1063.8 900.5,1065.5 900.9,1067.3 900.9,1072.8 900.3,1074.7 898.8,1076.3 896.5,1077.5 893.7,1078.3 890.6,1078.6 887.5,1078.3 884.7,1077.4 882.5,1076.1 881.2,1074.5" fill="#141414" stroke="#111" stroke-width="0.60" stroke-linejoin="round"/>
<circle r="1" transform="matrix(8.30 -3.35 -5.68 -4.78 890.9 1067.2)" fill="#262626" stroke="#5a5a5a" stroke-width="0.9" vector-effect="non-scaling-stroke"/>
<circle r="1" transform="matrix(4.98 -2.01 -3.41 -2.87 890.9 1067.2)" fill="#0c0c0c" stroke="#333" stroke-width="0.5" vector-effect="non-scaling-stroke"/>
<polygon points="759.7,1068.7 760.3,1066.9 761.8,1065.3 764.2,1064.0 767.0,1063.2 770.2,1063.0 773.3,1063.3 776.0,1064.1 778.1,1065.5 779.5,1067.1 779.8,1068.9 779.9,1074.5 779.2,1076.3 777.7,1077.9 775.4,1079.2 772.5,1080.0 769.4,1080.2 766.3,1079.9 763.5,1079.0 761.4,1077.7 760.1,1076.1 759.7,1074.3" fill="#141414" stroke="#111" stroke-width="0.60" stroke-linejoin="round"/>
<circle r="1" transform="matrix(8.41 -3.36 -5.59 -4.80 769.7 1068.8)" fill="#262626" stroke="#5a5a5a" stroke-width="0.9" vector-effect="non-scaling-stroke"/>
<circle r="1" transform="matrix(5.05 -2.01 -3.36 -2.88 769.7 1068.8)" fill="#0c0c0c" stroke="#333" stroke-width="0.5" vector-effect="non-scaling-stroke"/>
<polygon points="853.0,1078.3 853.6,1076.5 855.1,1074.9 857.5,1073.6 860.3,1072.8 863.4,1072.5 866.5,1072.8 869.3,1073.7 871.5,1075.0 872.8,1076.7 873.2,1078.5 873.2,1084.0 872.6,1085.9 871.1,1087.5 868.8,1088.8 865.9,1089.6 862.8,1089.8 859.7,1089.5 856.9,1088.6 854.8,1087.3 853.4,1085.7 853.0,1083.8" fill="#141414" stroke="#111" stroke-width="0.60" stroke-linejoin="round"/>
<circle r="1" transform="matrix(8.34 -3.37 -5.67 -4.80 863.1 1078.4)" fill="#262626" stroke="#5a5a5a" stroke-width="0.9" vector-effect="non-scaling-stroke"/>
<circle r="1" transform="matrix(5.01 -2.02 -3.40 -2.88 863.1 1078.4)" fill="#0c0c0c" stroke="#333" stroke-width="0.5" vector-effect="non-scaling-stroke"/>
<polygon points="778.3,1084.7 778.9,1082.9 780.5,1081.3 782.8,1080.0 785.7,1079.2 788.8,1079.0 791.9,1079.3 794.7,1080.1 796.9,1081.5 798.2,1083.1 798.5,1084.9 798.6,1090.5 798.0,1092.3 796.4,1093.9 794.1,1095.2 791.2,1096.0 788.1,1096.3 785.0,1096.0 782.2,1095.1 780.0,1093.8 778.7,1092.1 778.4,1090.3" fill="#141414" stroke="#111" stroke-width="0.60" stroke-linejoin="round"/>
<circle r="1" transform="matrix(8.42 -3.38 -5.62 -4.82 788.4 1084.8)" fill="#262626" stroke="#5a5a5a" stroke-width="0.9" vector-effect="non-scaling-stroke"/>
<circle r="1" transform="matrix(5.05 -2.03 -3.37 -2.89 788.4 1084.8)" fill="#0c0c0c" stroke="#333" stroke-width="0.5" vector-effect="non-scaling-stroke"/>
<polygon points="825.1,1089.5 825.7,1087.7 827.3,1086.1 829.6,1084.8 832.5,1084.0 835.6,1083.8 838.7,1084.1 841.5,1084.9 843.6,1086.3 845.0,1087.9 845.4,1089.7 845.4,1095.3 844.8,1097.1 843.2,1098.8 840.9,1100.0 838.0,1100.8 834.9,1101.1 831.8,1100.8 829.0,1099.9 826.9,1098.6 825.5,1096.9 825.1,1095.1" fill="#141414" stroke="#111" stroke-width="0.60" stroke-linejoin="round"/>
<circle r="1" transform="matrix(8.38 -3.38 -5.66 -4.83 835.2 1089.6)" fill="#262626" stroke="#5a5a5a" stroke-width="0.9" vector-effect="non-scaling-stroke"/>
<circle r="1" transform="matrix(5.03 -2.03 -3.40 -2.90 835.2 1089.6)" fill="#0c0c0c" stroke="#333" stroke-width="0.5" vector-effect="non-scaling-stroke"/>
<polygon points="797.1,1100.8 797.7,1099.0 799.2,1097.4 801.6,1096.1 804.5,1095.3 807.6,1095.0 810.7,1095.3 813.5,1096.2 815.6,1097.5 817.0,1099.2 817.4,1101.0 817.4,1106.6 816.8,1108.5 815.2,1110.1 812.9,1111.4 810.0,1112.2 806.9,1112.5 803.8,1112.1 801.0,1111.3 798.8,1109.9 797.5,1108.3 797.1,1106.4" fill="#141414" stroke="#111" stroke-width="0.60" stroke-linejoin="round"/>
<circle r="1" transform="matrix(8.43 -3.40 -5.65 -4.85 807.2 1100.9)" fill="#262626" stroke="#5a5a5a" stroke-width="0.9" vector-effect="non-scaling-stroke"/>
<circle r="1" transform="matrix(5.06 -2.04 -3.39 -2.91 807.2 1100.9)" fill="#0c0c0c" stroke="#333" stroke-width="0.5" vector-effect="non-scaling-stroke"/>
<circle r="1" transform="matrix(10.36 -4.21 -0.03 -11.12 830.7 1122.9)" fill="#696969"/>
<circle r="1" transform="matrix(9.11 -3.70 -0.02 -9.74 828.7 1121.1)" fill="#bfbfbf" stroke="#3a3a3a" stroke-width="0.9" vector-effect="non-scaling-stroke"/>
<circle r="1" transform="matrix(10.36 -4.21 -0.03 -11.12 830.7 1122.9)" fill="none" stroke="#262626" stroke-width="1.6" vector-effect="non-scaling-stroke"/>
<circle r="1" transform="matrix(10.05 -4.09 0.10 -11.00 996.2 1055.6)" fill="#696969"/>
<circle r="1" transform="matrix(8.84 -3.59 0.08 -9.64 994.1 1053.9)" fill="#bfbfbf" stroke="#3a3a3a" stroke-width="0.9" vector-effect="non-scaling-stroke"/>
<circle r="1" transform="matrix(10.05 -4.09 0.10 -11.00 996.2 1055.6)" fill="none" stroke="#262626" stroke-width="1.6" vector-effect="non-scaling-stroke"/>
<polygon points="822.9,1126.0 823.3,1123.5 824.4,1120.8 826.1,1118.4 828.3,1116.4 830.7,1115.1 833.1,1114.5 835.3,1114.7 837.1,1115.7 849.3,1126.2 850.4,1127.9 850.8,1130.2 850.5,1132.7 849.3,1135.4 847.6,1137.8 845.4,1139.8 843.0,1141.2 840.6,1141.8 838.4,1141.5 836.6,1140.5 824.4,1130.0 823.3,1128.3" fill="#333333" stroke="#c8c8c8" stroke-width="0.90" stroke-linejoin="round"/>
<polygon points="834.2,1136.5 834.6,1133.8 835.8,1130.9 837.7,1128.3 840.0,1126.2 842.6,1124.7 845.2,1124.1 847.6,1124.3 849.4,1125.4 854.6,1129.8 855.8,1131.6 856.2,1134.0 855.8,1136.8 854.6,1139.6 852.7,1142.2 850.4,1144.3 847.8,1145.8 845.2,1146.5 842.8,1146.2 841.0,1145.2 835.9,1140.8 834.7,1138.9" fill="#3a3a3a" stroke="#d4d4d4" stroke-width="1.00" stroke-linejoin="round"/>
<circle r="1" transform="matrix(8.41 -3.43 -0.01 -8.36 847.8 1137.5)" fill="#6a6a6a" stroke="#dcdcdc" stroke-width="1.0" vector-effect="non-scaling-stroke"/>
<circle r="1" transform="matrix(4.20 -1.72 -0.00 -4.18 847.8 1137.5)" fill="#262626" stroke="#999" stroke-width="0.6" vector-effect="non-scaling-stroke"/>
<polygon points="988.6,1058.7 989.0,1056.2 990.1,1053.6 991.8,1051.2 993.9,1049.2 996.3,1047.9 998.6,1047.3 1000.7,1047.6 1002.4,1048.6 1014.8,1058.8 1015.8,1060.5 1016.2,1062.8 1015.8,1065.3 1014.7,1067.9 1013.0,1070.3 1010.9,1072.2 1008.5,1073.6 1006.1,1074.2 1004.0,1073.9 1002.4,1072.9 990.0,1062.7 989.0,1060.9" fill="#333333" stroke="#c8c8c8" stroke-width="0.90" stroke-linejoin="round"/>
<polygon points="1000.1,1068.9 1000.5,1066.2 1001.7,1063.4 1003.5,1060.8 1005.8,1058.7 1008.3,1057.3 1010.8,1056.7 1013.1,1056.9 1014.9,1058.0 1020.0,1062.3 1021.2,1064.1 1021.5,1066.5 1021.1,1069.2 1019.9,1072.0 1018.1,1074.6 1015.8,1076.7 1013.3,1078.1 1010.8,1078.7 1008.5,1078.5 1006.7,1077.4 1001.6,1073.1 1000.4,1071.3" fill="#3a3a3a" stroke="#d4d4d4" stroke-width="1.00" stroke-linejoin="round"/>
<circle r="1" transform="matrix(8.16 -3.33 0.08 -8.27 1013.4 1069.8)" fill="#6a6a6a" stroke="#dcdcdc" stroke-width="1.0" vector-effect="non-scaling-stroke"/>
<circle r="1" transform="matrix(4.08 -1.67 0.04 -4.14 1013.4 1069.8)" fill="#262626" stroke="#999" stroke-width="0.6" vector-effect="non-scaling-stroke"/>
<polygon points="877.0,1104.0 877.5,1101.0 878.8,1097.8 880.9,1094.8 883.5,1092.4 886.5,1090.8 889.4,1090.1 892.0,1090.3 894.1,1091.6 904.5,1100.4 905.8,1102.5 906.3,1105.2 905.8,1108.3 904.5,1111.5 902.4,1114.4 899.8,1116.8 896.9,1118.5 893.9,1119.2 891.3,1119.0 889.2,1117.7 878.8,1108.9 877.5,1106.8" fill="#1f4fc0" stroke="#0c2460" stroke-width="0.70" stroke-linejoin="round"/>
<polygon points="888.4,1111.3 888.8,1108.8 889.9,1106.3 891.5,1104.0 893.6,1102.1 895.9,1100.8 898.2,1100.2 900.3,1100.4 902.0,1101.4 912.5,1110.2 913.5,1111.9 913.9,1114.1 913.5,1116.5 912.4,1119.0 910.8,1121.4 908.7,1123.3 906.4,1124.6 904.0,1125.2 902.0,1125.0 900.3,1124.0 889.9,1115.1 888.8,1113.5" fill="#2456c4" stroke="#0c2460" stroke-width="0.70" stroke-linejoin="round"/>
<circle r="1" transform="matrix(7.49 -3.06 0.02 -7.50 906.4 1117.1)" fill="#2f63cf" stroke="#0c2460" stroke-width="0.7" vector-effect="non-scaling-stroke"/>
<circle r="1" transform="matrix(7.49 -3.06 0.02 -7.49 902.0 1113.4)" fill="none" stroke="#143a8e" stroke-width="0.9" vector-effect="non-scaling-stroke"/>
<circle r="1" transform="matrix(3.33 -1.36 0.01 -3.33 906.4 1117.1)" fill="#1a45a6" stroke="#0c2460" stroke-width="0.5" vector-effect="non-scaling-stroke"/>
<polygon points="932.3,1081.6 932.7,1078.5 934.1,1075.3 936.1,1072.4 938.8,1070.0 941.6,1068.4 944.5,1067.7 947.1,1068.0 949.2,1069.2 959.6,1078.0 960.9,1080.0 961.4,1082.8 960.9,1085.9 959.6,1089.0 957.5,1091.9 954.9,1094.3 952.0,1096.0 949.1,1096.7 946.5,1096.4 944.5,1095.2 934.0,1086.4 932.7,1084.3" fill="#1f4fc0" stroke="#0c2460" stroke-width="0.70" stroke-linejoin="round"/>
<polygon points="943.7,1088.8 944.1,1086.3 945.1,1083.8 946.8,1081.5 948.9,1079.6 951.1,1078.3 953.4,1077.7 955.5,1078.0 957.1,1078.9 967.6,1087.7 968.6,1089.4 969.0,1091.5 968.6,1094.0 967.6,1096.5 965.9,1098.8 963.8,1100.7 961.5,1102.0 959.2,1102.6 957.2,1102.4 955.6,1101.4 945.1,1092.6 944.0,1091.0" fill="#2456c4" stroke="#0c2460" stroke-width="0.70" stroke-linejoin="round"/>
<circle r="1" transform="matrix(7.42 -3.03 0.05 -7.47 961.6 1094.6)" fill="#2f63cf" stroke="#0c2460" stroke-width="0.7" vector-effect="non-scaling-stroke"/>
<circle r="1" transform="matrix(7.41 -3.03 0.05 -7.47 957.2 1090.9)" fill="none" stroke="#143a8e" stroke-width="0.9" vector-effect="non-scaling-stroke"/>
<circle r="1" transform="matrix(3.30 -1.35 0.02 -3.32 961.6 1094.6)" fill="#1a45a6" stroke="#0c2460" stroke-width="0.5" vector-effect="non-scaling-stroke"/>
<polygon points="1261.1,893.1 1261.5,890.6 1262.6,888.0 1264.3,885.6 1266.3,883.8 1268.6,882.5 1270.8,882.0 1272.8,882.4 1274.4,883.5 1292.8,897.1 1293.8,898.9 1294.1,901.2 1293.6,903.7 1292.5,906.3 1290.9,908.6 1288.8,910.5 1286.5,911.8 1284.3,912.3 1282.3,912.0 1280.8,910.9 1262.3,897.1 1261.4,895.4" fill="#333333" stroke="#c8c8c8" stroke-width="0.90" stroke-linejoin="round"/>
<polygon points="1253.4,888.0 1253.9,885.3 1255.1,882.5 1256.8,880.0 1259.0,878.0 1261.5,876.7 1263.9,876.1 1266.0,876.5 1267.7,877.7 1275.3,883.4 1276.4,885.3 1276.7,887.7 1276.2,890.4 1275.0,893.2 1273.3,895.7 1271.0,897.7 1268.6,899.0 1266.2,899.5 1264.1,899.2 1262.4,898.0 1254.8,892.3 1253.7,890.4" fill="#3a3a3a" stroke="#d4d4d4" stroke-width="1.00" stroke-linejoin="round"/>
<circle r="1" transform="matrix(7.80 -2.99 0.25 -8.35 1265.0 887.8)" fill="none" stroke="#d0d0d0" stroke-width="0.9" vector-effect="non-scaling-stroke"/>
<polygon points="1254.7,924.9 1410.3,864.8 1390.4,850.4 1234.9,910.2" fill="#bcbcbc" stroke="#222222" stroke-width="1.00" stroke-linejoin="round"/>
<polygon points="1253.7,958.6 1409.0,898.1 1410.3,864.8 1254.7,924.9" fill="#bfbfbf" stroke="#222222" stroke-width="1.00" stroke-linejoin="round"/>
<polygon points="1253.7,958.6 1234.0,943.7 1234.9,910.2 1254.7,924.9" fill="#aeaeae" stroke="#222222" stroke-width="1.00" stroke-linejoin="round"/>
<circle r="1" transform="matrix(9.68 -3.75 0.34 -11.18 1280.5 928.8)" fill="#696969"/>
<circle r="1" transform="matrix(8.52 -3.30 0.30 -9.80 1278.3 927.2)" fill="#bfbfbf" stroke="#3a3a3a" stroke-width="0.9" vector-effect="non-scaling-stroke"/>
<circle r="1" transform="matrix(9.68 -3.75 0.34 -11.18 1280.5 928.8)" fill="none" stroke="#262626" stroke-width="1.6" vector-effect="non-scaling-stroke"/>
<circle r="1" transform="matrix(9.63 -3.73 0.36 -11.16 1306.6 918.7)" fill="#696969"/>
<circle r="1" transform="matrix(8.47 -3.28 0.31 -9.78 1304.4 917.1)" fill="#bfbfbf" stroke="#3a3a3a" stroke-width="0.9" vector-effect="non-scaling-stroke"/>
<circle r="1" transform="matrix(9.63 -3.73 0.36 -11.16 1306.6 918.7)" fill="none" stroke="#262626" stroke-width="1.6" vector-effect="non-scaling-stroke"/>
<circle r="1" transform="matrix(9.59 -3.72 0.38 -11.14 1332.6 908.6)" fill="#696969"/>
<circle r="1" transform="matrix(8.43 -3.27 0.33 -9.76 1330.4 907.0)" fill="#bfbfbf" stroke="#3a3a3a" stroke-width="0.9" vector-effect="non-scaling-stroke"/>
<circle r="1" transform="matrix(9.59 -3.72 0.38 -11.14 1332.6 908.6)" fill="none" stroke="#262626" stroke-width="1.6" vector-effect="non-scaling-stroke"/>
<circle r="1" transform="matrix(9.54 -3.70 0.40 -11.12 1358.4 898.6)" fill="#696969"/>
<circle r="1" transform="matrix(8.39 -3.25 0.35 -9.74 1356.2 897.0)" fill="#bfbfbf" stroke="#3a3a3a" stroke-width="0.9" vector-effect="non-scaling-stroke"/>
<circle r="1" transform="matrix(9.54 -3.70 0.40 -11.12 1358.4 898.6)" fill="none" stroke="#262626" stroke-width="1.6" vector-effect="non-scaling-stroke"/>
<circle r="1" transform="matrix(9.49 -3.68 0.41 -11.10 1384.1 888.6)" fill="#696969"/>
<circle r="1" transform="matrix(8.35 -3.24 0.36 -9.73 1381.9 887.0)" fill="#bfbfbf" stroke="#3a3a3a" stroke-width="0.9" vector-effect="non-scaling-stroke"/>
<circle r="1" transform="matrix(9.49 -3.68 0.41 -11.10 1384.1 888.6)" fill="none" stroke="#262626" stroke-width="1.6" vector-effect="non-scaling-stroke"/>
<polygon points="1377.8,862.4 1378.0,856.8 1378.4,855.2 1379.7,853.8 1381.8,852.6 1384.4,851.9 1387.4,851.7 1390.4,852.0 1393.2,852.8 1395.4,854.0 1396.9,855.5 1397.5,857.1 1397.2,862.7 1396.9,864.3 1395.6,865.7 1393.5,866.9 1390.8,867.6 1387.8,867.8 1384.8,867.5 1382.0,866.7 1379.8,865.5 1378.4,864.0" fill="#141414" stroke="#111" stroke-width="0.60" stroke-linejoin="round"/>
<circle r="1" transform="matrix(7.69 -2.96 -5.96 -4.33 1387.7 857.0)" fill="#262626" stroke="#5a5a5a" stroke-width="0.9" vector-effect="non-scaling-stroke"/>
<circle r="1" transform="matrix(4.61 -1.77 -3.58 -2.60 1387.7 857.0)" fill="#0c0c0c" stroke="#333" stroke-width="0.5" vector-effect="non-scaling-stroke"/>
<polygon points="1352.1,872.3 1352.3,866.7 1352.7,865.1 1354.0,863.6 1356.1,862.5 1358.8,861.8 1361.8,861.6 1364.8,861.9 1367.5,862.7 1369.8,863.9 1371.2,865.4 1371.8,867.0 1371.6,872.6 1371.2,874.2 1369.9,875.6 1367.8,876.8 1365.1,877.5 1362.1,877.7 1359.1,877.4 1356.3,876.6 1354.1,875.4 1352.7,873.9" fill="#141414" stroke="#111" stroke-width="0.60" stroke-linejoin="round"/>
<circle r="1" transform="matrix(7.72 -2.97 -5.96 -4.35 1362.0 866.9)" fill="#262626" stroke="#5a5a5a" stroke-width="0.9" vector-effect="non-scaling-stroke"/>
<circle r="1" transform="matrix(4.63 -1.78 -3.57 -2.61 1362.0 866.9)" fill="#0c0c0c" stroke="#333" stroke-width="0.5" vector-effect="non-scaling-stroke"/>
<polygon points="1326.3,882.2 1326.5,876.6 1326.9,875.0 1328.2,873.6 1330.3,872.4 1333.0,871.7 1336.0,871.5 1339.0,871.8 1341.8,872.6 1344.0,873.8 1345.5,875.3 1346.0,876.9 1345.8,882.5 1345.4,884.1 1344.1,885.6 1342.0,886.7 1339.3,887.5 1336.3,887.7 1333.3,887.4 1330.5,886.6 1328.3,885.4 1326.8,883.9" fill="#141414" stroke="#111" stroke-width="0.60" stroke-linejoin="round"/>
<circle r="1" transform="matrix(7.76 -2.99 -5.95 -4.37 1336.2 876.8)" fill="#262626" stroke="#5a5a5a" stroke-width="0.9" vector-effect="non-scaling-stroke"/>
<circle r="1" transform="matrix(4.66 -1.79 -3.57 -2.62 1336.2 876.8)" fill="#0c0c0c" stroke="#333" stroke-width="0.5" vector-effect="non-scaling-stroke"/>
<polygon points="1300.3,892.2 1300.5,886.6 1300.9,885.0 1302.2,883.5 1304.4,882.4 1307.1,881.7 1310.1,881.5 1313.1,881.8 1315.9,882.6 1318.1,883.8 1319.6,885.3 1320.1,886.9 1319.9,892.5 1319.5,894.1 1318.2,895.6 1316.1,896.8 1313.4,897.5 1310.3,897.7 1307.3,897.4 1304.5,896.6 1302.3,895.4 1300.9,893.9" fill="#141414" stroke="#111" stroke-width="0.60" stroke-linejoin="round"/>
<circle r="1" transform="matrix(7.80 -3.00 -5.95 -4.39 1310.3 886.8)" fill="#262626" stroke="#5a5a5a" stroke-width="0.9" vector-effect="non-scaling-stroke"/>
<circle r="1" transform="matrix(4.68 -1.80 -3.57 -2.63 1310.3 886.8)" fill="#0c0c0c" stroke="#333" stroke-width="0.5" vector-effect="non-scaling-stroke"/>
<polygon points="1274.2,902.2 1274.4,896.6 1274.8,895.0 1276.2,893.5 1278.3,892.4 1281.0,891.7 1284.0,891.5 1287.1,891.8 1289.9,892.6 1292.1,893.8 1293.5,895.3 1294.1,896.9 1293.9,902.5 1293.5,904.2 1292.2,905.6 1290.0,906.8 1287.3,907.5 1284.3,907.7 1281.2,907.4 1278.5,906.6 1276.2,905.4 1274.8,903.9" fill="#141414" stroke="#111" stroke-width="0.60" stroke-linejoin="round"/>
<circle r="1" transform="matrix(7.84 -3.02 -5.94 -4.41 1284.2 896.8)" fill="#262626" stroke="#5a5a5a" stroke-width="0.9" vector-effect="non-scaling-stroke"/>
<circle r="1" transform="matrix(4.70 -1.81 -3.56 -2.64 1284.2 896.8)" fill="#0c0c0c" stroke="#333" stroke-width="0.5" vector-effect="non-scaling-stroke"/>
<polygon points="1248.0,912.3 1248.2,906.7 1248.6,905.1 1250.0,903.6 1252.1,902.5 1254.8,901.7 1257.9,901.5 1260.9,901.8 1263.7,902.6 1265.9,903.8 1267.4,905.4 1267.9,907.0 1267.8,912.6 1267.3,914.3 1266.0,915.8 1263.8,916.9 1261.1,917.6 1258.1,917.9 1255.0,917.5 1252.2,916.7 1250.0,915.5 1248.6,914.0" fill="#141414" stroke="#111" stroke-width="0.60" stroke-linejoin="round"/>
<circle r="1" transform="matrix(7.88 -3.03 -5.93 -4.43 1258.1 906.9)" fill="#262626" stroke="#5a5a5a" stroke-width="0.9" vector-effect="non-scaling-stroke"/>
<circle r="1" transform="matrix(4.73 -1.82 -3.56 -2.66 1258.1 906.9)" fill="#0c0c0c" stroke="#333" stroke-width="0.5" vector-effect="non-scaling-stroke"/>
<polygon points="1334.8,984.9 1387.3,964.2 1307.0,904.7 1254.7,924.9" fill="#6b6b6b" stroke="#222222" stroke-width="1.00" stroke-linejoin="round"/>
<polygon points="1333.6,1018.7 1386.0,997.9 1387.3,964.2 1334.8,984.9" fill="#676767" stroke="#222222" stroke-width="1.00" stroke-linejoin="round"/>
<polygon points="1333.6,1018.7 1253.7,958.6 1254.7,924.9 1334.8,984.9" fill="#626262" stroke="#222222" stroke-width="1.00" stroke-linejoin="round"/>
<polygon points="1294.1,917.0 1294.2,911.4 1294.7,909.7 1296.0,908.2 1298.1,907.1 1300.8,906.4 1303.9,906.2 1306.9,906.5 1309.7,907.3 1311.9,908.5 1313.4,910.0 1314.0,911.7 1313.8,917.3 1313.4,918.9 1312.0,920.4 1309.9,921.6 1307.2,922.3 1304.1,922.5 1301.1,922.2 1298.3,921.4 1296.1,920.2 1294.6,918.6" fill="#232323" stroke="#111" stroke-width="0.60" stroke-linejoin="round"/>
<circle r="1" transform="matrix(7.61 -2.94 -5.79 -4.30 1304.1 911.5)" fill="#6a6a6a" stroke="#2a2a2a" stroke-width="0.6" vector-effect="non-scaling-stroke"/>
<polygon points="1267.8,927.1 1268.0,921.5 1268.4,919.9 1269.8,918.4 1271.9,917.2 1274.7,916.5 1277.7,916.3 1280.8,916.6 1283.5,917.4 1285.8,918.6 1287.2,920.1 1287.8,921.8 1287.6,927.4 1287.2,929.1 1285.8,930.6 1283.7,931.7 1281.0,932.5 1277.9,932.7 1274.8,932.4 1272.1,931.6 1269.8,930.3 1268.4,928.8" fill="#232323" stroke="#111" stroke-width="0.60" stroke-linejoin="round"/>
<circle r="1" transform="matrix(7.64 -2.96 -5.79 -4.32 1277.9 921.7)" fill="#6a6a6a" stroke="#2a2a2a" stroke-width="0.6" vector-effect="non-scaling-stroke"/>
<polygon points="1314.0,931.8 1314.2,926.2 1314.6,924.5 1315.9,923.0 1318.1,921.9 1320.8,921.1 1323.8,920.9 1326.9,921.2 1329.7,922.0 1331.9,923.3 1333.4,924.8 1333.9,926.5 1333.8,932.1 1333.3,933.8 1332.0,935.2 1329.9,936.4 1327.2,937.1 1324.1,937.4 1321.0,937.0 1318.3,936.2 1316.0,935.0 1314.5,933.5" fill="#232323" stroke="#111" stroke-width="0.60" stroke-linejoin="round"/>
<circle r="1" transform="matrix(7.61 -2.96 -5.82 -4.32 1324.1 926.3)" fill="#6a6a6a" stroke="#2a2a2a" stroke-width="0.6" vector-effect="non-scaling-stroke"/>
<polygon points="1287.8,942.0 1287.9,936.4 1288.3,934.7 1289.7,933.2 1291.8,932.1 1294.6,931.3 1297.6,931.1 1300.7,931.4 1303.5,932.2 1305.7,933.5 1307.2,935.0 1307.7,936.7 1307.6,942.3 1307.1,944.0 1305.8,945.5 1303.7,946.6 1300.9,947.4 1297.9,947.6 1294.8,947.3 1292.0,946.5 1289.8,945.2 1288.3,943.7" fill="#232323" stroke="#111" stroke-width="0.60" stroke-linejoin="round"/>
<circle r="1" transform="matrix(7.65 -2.98 -5.82 -4.34 1297.8 936.5)" fill="#6a6a6a" stroke="#2a2a2a" stroke-width="0.6" vector-effect="non-scaling-stroke"/>
<polygon points="1334.0,946.7 1334.2,941.1 1334.6,939.4 1336.0,937.9 1338.1,936.7 1340.8,936.0 1343.9,935.8 1346.9,936.1 1349.7,936.9 1352.0,938.1 1353.5,939.7 1354.0,941.4 1353.8,947.0 1353.4,948.6 1352.1,950.1 1350.0,951.3 1347.2,952.0 1344.2,952.3 1341.1,952.0 1338.3,951.1 1336.1,949.9 1334.6,948.4" fill="#232323" stroke="#111" stroke-width="0.60" stroke-linejoin="round"/>
<circle r="1" transform="matrix(7.62 -2.98 -5.85 -4.34 1344.1 941.2)" fill="#6a6a6a" stroke="#2a2a2a" stroke-width="0.6" vector-effect="non-scaling-stroke"/>
<polygon points="1307.8,957.0 1308.0,951.3 1308.4,949.6 1309.7,948.2 1311.8,947.0 1314.6,946.2 1317.6,946.0 1320.7,946.3 1323.5,947.1 1325.8,948.4 1327.2,949.9 1327.8,951.6 1327.6,957.2 1327.2,958.9 1325.9,960.4 1323.7,961.6 1321.0,962.4 1317.9,962.6 1314.8,962.3 1312.0,961.4 1309.8,960.2 1308.3,958.7" fill="#232323" stroke="#111" stroke-width="0.60" stroke-linejoin="round"/>
<circle r="1" transform="matrix(7.66 -3.00 -5.85 -4.36 1317.9 951.5)" fill="#6a6a6a" stroke="#2a2a2a" stroke-width="0.6" vector-effect="non-scaling-stroke"/>
<polygon points="1354.2,961.7 1354.4,956.0 1354.8,954.4 1356.1,952.9 1358.2,951.7 1361.0,950.9 1364.0,950.7 1367.1,951.0 1369.9,951.8 1372.2,953.1 1373.6,954.6 1374.2,956.3 1374.0,962.0 1373.6,963.6 1372.3,965.1 1370.2,966.3 1367.4,967.0 1364.4,967.3 1361.3,967.0 1358.5,966.1 1356.2,964.9 1354.7,963.4" fill="#232323" stroke="#111" stroke-width="0.60" stroke-linejoin="round"/>
<circle r="1" transform="matrix(7.62 -3.00 -5.89 -4.37 1364.3 956.2)" fill="#6a6a6a" stroke="#2a2a2a" stroke-width="0.6" vector-effect="non-scaling-stroke"/>
<polygon points="1327.9,972.0 1328.1,966.4 1328.5,964.7 1329.8,963.2 1332.0,962.0 1334.7,961.2 1337.8,961.0 1340.8,961.3 1343.7,962.1 1345.9,963.4 1347.4,964.9 1348.0,966.6 1347.8,972.3 1347.4,974.0 1346.0,975.5 1343.9,976.7 1341.2,977.4 1338.1,977.6 1335.0,977.3 1332.2,976.5 1329.9,975.3 1328.5,973.7" fill="#232323" stroke="#111" stroke-width="0.60" stroke-linejoin="round"/>
<circle r="1" transform="matrix(7.66 -3.01 -5.88 -4.38 1338.0 966.5)" fill="#6a6a6a" stroke="#2a2a2a" stroke-width="0.6" vector-effect="non-scaling-stroke"/>
<polygon points="1355.1,1000.1 1511.2,938.1 1490.8,923.3 1334.8,984.9" fill="#bcbcbc" stroke="#222222" stroke-width="1.00" stroke-linejoin="round"/>
<polygon points="1353.8,1034.0 1509.7,971.6 1511.2,938.1 1355.1,1000.1" fill="#bfbfbf" stroke="#222222" stroke-width="1.00" stroke-linejoin="round"/>
<polygon points="1353.8,1034.0 1333.6,1018.7 1334.8,984.9 1355.1,1000.1" fill="#aeaeae" stroke="#222222" stroke-width="1.00" stroke-linejoin="round"/>
<circle r="1" transform="matrix(9.62 -3.83 0.46 -11.23 1433.2 982.9)" fill="#696969"/>
<circle r="1" transform="matrix(8.46 -3.37 0.40 -9.84 1430.9 981.3)" fill="#bfbfbf" stroke="#3a3a3a" stroke-width="0.9" vector-effect="non-scaling-stroke"/>
<circle r="1" transform="matrix(9.62 -3.83 0.46 -11.23 1433.2 982.9)" fill="none" stroke="#262626" stroke-width="1.6" vector-effect="non-scaling-stroke"/>
<circle r="1" transform="matrix(9.57 -3.81 0.47 -11.21 1459.1 972.6)" fill="#696969"/>
<circle r="1" transform="matrix(8.42 -3.35 0.41 -9.83 1456.8 970.9)" fill="#bfbfbf" stroke="#3a3a3a" stroke-width="0.9" vector-effect="non-scaling-stroke"/>
<circle r="1" transform="matrix(9.57 -3.81 0.47 -11.21 1459.1 972.6)" fill="none" stroke="#262626" stroke-width="1.6" vector-effect="non-scaling-stroke"/>
<circle r="1" transform="matrix(9.53 -3.80 0.49 -11.19 1484.9 962.3)" fill="#696969"/>
<circle r="1" transform="matrix(8.38 -3.34 0.43 -9.81 1482.7 960.7)" fill="#bfbfbf" stroke="#3a3a3a" stroke-width="0.9" vector-effect="non-scaling-stroke"/>
<circle r="1" transform="matrix(9.53 -3.80 0.49 -11.19 1484.9 962.3)" fill="none" stroke="#262626" stroke-width="1.6" vector-effect="non-scaling-stroke"/>
<circle r="1" transform="matrix(8.67 -3.45 0.35 -9.31 1380.9 1003.7)" fill="#9a9b9d" stroke="#222" stroke-width="1.0" vector-effect="non-scaling-stroke"/>
<circle r="1" transform="matrix(5.25 -2.09 0.21 -5.64 1381.3 1004.0)" fill="#7a7b7d" stroke="#333" stroke-width="0.8" vector-effect="non-scaling-stroke"/>
<path d="M1377.2,1005.2L1384.6,1002.3M1380.7,1007.7L1381.0,999.8" stroke="#222" stroke-width="1.3"/>
<circle r="1" transform="matrix(9.67 -3.85 0.44 -11.25 1407.1 993.3)" fill="#696969"/>
<circle r="1" transform="matrix(8.51 -3.39 0.38 -9.86 1404.8 991.6)" fill="#bfbfbf" stroke="#3a3a3a" stroke-width="0.9" vector-effect="non-scaling-stroke"/>
<circle r="1" transform="matrix(9.67 -3.85 0.44 -11.25 1407.1 993.3)" fill="none" stroke="#262626" stroke-width="1.6" vector-effect="non-scaling-stroke"/>
<polygon points="1399.8,996.2 1400.2,993.6 1401.3,991.0 1403.0,988.6 1405.1,986.7 1407.4,985.4 1409.6,984.9 1411.6,985.2 1413.2,986.3 1426.4,996.1 1427.4,997.9 1427.6,1000.2 1427.2,1002.8 1426.0,1005.4 1424.3,1007.8 1422.3,1009.7 1420.0,1011.0 1417.7,1011.5 1415.7,1011.2 1414.2,1010.1 1401.0,1000.3 1400.0,998.5" fill="#333333" stroke="#c8c8c8" stroke-width="0.90" stroke-linejoin="round"/>
<polygon points="1412.1,1006.0 1412.6,1003.2 1413.8,1000.4 1415.6,997.8 1417.8,995.8 1420.3,994.4 1422.7,993.8 1424.8,994.2 1426.5,995.3 1432.0,999.4 1433.0,1001.3 1433.3,1003.8 1432.8,1006.6 1431.6,1009.4 1429.8,1011.9 1427.5,1014.0 1425.1,1015.4 1422.7,1016.0 1420.6,1015.6 1418.9,1014.5 1413.4,1010.4 1412.4,1008.4" fill="#3a3a3a" stroke="#d4d4d4" stroke-width="1.00" stroke-linejoin="round"/>
<circle r="1" transform="matrix(7.85 -3.14 0.34 -8.46 1425.5 1006.9)" fill="#6a6a6a" stroke="#dcdcdc" stroke-width="1.0" vector-effect="non-scaling-stroke"/>
<circle r="1" transform="matrix(3.92 -1.57 0.17 -4.23 1425.5 1006.9)" fill="#262626" stroke="#999" stroke-width="0.6" vector-effect="non-scaling-stroke"/>
<polygon points="1478.3,935.6 1478.6,930.0 1478.9,928.3 1480.2,926.9 1482.3,925.7 1485.0,925.0 1488.0,924.8 1491.1,925.1 1493.9,925.9 1496.1,927.1 1497.7,928.6 1498.3,930.3 1498.0,935.9 1497.7,937.5 1496.4,939.0 1494.3,940.2 1491.6,940.9 1488.6,941.1 1485.5,940.8 1482.7,940.0 1480.5,938.8 1479.0,937.3" fill="#141414" stroke="#111" stroke-width="0.60" stroke-linejoin="round"/>
<circle r="1" transform="matrix(7.71 -3.05 -6.12 -4.45 1488.4 930.1)" fill="#262626" stroke="#5a5a5a" stroke-width="0.9" vector-effect="non-scaling-stroke"/>
<circle r="1" transform="matrix(4.63 -1.83 -3.67 -2.67 1488.4 930.1)" fill="#0c0c0c" stroke="#333" stroke-width="0.5" vector-effect="non-scaling-stroke"/>
<polygon points="1452.5,945.8 1452.8,940.2 1453.2,938.5 1454.5,937.0 1456.5,935.9 1459.2,935.1 1462.3,934.9 1465.3,935.2 1468.1,936.0 1470.4,937.3 1471.9,938.8 1472.5,940.5 1472.3,946.1 1471.9,947.8 1470.6,949.2 1468.5,950.4 1465.8,951.1 1462.8,951.4 1459.7,951.1 1456.9,950.2 1454.7,949.0 1453.2,947.5" fill="#141414" stroke="#111" stroke-width="0.60" stroke-linejoin="round"/>
<circle r="1" transform="matrix(7.75 -3.07 -6.12 -4.47 1462.7 940.3)" fill="#262626" stroke="#5a5a5a" stroke-width="0.9" vector-effect="non-scaling-stroke"/>
<circle r="1" transform="matrix(4.65 -1.84 -3.67 -2.68 1462.7 940.3)" fill="#0c0c0c" stroke="#333" stroke-width="0.5" vector-effect="non-scaling-stroke"/>
<polygon points="1426.6,956.0 1426.9,950.4 1427.2,948.8 1428.5,947.3 1430.7,946.1 1433.3,945.4 1436.4,945.1 1439.5,945.5 1442.3,946.3 1444.5,947.5 1446.0,949.0 1446.7,950.7 1446.4,956.3 1446.0,958.0 1444.8,959.5 1442.6,960.7 1439.9,961.4 1436.9,961.6 1433.8,961.3 1431.0,960.5 1428.7,959.3 1427.2,957.7" fill="#141414" stroke="#111" stroke-width="0.60" stroke-linejoin="round"/>
<circle r="1" transform="matrix(7.79 -3.08 -6.11 -4.49 1436.8 950.6)" fill="#262626" stroke="#5a5a5a" stroke-width="0.9" vector-effect="non-scaling-stroke"/>
<circle r="1" transform="matrix(4.67 -1.85 -3.67 -2.69 1436.8 950.6)" fill="#0c0c0c" stroke="#333" stroke-width="0.5" vector-effect="non-scaling-stroke"/>
<polygon points="1400.6,966.4 1400.8,960.7 1401.2,959.0 1402.5,957.5 1404.6,956.4 1407.3,955.6 1410.4,955.4 1413.5,955.7 1416.3,956.5 1418.5,957.8 1420.1,959.3 1420.7,961.0 1420.4,966.6 1420.0,968.3 1418.7,969.8 1416.6,971.0 1413.9,971.8 1410.8,972.0 1407.8,971.7 1405.0,970.8 1402.7,969.6 1401.2,968.1" fill="#141414" stroke="#111" stroke-width="0.60" stroke-linejoin="round"/>
<circle r="1" transform="matrix(7.83 -3.10 -6.11 -4.50 1410.7 960.9)" fill="#262626" stroke="#5a5a5a" stroke-width="0.9" vector-effect="non-scaling-stroke"/>
<circle r="1" transform="matrix(4.70 -1.86 -3.66 -2.70 1410.7 960.9)" fill="#0c0c0c" stroke="#333" stroke-width="0.5" vector-effect="non-scaling-stroke"/>
<polygon points="1374.4,976.7 1374.6,971.1 1375.0,969.4 1376.3,967.9 1378.5,966.7 1381.2,966.0 1384.3,965.7 1387.3,966.0 1390.2,966.9 1392.4,968.1 1393.9,969.6 1394.5,971.4 1394.3,977.0 1393.9,978.7 1392.6,980.2 1390.5,981.4 1387.7,982.1 1384.7,982.4 1381.6,982.0 1378.8,981.2 1376.5,980.0 1375.0,978.4" fill="#141414" stroke="#111" stroke-width="0.60" stroke-linejoin="round"/>
<circle r="1" transform="matrix(7.87 -3.11 -6.10 -4.52 1384.6 971.2)" fill="#262626" stroke="#5a5a5a" stroke-width="0.9" vector-effect="non-scaling-stroke"/>
<circle r="1" transform="matrix(4.72 -1.87 -3.66 -2.71 1384.6 971.2)" fill="#0c0c0c" stroke="#333" stroke-width="0.5" vector-effect="non-scaling-stroke"/>
<polygon points="1348.1,987.1 1348.3,981.5 1348.7,979.8 1350.0,978.2 1352.2,977.1 1354.9,976.3 1358.0,976.1 1361.1,976.4 1363.9,977.2 1366.2,978.5 1367.7,980.0 1368.3,981.8 1368.1,987.4 1367.7,989.1 1366.3,990.6 1364.2,991.8 1361.4,992.6 1358.4,992.8 1355.3,992.5 1352.5,991.6 1350.2,990.4 1348.7,988.8" fill="#141414" stroke="#111" stroke-width="0.60" stroke-linejoin="round"/>
<circle r="1" transform="matrix(7.91 -3.13 -6.09 -4.54 1358.3 981.6)" fill="#262626" stroke="#5a5a5a" stroke-width="0.9" vector-effect="non-scaling-stroke"/>
<circle r="1" transform="matrix(4.74 -1.88 -3.66 -2.73 1358.3 981.6)" fill="#0c0c0c" stroke="#333" stroke-width="0.5" vector-effect="non-scaling-stroke"/>
<polygon points="861.3,618.0 1025.7,551.6 1006.7,536.0 842.5,602.0" fill="#bcbcbc" stroke="#222222" stroke-width="1.00" stroke-linejoin="round"/>
<polygon points="861.3,651.2 1025.4,584.5 1025.7,551.6 861.3,618.0" fill="#bfbfbf" stroke="#222222" stroke-width="1.00" stroke-linejoin="round"/>
<polygon points="861.3,651.2 842.6,635.2 842.5,602.0 861.3,618.0" fill="#aeaeae" stroke="#222222" stroke-width="1.00" stroke-linejoin="round"/>
<circle r="1" transform="matrix(10.23 -4.14 0.01 -11.05 889.0 620.6)" fill="#696969"/>
<circle r="1" transform="matrix(9.00 -3.64 0.01 -9.69 886.9 618.9)" fill="#bfbfbf" stroke="#3a3a3a" stroke-width="0.9" vector-effect="non-scaling-stroke"/>
<circle r="1" transform="matrix(10.23 -4.14 0.01 -11.05 889.0 620.6)" fill="none" stroke="#262626" stroke-width="1.6" vector-effect="non-scaling-stroke"/>
<circle r="1" transform="matrix(10.18 -4.12 0.03 -11.03 916.6 609.5)" fill="#696969"/>
<circle r="1" transform="matrix(8.95 -3.62 0.03 -9.67 914.5 607.7)" fill="#bfbfbf" stroke="#3a3a3a" stroke-width="0.9" vector-effect="non-scaling-stroke"/>
<circle r="1" transform="matrix(10.18 -4.12 0.03 -11.03 916.6 609.5)" fill="none" stroke="#262626" stroke-width="1.6" vector-effect="non-scaling-stroke"/>
<circle r="1" transform="matrix(10.13 -4.10 0.05 -11.01 944.0 598.3)" fill="#696969"/>
<circle r="1" transform="matrix(8.91 -3.61 0.04 -9.65 941.9 596.6)" fill="#bfbfbf" stroke="#3a3a3a" stroke-width="0.9" vector-effect="non-scaling-stroke"/>
<circle r="1" transform="matrix(10.13 -4.10 0.05 -11.01 944.0 598.3)" fill="none" stroke="#262626" stroke-width="1.6" vector-effect="non-scaling-stroke"/>
<circle r="1" transform="matrix(10.08 -4.08 0.07 -11.00 971.3 587.3)" fill="#696969"/>
<circle r="1" transform="matrix(8.87 -3.59 0.06 -9.64 969.3 585.6)" fill="#bfbfbf" stroke="#3a3a3a" stroke-width="0.9" vector-effect="non-scaling-stroke"/>
<circle r="1" transform="matrix(10.08 -4.08 0.07 -11.00 971.3 587.3)" fill="none" stroke="#262626" stroke-width="1.6" vector-effect="non-scaling-stroke"/>
<circle r="1" transform="matrix(10.03 -4.06 0.09 -10.98 998.5 576.3)" fill="#696969"/>
<circle r="1" transform="matrix(8.82 -3.57 0.08 -9.62 996.4 574.6)" fill="#bfbfbf" stroke="#3a3a3a" stroke-width="0.9" vector-effect="non-scaling-stroke"/>
<circle r="1" transform="matrix(10.03 -4.06 0.09 -10.98 998.5 576.3)" fill="none" stroke="#262626" stroke-width="1.6" vector-effect="non-scaling-stroke"/>
<polygon points="992.8,549.1 992.8,543.6 993.4,541.9 994.8,540.3 997.0,539.1 999.8,538.3 1002.9,538.1 1006.0,538.4 1008.7,539.2 1010.9,540.5 1012.2,542.1 1012.6,543.9 1012.6,549.4 1012.1,551.1 1010.6,552.7 1008.4,553.9 1005.6,554.7 1002.5,555.0 999.5,554.7 996.7,553.8 994.6,552.5 993.2,550.9" fill="#141414" stroke="#111" stroke-width="0.60" stroke-linejoin="round"/>
<circle r="1" transform="matrix(8.12 -3.27 -5.69 -4.68 1002.7 543.8)" fill="#262626" stroke="#5a5a5a" stroke-width="0.9" vector-effect="non-scaling-stroke"/>
<circle r="1" transform="matrix(4.87 -1.96 -3.41 -2.81 1002.7 543.8)" fill="#0c0c0c" stroke="#333" stroke-width="0.5" vector-effect="non-scaling-stroke"/>
<polygon points="965.6,560.1 965.7,554.6 966.2,552.8 967.7,551.2 969.9,550.0 972.7,549.2 975.8,549.0 978.9,549.3 981.6,550.1 983.8,551.4 985.1,553.0 985.5,554.8 985.5,560.3 985.0,562.0 983.5,563.6 981.2,564.9 978.5,565.7 975.4,565.9 972.3,565.6 969.6,564.8 967.4,563.5 966.0,561.9" fill="#141414" stroke="#111" stroke-width="0.60" stroke-linejoin="round"/>
<circle r="1" transform="matrix(8.16 -3.28 -5.68 -4.70 975.6 554.7)" fill="#262626" stroke="#5a5a5a" stroke-width="0.9" vector-effect="non-scaling-stroke"/>
<circle r="1" transform="matrix(4.90 -1.97 -3.41 -2.82 975.6 554.7)" fill="#0c0c0c" stroke="#333" stroke-width="0.5" vector-effect="non-scaling-stroke"/>
<polygon points="938.4,571.0 938.4,565.5 938.9,563.8 940.4,562.2 942.7,560.9 945.5,560.1 948.6,559.9 951.6,560.2 954.4,561.0 956.5,562.3 957.9,564.0 958.3,565.7 958.3,571.3 957.7,573.0 956.2,574.6 954.0,575.9 951.2,576.7 948.1,576.9 945.0,576.6 942.3,575.8 940.1,574.5 938.8,572.8" fill="#141414" stroke="#111" stroke-width="0.60" stroke-linejoin="round"/>
<circle r="1" transform="matrix(8.20 -3.30 -5.67 -4.72 948.3 565.6)" fill="#262626" stroke="#5a5a5a" stroke-width="0.9" vector-effect="non-scaling-stroke"/>
<circle r="1" transform="matrix(4.92 -1.98 -3.40 -2.83 948.3 565.6)" fill="#0c0c0c" stroke="#333" stroke-width="0.5" vector-effect="non-scaling-stroke"/>
<polygon points="910.9,582.1 911.0,576.5 911.5,574.8 913.0,573.2 915.3,571.9 918.1,571.1 921.2,570.9 924.3,571.2 927.0,572.0 929.2,573.3 930.5,575.0 930.9,576.8 930.9,582.3 930.4,584.1 928.9,585.7 926.6,586.9 923.8,587.7 920.7,588.0 917.6,587.6 914.8,586.8 912.7,585.5 911.3,583.9" fill="#141414" stroke="#111" stroke-width="0.60" stroke-linejoin="round"/>
<circle r="1" transform="matrix(8.24 -3.31 -5.66 -4.74 920.9 576.7)" fill="#262626" stroke="#5a5a5a" stroke-width="0.9" vector-effect="non-scaling-stroke"/>
<circle r="1" transform="matrix(4.94 -1.99 -3.40 -2.84 920.9 576.7)" fill="#0c0c0c" stroke="#333" stroke-width="0.5" vector-effect="non-scaling-stroke"/>
<polygon points="883.4,587.6 884.0,585.8 885.5,584.2 887.8,583.0 890.6,582.2 893.7,581.9 896.8,582.2 899.5,583.1 901.7,584.4 903.0,586.0 903.4,587.8 903.4,593.4 902.9,595.1 901.4,596.8 899.1,598.0 896.2,598.8 893.1,599.1 890.0,598.8 887.3,597.9 885.1,596.6 883.8,595.0 883.4,593.2" fill="#141414" stroke="#111" stroke-width="0.60" stroke-linejoin="round"/>
<circle r="1" transform="matrix(8.28 -3.33 -5.65 -4.76 893.4 587.7)" fill="#262626" stroke="#5a5a5a" stroke-width="0.9" vector-effect="non-scaling-stroke"/>
<circle r="1" transform="matrix(4.97 -2.00 -3.39 -2.86 893.4 587.7)" fill="#0c0c0c" stroke="#333" stroke-width="0.5" vector-effect="non-scaling-stroke"/>
<polygon points="855.7,598.8 856.3,597.0 857.8,595.3 860.1,594.1 863.0,593.3 866.1,593.0 869.2,593.3 871.9,594.2 874.1,595.5 875.4,597.1 875.8,599.0 875.8,604.5 875.2,606.3 873.7,607.9 871.4,609.2 868.5,610.0 865.4,610.2 862.3,609.9 859.6,609.1 857.4,607.8 856.1,606.1 855.7,604.3" fill="#141414" stroke="#111" stroke-width="0.60" stroke-linejoin="round"/>
<circle r="1" transform="matrix(8.32 -3.35 -5.65 -4.78 865.7 598.9)" fill="#262626" stroke="#5a5a5a" stroke-width="0.9" vector-effect="non-scaling-stroke"/>
<circle r="1" transform="matrix(4.99 -2.01 -3.39 -2.87 865.7 598.9)" fill="#0c0c0c" stroke="#333" stroke-width="0.5" vector-effect="non-scaling-stroke"/>
<polygon points="937.5,682.8 993.1,659.8 916.6,595.6 861.3,618.0" fill="#6b6b6b" stroke="#222222" stroke-width="1.00" stroke-linejoin="round"/>
<polygon points="937.4,716.2 992.8,693.2 993.1,659.8 937.5,682.8" fill="#676767" stroke="#222222" stroke-width="1.00" stroke-linejoin="round"/>
<polygon points="937.4,716.2 861.3,651.2 861.3,618.0 937.5,682.8" fill="#626262" stroke="#222222" stroke-width="1.00" stroke-linejoin="round"/>
<polygon points="902.2,609.1 902.3,603.5 902.8,601.7 904.4,600.1 906.6,598.9 909.5,598.0 912.6,597.8 915.7,598.1 918.4,599.0 920.6,600.3 922.0,601.9 922.4,603.7 922.3,609.3 921.8,611.1 920.3,612.7 918.0,614.0 915.1,614.8 912.0,615.0 908.9,614.7 906.2,613.9 904.0,612.5 902.7,610.9" fill="#232323" stroke="#111" stroke-width="0.60" stroke-linejoin="round"/>
<circle r="1" transform="matrix(8.04 -3.25 -5.51 -4.64 912.3 603.6)" fill="#6a6a6a" stroke="#2a2a2a" stroke-width="0.6" vector-effect="non-scaling-stroke"/>
<polygon points="874.5,614.7 875.1,612.9 876.6,611.3 879.0,610.0 881.8,609.2 884.9,609.0 888.0,609.3 890.8,610.1 892.9,611.5 894.3,613.1 894.7,614.9 894.7,620.5 894.1,622.3 892.6,623.9 890.3,625.2 887.4,626.0 884.3,626.3 881.2,625.9 878.4,625.1 876.3,623.8 874.9,622.1 874.5,620.3" fill="#232323" stroke="#111" stroke-width="0.60" stroke-linejoin="round"/>
<circle r="1" transform="matrix(8.08 -3.27 -5.51 -4.66 884.6 614.8)" fill="#6a6a6a" stroke="#2a2a2a" stroke-width="0.6" vector-effect="non-scaling-stroke"/>
<polygon points="921.2,625.1 921.2,619.5 921.8,617.7 923.3,616.1 925.6,614.8 928.4,614.0 931.6,613.8 934.7,614.1 937.4,614.9 939.6,616.2 941.0,617.9 941.4,619.7 941.4,625.3 940.8,627.1 939.3,628.7 937.0,630.0 934.2,630.8 931.0,631.1 927.9,630.7 925.2,629.9 923.0,628.5 921.6,626.9" fill="#232323" stroke="#111" stroke-width="0.60" stroke-linejoin="round"/>
<circle r="1" transform="matrix(8.05 -3.27 -5.54 -4.67 931.3 619.6)" fill="#6a6a6a" stroke="#2a2a2a" stroke-width="0.6" vector-effect="non-scaling-stroke"/>
<polygon points="893.5,636.4 893.5,630.8 894.1,629.0 895.6,627.3 897.9,626.1 900.7,625.2 903.9,625.0 907.0,625.3 909.8,626.2 911.9,627.5 913.3,629.2 913.7,631.0 913.7,636.5 913.1,638.4 911.6,640.0 909.3,641.3 906.4,642.1 903.3,642.4 900.2,642.0 897.4,641.2 895.2,639.9 893.9,638.2" fill="#232323" stroke="#111" stroke-width="0.60" stroke-linejoin="round"/>
<circle r="1" transform="matrix(8.09 -3.29 -5.54 -4.69 903.6 630.9)" fill="#6a6a6a" stroke="#2a2a2a" stroke-width="0.6" vector-effect="non-scaling-stroke"/>
<polygon points="940.3,641.2 940.3,635.6 940.9,633.8 942.4,632.1 944.7,630.9 947.5,630.1 950.6,629.8 953.8,630.1 956.5,631.0 958.7,632.3 960.1,634.0 960.5,635.8 960.5,641.4 959.9,643.2 958.4,644.8 956.1,646.1 953.3,646.9 950.1,647.2 947.0,646.9 944.3,646.0 942.1,644.7 940.7,643.0" fill="#232323" stroke="#111" stroke-width="0.60" stroke-linejoin="round"/>
<circle r="1" transform="matrix(8.05 -3.29 -5.57 -4.69 950.4 635.7)" fill="#6a6a6a" stroke="#2a2a2a" stroke-width="0.6" vector-effect="non-scaling-stroke"/>
<polygon points="912.5,652.5 912.5,646.9 913.1,645.1 914.6,643.5 916.9,642.2 919.8,641.4 922.9,641.1 926.0,641.4 928.8,642.3 931.0,643.6 932.4,645.3 932.8,647.1 932.8,652.7 932.2,654.5 930.7,656.2 928.4,657.5 925.5,658.3 922.4,658.5 919.3,658.2 916.5,657.4 914.3,656.0 912.9,654.4" fill="#232323" stroke="#111" stroke-width="0.60" stroke-linejoin="round"/>
<circle r="1" transform="matrix(8.10 -3.31 -5.57 -4.71 922.7 647.0)" fill="#6a6a6a" stroke="#2a2a2a" stroke-width="0.6" vector-effect="non-scaling-stroke"/>
<polygon points="959.5,657.3 959.5,651.8 960.1,649.9 961.6,648.3 963.8,647.0 966.7,646.2 969.8,645.9 972.9,646.2 975.7,647.1 977.9,648.5 979.3,650.1 979.7,652.0 979.7,657.5 979.1,659.4 977.6,661.0 975.4,662.3 972.5,663.1 969.4,663.4 966.2,663.1 963.5,662.2 961.3,660.9 959.9,659.2" fill="#232323" stroke="#111" stroke-width="0.60" stroke-linejoin="round"/>
<circle r="1" transform="matrix(8.06 -3.31 -5.60 -4.72 969.6 651.9)" fill="#6a6a6a" stroke="#2a2a2a" stroke-width="0.6" vector-effect="non-scaling-stroke"/>
<polygon points="931.7,668.8 931.7,663.2 932.3,661.3 933.8,659.7 936.1,658.4 938.9,657.6 942.1,657.3 945.2,657.6 948.0,658.5 950.2,659.8 951.6,661.5 952.0,663.4 952.0,668.9 951.4,670.8 949.9,672.4 947.6,673.7 944.7,674.6 941.6,674.8 938.4,674.5 935.6,673.6 933.5,672.3 932.1,670.6" fill="#232323" stroke="#111" stroke-width="0.60" stroke-linejoin="round"/>
<circle r="1" transform="matrix(8.10 -3.33 -5.60 -4.74 941.8 663.3)" fill="#6a6a6a" stroke="#2a2a2a" stroke-width="0.6" vector-effect="non-scaling-stroke"/>
<polygon points="956.8,699.2 1122.0,630.7 1102.5,614.7 937.5,682.8" fill="#bcbcbc" stroke="#222222" stroke-width="1.00" stroke-linejoin="round"/>
<polygon points="956.6,732.7 1121.4,663.9 1122.0,630.7 956.8,699.2" fill="#bfbfbf" stroke="#222222" stroke-width="1.00" stroke-linejoin="round"/>
<polygon points="956.6,732.7 937.4,716.2 937.5,682.8 956.8,699.2" fill="#aeaeae" stroke="#222222" stroke-width="1.00" stroke-linejoin="round"/>
<circle r="1" transform="matrix(10.23 -4.25 0.10 -11.12 1012.3 690.0)" fill="#696969"/>
<circle r="1" transform="matrix(9.00 -3.74 0.09 -9.75 1010.2 688.2)" fill="#bfbfbf" stroke="#3a3a3a" stroke-width="0.9" vector-effect="non-scaling-stroke"/>
<circle r="1" transform="matrix(10.23 -4.25 0.10 -11.12 1012.3 690.0)" fill="none" stroke="#262626" stroke-width="1.6" vector-effect="non-scaling-stroke"/>
<circle r="1" transform="matrix(10.18 -4.23 0.12 -11.10 1039.9 678.6)" fill="#696969"/>
<circle r="1" transform="matrix(8.95 -3.72 0.11 -9.73 1037.7 676.8)" fill="#bfbfbf" stroke="#3a3a3a" stroke-width="0.9" vector-effect="non-scaling-stroke"/>
<circle r="1" transform="matrix(10.18 -4.23 0.12 -11.10 1039.9 678.6)" fill="none" stroke="#262626" stroke-width="1.6" vector-effect="non-scaling-stroke"/>
<circle r="1" transform="matrix(10.12 -4.21 0.14 -11.08 1067.3 667.2)" fill="#696969"/>
<circle r="1" transform="matrix(8.91 -3.70 0.12 -9.71 1065.2 665.4)" fill="#bfbfbf" stroke="#3a3a3a" stroke-width="0.9" vector-effect="non-scaling-stroke"/>
<circle r="1" transform="matrix(10.12 -4.21 0.14 -11.08 1067.3 667.2)" fill="none" stroke="#262626" stroke-width="1.6" vector-effect="non-scaling-stroke"/>
<circle r="1" transform="matrix(10.07 -4.19 0.16 -11.06 1094.6 655.8)" fill="#696969"/>
<circle r="1" transform="matrix(8.86 -3.68 0.14 -9.70 1092.4 654.0)" fill="#bfbfbf" stroke="#3a3a3a" stroke-width="0.9" vector-effect="non-scaling-stroke"/>
<circle r="1" transform="matrix(10.07 -4.19 0.16 -11.06 1094.6 655.8)" fill="none" stroke="#262626" stroke-width="1.6" vector-effect="non-scaling-stroke"/>
<circle r="1" transform="matrix(9.17 -3.81 0.07 -9.20 984.6 701.6)" fill="#9a9b9d" stroke="#222" stroke-width="1.0" vector-effect="non-scaling-stroke"/>
<circle r="1" transform="matrix(5.56 -2.31 0.04 -5.58 985.0 701.9)" fill="#7a7b7d" stroke="#333" stroke-width="0.8" vector-effect="non-scaling-stroke"/>
<path d="M980.7,703.2L988.5,699.9M984.6,705.5L984.6,697.7" stroke="#222" stroke-width="1.3"/>
<polygon points="1088.6,628.2 1088.7,622.7 1089.2,620.9 1090.7,619.2 1092.9,618.0 1095.7,617.2 1098.8,616.9 1101.9,617.2 1104.7,618.1 1106.9,619.4 1108.3,621.0 1108.8,622.9 1108.7,628.4 1108.2,630.2 1106.7,631.8 1104.5,633.1 1101.7,633.9 1098.6,634.2 1095.5,633.9 1092.7,633.0 1090.5,631.7 1089.1,630.0" fill="#141414" stroke="#111" stroke-width="0.60" stroke-linejoin="round"/>
<circle r="1" transform="matrix(8.16 -3.37 -5.84 -4.80 1098.7 622.8)" fill="#262626" stroke="#5a5a5a" stroke-width="0.9" vector-effect="non-scaling-stroke"/>
<circle r="1" transform="matrix(4.89 -2.02 -3.50 -2.88 1098.7 622.8)" fill="#0c0c0c" stroke="#333" stroke-width="0.5" vector-effect="non-scaling-stroke"/>
<polygon points="1061.4,639.5 1061.4,633.9 1062.0,632.1 1063.4,630.5 1065.7,629.2 1068.5,628.4 1071.6,628.1 1074.7,628.5 1077.5,629.3 1079.7,630.6 1081.1,632.3 1081.5,634.1 1081.5,639.7 1081.0,641.5 1079.5,643.1 1077.2,644.4 1074.4,645.2 1071.3,645.5 1068.2,645.1 1065.4,644.3 1063.2,643.0 1061.8,641.3" fill="#141414" stroke="#111" stroke-width="0.60" stroke-linejoin="round"/>
<circle r="1" transform="matrix(8.20 -3.38 -5.83 -4.82 1071.5 634.0)" fill="#262626" stroke="#5a5a5a" stroke-width="0.9" vector-effect="non-scaling-stroke"/>
<circle r="1" transform="matrix(4.92 -2.03 -3.50 -2.89 1071.5 634.0)" fill="#0c0c0c" stroke="#333" stroke-width="0.5" vector-effect="non-scaling-stroke"/>
<polygon points="1034.0,650.8 1034.0,645.2 1034.6,643.4 1036.0,641.8 1038.3,640.5 1041.1,639.7 1044.2,639.4 1047.3,639.7 1050.1,640.6 1052.3,641.9 1053.7,643.6 1054.2,645.4 1054.1,651.0 1053.6,652.8 1052.1,654.5 1049.9,655.7 1047.0,656.5 1043.9,656.8 1040.8,656.5 1038.0,655.6 1035.8,654.3 1034.4,652.6" fill="#141414" stroke="#111" stroke-width="0.60" stroke-linejoin="round"/>
<circle r="1" transform="matrix(8.24 -3.40 -5.82 -4.85 1044.1 645.3)" fill="#262626" stroke="#5a5a5a" stroke-width="0.9" vector-effect="non-scaling-stroke"/>
<circle r="1" transform="matrix(4.94 -2.04 -3.49 -2.91 1044.1 645.3)" fill="#0c0c0c" stroke="#333" stroke-width="0.5" vector-effect="non-scaling-stroke"/>
<polygon points="1006.4,662.2 1006.5,656.6 1007.0,654.8 1008.5,653.1 1010.8,651.8 1013.6,651.0 1016.7,650.8 1019.9,651.1 1022.6,651.9 1024.9,653.3 1026.2,654.9 1026.7,656.8 1026.6,662.4 1026.1,664.2 1024.6,665.8 1022.4,667.1 1019.5,668.0 1016.4,668.2 1013.2,667.9 1010.5,667.0 1008.2,665.7 1006.9,664.0" fill="#141414" stroke="#111" stroke-width="0.60" stroke-linejoin="round"/>
<circle r="1" transform="matrix(8.28 -3.42 -5.82 -4.87 1016.6 656.7)" fill="#262626" stroke="#5a5a5a" stroke-width="0.9" vector-effect="non-scaling-stroke"/>
<circle r="1" transform="matrix(4.97 -2.05 -3.49 -2.92 1016.6 656.7)" fill="#0c0c0c" stroke="#333" stroke-width="0.5" vector-effect="non-scaling-stroke"/>
<polygon points="978.7,673.6 978.8,668.0 979.3,666.2 980.8,664.5 983.1,663.2 986.0,662.4 989.1,662.1 992.2,662.5 995.0,663.3 997.2,664.7 998.6,666.4 999.1,668.2 999.0,673.8 998.5,675.6 997.0,677.3 994.7,678.6 991.8,679.4 988.7,679.7 985.6,679.4 982.8,678.5 980.6,677.1 979.2,675.5" fill="#141414" stroke="#111" stroke-width="0.60" stroke-linejoin="round"/>
<circle r="1" transform="matrix(8.32 -3.44 -5.81 -4.89 988.9 668.1)" fill="#262626" stroke="#5a5a5a" stroke-width="0.9" vector-effect="non-scaling-stroke"/>
<circle r="1" transform="matrix(4.99 -2.06 -3.48 -2.93 988.9 668.1)" fill="#0c0c0c" stroke="#333" stroke-width="0.5" vector-effect="non-scaling-stroke"/>
<polygon points="950.9,685.1 950.9,679.5 951.5,677.6 953.0,676.0 955.3,674.7 958.2,673.9 961.3,673.6 964.5,673.9 967.3,674.8 969.5,676.1 970.9,677.8 971.3,679.7 971.3,685.3 970.7,687.1 969.2,688.8 966.9,690.1 964.0,690.9 960.9,691.2 957.7,690.9 954.9,690.0 952.7,688.6 951.3,687.0" fill="#141414" stroke="#111" stroke-width="0.60" stroke-linejoin="round"/>
<circle r="1" transform="matrix(8.36 -3.45 -5.80 -4.91 961.1 679.6)" fill="#262626" stroke="#5a5a5a" stroke-width="0.9" vector-effect="non-scaling-stroke"/>
<circle r="1" transform="matrix(5.02 -2.07 -3.48 -2.95 961.1 679.6)" fill="#0c0c0c" stroke="#333" stroke-width="0.5" vector-effect="non-scaling-stroke"/>
<polygon points="1191.7,522.5 1192.1,519.8 1193.2,517.0 1195.0,514.5 1197.3,512.4 1199.8,511.0 1202.4,510.4 1204.7,510.7 1206.5,511.9 1249.1,547.1 1250.3,549.0 1250.7,551.4 1250.3,554.1 1249.1,556.9 1247.3,559.4 1245.0,561.5 1242.5,562.9 1239.9,563.5 1237.6,563.2 1235.8,562.1 1193.2,526.7 1192.1,524.9" fill="#1e1e1e" stroke="#cfcfcf" stroke-width="1.00" stroke-linejoin="round"/>
<circle r="1" transform="matrix(8.62 -3.36 -0.01 -8.69 1224.5 539.7)" fill="none" stroke="#d2d2d2" stroke-width="1.0" vector-effect="non-scaling-stroke"/>
<circle r="1" transform="matrix(8.62 -3.36 -0.01 -8.69 1221.1 536.9)" fill="none" stroke="#d2d2d2" stroke-width="1.0" vector-effect="non-scaling-stroke"/>
<circle r="1" transform="matrix(8.22 -3.22 0.00 -8.29 1242.5 554.6)" fill="#2a2a2a" stroke="#d6d6d6" stroke-width="1.1" vector-effect="non-scaling-stroke"/>
<circle r="1" transform="matrix(3.70 -1.45 0.00 -3.73 1242.5 554.6)" fill="#3a2a2a" stroke="#aaa" stroke-width="0.6" vector-effect="non-scaling-stroke"/>
<polygon points="1252.1,614.2 1416.4,548.9 1397.3,533.5 1233.2,598.4" fill="#bcbcbc" stroke="#222222" stroke-width="1.00" stroke-linejoin="round"/>
<polygon points="1252.1,647.7 1416.0,582.0 1416.4,548.9 1252.1,614.2" fill="#bfbfbf" stroke="#222222" stroke-width="1.00" stroke-linejoin="round"/>
<polygon points="1252.1,647.7 1233.3,631.8 1233.2,598.4 1252.1,614.2" fill="#aeaeae" stroke="#222222" stroke-width="1.00" stroke-linejoin="round"/>
<circle r="1" transform="matrix(10.22 -4.08 0.03 -11.12 1279.8 617.1)" fill="#696969"/>
<circle r="1" transform="matrix(8.99 -3.59 0.02 -9.75 1277.7 615.4)" fill="#bfbfbf" stroke="#3a3a3a" stroke-width="0.9" vector-effect="non-scaling-stroke"/>
<circle r="1" transform="matrix(10.22 -4.08 0.03 -11.12 1279.8 617.1)" fill="none" stroke="#262626" stroke-width="1.6" vector-effect="non-scaling-stroke"/>
<circle r="1" transform="matrix(10.17 -4.06 0.05 -11.10 1307.4 606.1)" fill="#696969"/>
<circle r="1" transform="matrix(8.94 -3.57 0.04 -9.73 1305.3 604.4)" fill="#bfbfbf" stroke="#3a3a3a" stroke-width="0.9" vector-effect="non-scaling-stroke"/>
<circle r="1" transform="matrix(10.17 -4.06 0.05 -11.10 1307.4 606.1)" fill="none" stroke="#262626" stroke-width="1.6" vector-effect="non-scaling-stroke"/>
<circle r="1" transform="matrix(10.12 -4.04 0.07 -11.08 1334.8 595.2)" fill="#696969"/>
<circle r="1" transform="matrix(8.90 -3.55 0.06 -9.71 1332.7 593.5)" fill="#bfbfbf" stroke="#3a3a3a" stroke-width="0.9" vector-effect="non-scaling-stroke"/>
<circle r="1" transform="matrix(10.12 -4.04 0.07 -11.08 1334.8 595.2)" fill="none" stroke="#262626" stroke-width="1.6" vector-effect="non-scaling-stroke"/>
<circle r="1" transform="matrix(10.07 -4.02 0.09 -11.06 1362.1 584.3)" fill="#696969"/>
<circle r="1" transform="matrix(8.86 -3.53 0.08 -9.70 1360.0 582.6)" fill="#bfbfbf" stroke="#3a3a3a" stroke-width="0.9" vector-effect="non-scaling-stroke"/>
<circle r="1" transform="matrix(10.07 -4.02 0.09 -11.06 1362.1 584.3)" fill="none" stroke="#262626" stroke-width="1.6" vector-effect="non-scaling-stroke"/>
<circle r="1" transform="matrix(10.02 -4.00 0.11 -11.05 1389.2 573.5)" fill="#696969"/>
<circle r="1" transform="matrix(8.81 -3.52 0.09 -9.68 1387.1 571.8)" fill="#bfbfbf" stroke="#3a3a3a" stroke-width="0.9" vector-effect="non-scaling-stroke"/>
<circle r="1" transform="matrix(10.02 -4.00 0.11 -11.05 1389.2 573.5)" fill="none" stroke="#262626" stroke-width="1.6" vector-effect="non-scaling-stroke"/>
<polygon points="1383.4,546.4 1383.5,540.9 1384.0,539.1 1385.5,537.6 1387.7,536.4 1390.5,535.6 1393.6,535.4 1396.6,535.7 1399.3,536.5 1401.5,537.8 1402.9,539.4 1403.3,541.1 1403.3,546.6 1402.7,548.4 1401.3,549.9 1399.1,551.2 1396.3,551.9 1393.2,552.2 1390.2,551.9 1387.4,551.0 1385.2,549.8 1383.9,548.2" fill="#141414" stroke="#111" stroke-width="0.60" stroke-linejoin="round"/>
<circle r="1" transform="matrix(8.11 -3.22 -5.71 -4.63 1393.4 541.0)" fill="#262626" stroke="#5a5a5a" stroke-width="0.9" vector-effect="non-scaling-stroke"/>
<circle r="1" transform="matrix(4.87 -1.93 -3.43 -2.78 1393.4 541.0)" fill="#0c0c0c" stroke="#333" stroke-width="0.5" vector-effect="non-scaling-stroke"/>
<polygon points="1356.3,557.2 1356.4,551.6 1356.9,549.9 1358.4,548.3 1360.6,547.1 1363.4,546.3 1366.5,546.1 1369.5,546.4 1372.3,547.2 1374.5,548.5 1375.8,550.1 1376.3,551.9 1376.2,557.4 1375.7,559.1 1374.2,560.7 1372.0,561.9 1369.2,562.7 1366.1,563.0 1363.0,562.6 1360.3,561.8 1358.1,560.5 1356.8,558.9" fill="#141414" stroke="#111" stroke-width="0.60" stroke-linejoin="round"/>
<circle r="1" transform="matrix(8.15 -3.23 -5.71 -4.65 1366.3 551.7)" fill="#262626" stroke="#5a5a5a" stroke-width="0.9" vector-effect="non-scaling-stroke"/>
<circle r="1" transform="matrix(4.89 -1.94 -3.42 -2.79 1366.3 551.7)" fill="#0c0c0c" stroke="#333" stroke-width="0.5" vector-effect="non-scaling-stroke"/>
<polygon points="1329.1,568.0 1329.1,562.4 1329.7,560.7 1331.1,559.1 1333.4,557.9 1336.2,557.1 1339.3,556.9 1342.3,557.2 1345.1,558.0 1347.3,559.3 1348.6,560.9 1349.0,562.6 1349.0,568.2 1348.5,570.0 1347.0,571.5 1344.7,572.8 1341.9,573.5 1338.8,573.8 1335.8,573.5 1333.0,572.6 1330.8,571.3 1329.5,569.7" fill="#141414" stroke="#111" stroke-width="0.60" stroke-linejoin="round"/>
<circle r="1" transform="matrix(8.19 -3.25 -5.70 -4.67 1339.1 562.5)" fill="#262626" stroke="#5a5a5a" stroke-width="0.9" vector-effect="non-scaling-stroke"/>
<circle r="1" transform="matrix(4.91 -1.95 -3.42 -2.80 1339.1 562.5)" fill="#0c0c0c" stroke="#333" stroke-width="0.5" vector-effect="non-scaling-stroke"/>
<polygon points="1301.7,578.8 1301.7,573.3 1302.3,571.5 1303.8,569.9 1306.0,568.7 1308.8,567.9 1311.9,567.7 1315.0,568.0 1317.8,568.8 1319.9,570.1 1321.3,571.7 1321.7,573.5 1321.7,579.1 1321.1,580.8 1319.6,582.4 1317.4,583.6 1314.5,584.4 1311.4,584.7 1308.4,584.4 1305.6,583.5 1303.4,582.2 1302.1,580.6" fill="#141414" stroke="#111" stroke-width="0.60" stroke-linejoin="round"/>
<circle r="1" transform="matrix(8.23 -3.26 -5.69 -4.69 1311.7 573.4)" fill="#262626" stroke="#5a5a5a" stroke-width="0.9" vector-effect="non-scaling-stroke"/>
<circle r="1" transform="matrix(4.94 -1.96 -3.41 -2.81 1311.7 573.4)" fill="#0c0c0c" stroke="#333" stroke-width="0.5" vector-effect="non-scaling-stroke"/>
<polygon points="1274.2,589.8 1274.2,584.2 1274.7,582.4 1276.2,580.8 1278.5,579.6 1281.3,578.8 1284.5,578.6 1287.5,578.9 1290.3,579.7 1292.5,581.0 1293.8,582.6 1294.2,584.4 1294.2,590.0 1293.6,591.7 1292.1,593.3 1289.9,594.6 1287.0,595.4 1283.9,595.6 1280.8,595.3 1278.1,594.4 1275.9,593.1 1274.6,591.5" fill="#141414" stroke="#111" stroke-width="0.60" stroke-linejoin="round"/>
<circle r="1" transform="matrix(8.27 -3.28 -5.68 -4.71 1284.2 584.3)" fill="#262626" stroke="#5a5a5a" stroke-width="0.9" vector-effect="non-scaling-stroke"/>
<circle r="1" transform="matrix(4.96 -1.97 -3.41 -2.82 1284.2 584.3)" fill="#0c0c0c" stroke="#333" stroke-width="0.5" vector-effect="non-scaling-stroke"/>
<polygon points="1246.5,595.1 1247.1,593.4 1248.6,591.8 1250.9,590.5 1253.7,589.7 1256.8,589.5 1259.9,589.8 1262.7,590.7 1264.9,592.0 1266.2,593.6 1266.6,595.4 1266.6,600.9 1266.0,602.7 1264.5,604.3 1262.2,605.6 1259.4,606.4 1256.2,606.6 1253.2,606.3 1250.4,605.4 1248.2,604.1 1246.9,602.5 1246.5,600.7" fill="#141414" stroke="#111" stroke-width="0.60" stroke-linejoin="round"/>
<circle r="1" transform="matrix(8.31 -3.30 -5.68 -4.73 1256.6 595.2)" fill="#262626" stroke="#5a5a5a" stroke-width="0.9" vector-effect="non-scaling-stroke"/>
<circle r="1" transform="matrix(4.99 -1.98 -3.41 -2.84 1256.6 595.2)" fill="#0c0c0c" stroke="#333" stroke-width="0.5" vector-effect="non-scaling-stroke"/>
<polygon points="1328.8,678.3 1384.3,655.7 1307.4,592.2 1252.1,614.2" fill="#6b6b6b" stroke="#222222" stroke-width="1.00" stroke-linejoin="round"/>
<polygon points="1328.6,712.0 1383.9,689.3 1384.3,655.7 1328.8,678.3" fill="#676767" stroke="#222222" stroke-width="1.00" stroke-linejoin="round"/>
<polygon points="1328.6,712.0 1252.1,647.7 1252.1,614.2 1328.8,678.3" fill="#626262" stroke="#222222" stroke-width="1.00" stroke-linejoin="round"/>
<polygon points="1293.1,605.5 1293.1,599.9 1293.7,598.1 1295.2,596.5 1297.5,595.3 1300.3,594.5 1303.4,594.3 1306.5,594.6 1309.3,595.4 1311.5,596.7 1312.8,598.4 1313.2,600.1 1313.2,605.7 1312.7,607.5 1311.2,609.1 1308.9,610.3 1306.0,611.1 1302.9,611.4 1299.8,611.1 1297.1,610.2 1294.9,608.9 1293.5,607.3" fill="#232323" stroke="#111" stroke-width="0.60" stroke-linejoin="round"/>
<circle r="1" transform="matrix(8.03 -3.20 -5.54 -4.59 1303.2 600.0)" fill="#6a6a6a" stroke="#2a2a2a" stroke-width="0.6" vector-effect="non-scaling-stroke"/>
<polygon points="1265.4,616.5 1265.4,610.9 1266.0,609.1 1267.5,607.5 1269.8,606.3 1272.7,605.5 1275.8,605.3 1278.9,605.6 1281.7,606.4 1283.8,607.7 1285.2,609.4 1285.6,611.2 1285.6,616.8 1285.0,618.5 1283.5,620.1 1281.2,621.4 1278.4,622.2 1275.2,622.4 1272.1,622.1 1269.4,621.3 1267.2,620.0 1265.8,618.3" fill="#232323" stroke="#111" stroke-width="0.60" stroke-linejoin="round"/>
<circle r="1" transform="matrix(8.07 -3.22 -5.53 -4.61 1275.5 611.0)" fill="#6a6a6a" stroke="#2a2a2a" stroke-width="0.6" vector-effect="non-scaling-stroke"/>
<polygon points="1312.2,621.3 1312.2,615.7 1312.8,613.9 1314.3,612.3 1316.5,611.1 1319.4,610.3 1322.5,610.0 1325.6,610.4 1328.4,611.2 1330.6,612.5 1331.9,614.1 1332.4,615.9 1332.3,621.5 1331.8,623.3 1330.3,624.9 1328.0,626.2 1325.2,627.0 1322.0,627.2 1318.9,626.9 1316.2,626.1 1314.0,624.8 1312.6,623.1" fill="#232323" stroke="#111" stroke-width="0.60" stroke-linejoin="round"/>
<circle r="1" transform="matrix(8.04 -3.22 -5.57 -4.61 1322.3 615.8)" fill="#6a6a6a" stroke="#2a2a2a" stroke-width="0.6" vector-effect="non-scaling-stroke"/>
<polygon points="1284.5,632.4 1284.5,626.8 1285.1,625.0 1286.6,623.4 1288.9,622.2 1291.7,621.4 1294.8,621.1 1298.0,621.4 1300.7,622.3 1302.9,623.6 1304.3,625.2 1304.7,627.0 1304.7,632.6 1304.1,634.4 1302.6,636.0 1300.3,637.3 1297.5,638.1 1294.3,638.4 1291.2,638.0 1288.4,637.2 1286.2,635.9 1284.9,634.2" fill="#232323" stroke="#111" stroke-width="0.60" stroke-linejoin="round"/>
<circle r="1" transform="matrix(8.08 -3.24 -5.56 -4.63 1294.6 626.9)" fill="#6a6a6a" stroke="#2a2a2a" stroke-width="0.6" vector-effect="non-scaling-stroke"/>
<polygon points="1331.3,637.2 1331.4,631.6 1331.9,629.8 1333.4,628.2 1335.7,627.0 1338.6,626.2 1341.7,625.9 1344.8,626.2 1347.6,627.1 1349.8,628.4 1351.2,630.0 1351.6,631.8 1351.5,637.4 1351.0,639.2 1349.5,640.9 1347.2,642.1 1344.4,642.9 1341.2,643.2 1338.1,642.9 1335.3,642.0 1333.2,640.7 1331.8,639.0" fill="#232323" stroke="#111" stroke-width="0.60" stroke-linejoin="round"/>
<circle r="1" transform="matrix(8.05 -3.24 -5.60 -4.64 1341.5 631.7)" fill="#6a6a6a" stroke="#2a2a2a" stroke-width="0.6" vector-effect="non-scaling-stroke"/>
<polygon points="1303.6,648.4 1303.6,642.8 1304.2,641.0 1305.7,639.4 1308.0,638.1 1310.9,637.3 1314.0,637.0 1317.1,637.4 1319.9,638.2 1322.1,639.5 1323.5,641.2 1323.9,643.0 1323.9,648.6 1323.3,650.4 1321.8,652.0 1319.5,653.3 1316.7,654.1 1313.5,654.4 1310.4,654.1 1307.6,653.2 1305.4,651.9 1304.0,650.2" fill="#232323" stroke="#111" stroke-width="0.60" stroke-linejoin="round"/>
<circle r="1" transform="matrix(8.09 -3.26 -5.59 -4.66 1313.8 642.9)" fill="#6a6a6a" stroke="#2a2a2a" stroke-width="0.6" vector-effect="non-scaling-stroke"/>
<polygon points="1350.6,653.2 1350.7,647.6 1351.2,645.8 1352.7,644.2 1355.0,642.9 1357.8,642.1 1361.0,641.9 1364.1,642.2 1366.9,643.0 1369.1,644.4 1370.5,646.0 1370.9,647.8 1370.9,653.4 1370.3,655.2 1368.8,656.9 1366.5,658.1 1363.7,658.9 1360.6,659.2 1357.4,658.9 1354.6,658.0 1352.4,656.7 1351.0,655.0" fill="#232323" stroke="#111" stroke-width="0.60" stroke-linejoin="round"/>
<circle r="1" transform="matrix(8.05 -3.26 -5.63 -4.66 1360.8 647.7)" fill="#6a6a6a" stroke="#2a2a2a" stroke-width="0.6" vector-effect="non-scaling-stroke"/>
<polygon points="1322.8,664.5 1322.9,658.9 1323.5,657.0 1325.0,655.4 1327.2,654.1 1330.1,653.3 1333.3,653.1 1336.4,653.4 1339.2,654.2 1341.4,655.6 1342.8,657.2 1343.2,659.1 1343.2,664.7 1342.6,666.5 1341.1,668.1 1338.8,669.4 1335.9,670.2 1332.8,670.5 1329.7,670.1 1326.9,669.3 1324.7,668.0 1323.3,666.3" fill="#232323" stroke="#111" stroke-width="0.60" stroke-linejoin="round"/>
<circle r="1" transform="matrix(8.09 -3.28 -5.62 -4.68 1333.0 659.0)" fill="#6a6a6a" stroke="#2a2a2a" stroke-width="0.6" vector-effect="non-scaling-stroke"/>
<polygon points="1348.2,694.5 1513.2,627.1 1493.6,611.3 1328.8,678.3" fill="#bcbcbc" stroke="#222222" stroke-width="1.00" stroke-linejoin="round"/>
<polygon points="1347.9,728.2 1512.6,660.5 1513.2,627.1 1348.2,694.5" fill="#bfbfbf" stroke="#222222" stroke-width="1.00" stroke-linejoin="round"/>
<polygon points="1347.9,728.2 1328.6,712.0 1328.8,678.3 1348.2,694.5" fill="#aeaeae" stroke="#222222" stroke-width="1.00" stroke-linejoin="round"/>
<circle r="1" transform="matrix(10.17 -4.17 0.14 -11.17 1431.1 674.5)" fill="#696969"/>
<circle r="1" transform="matrix(8.94 -3.66 0.12 -9.79 1429.0 672.8)" fill="#bfbfbf" stroke="#3a3a3a" stroke-width="0.9" vector-effect="non-scaling-stroke"/>
<circle r="1" transform="matrix(10.17 -4.17 0.14 -11.17 1431.1 674.5)" fill="none" stroke="#262626" stroke-width="1.6" vector-effect="non-scaling-stroke"/>
<circle r="1" transform="matrix(10.11 -4.15 0.16 -11.15 1458.5 663.3)" fill="#696969"/>
<circle r="1" transform="matrix(8.90 -3.65 0.14 -9.78 1456.4 661.6)" fill="#bfbfbf" stroke="#3a3a3a" stroke-width="0.9" vector-effect="non-scaling-stroke"/>
<circle r="1" transform="matrix(10.11 -4.15 0.16 -11.15 1458.5 663.3)" fill="none" stroke="#262626" stroke-width="1.6" vector-effect="non-scaling-stroke"/>
<circle r="1" transform="matrix(10.06 -4.13 0.18 -11.13 1485.8 652.1)" fill="#696969"/>
<circle r="1" transform="matrix(8.85 -3.63 0.16 -9.76 1483.6 650.4)" fill="#bfbfbf" stroke="#3a3a3a" stroke-width="0.9" vector-effect="non-scaling-stroke"/>
<circle r="1" transform="matrix(10.06 -4.13 0.18 -11.13 1485.8 652.1)" fill="none" stroke="#262626" stroke-width="1.6" vector-effect="non-scaling-stroke"/>
<circle r="1" transform="matrix(9.16 -3.75 0.08 -9.26 1375.9 697.2)" fill="#9a9b9d" stroke="#222" stroke-width="1.0" vector-effect="non-scaling-stroke"/>
<circle r="1" transform="matrix(5.55 -2.28 0.05 -5.61 1376.3 697.5)" fill="#7a7b7d" stroke="#333" stroke-width="0.8" vector-effect="non-scaling-stroke"/>
<path d="M1372.0,698.8L1379.8,695.6M1375.8,701.1L1375.9,693.3" stroke="#222" stroke-width="1.3"/>
<circle r="1" transform="matrix(10.22 -4.19 0.12 -11.19 1403.6 685.8)" fill="#696969"/>
<circle r="1" transform="matrix(8.99 -3.68 0.11 -9.81 1401.4 684.1)" fill="#bfbfbf" stroke="#3a3a3a" stroke-width="0.9" vector-effect="non-scaling-stroke"/>
<circle r="1" transform="matrix(10.22 -4.19 0.12 -11.19 1403.6 685.8)" fill="none" stroke="#262626" stroke-width="1.6" vector-effect="non-scaling-stroke"/>
<polygon points="1395.8,689.0 1396.2,686.4 1397.3,683.8 1399.1,681.4 1401.2,679.4 1403.7,678.0 1406.0,677.4 1408.2,677.6 1409.9,678.7 1422.5,689.1 1423.6,690.9 1424.0,693.1 1423.5,695.7 1422.4,698.4 1420.7,700.8 1418.5,702.8 1416.1,704.2 1413.7,704.8 1411.6,704.5 1409.9,703.5 1397.3,693.0 1396.2,691.3" fill="#333333" stroke="#c8c8c8" stroke-width="0.90" stroke-linejoin="round"/>
<polygon points="1407.6,699.5 1408.0,696.7 1409.2,693.9 1411.1,691.2 1413.4,689.1 1416.0,687.6 1418.5,687.0 1420.8,687.2 1422.6,688.3 1427.9,692.7 1429.1,694.6 1429.4,697.0 1429.0,699.8 1427.8,702.6 1425.9,705.2 1423.6,707.4 1421.0,708.8 1418.5,709.5 1416.2,709.2 1414.4,708.1 1409.1,703.7 1408.0,701.9" fill="#3a3a3a" stroke="#d4d4d4" stroke-width="1.00" stroke-linejoin="round"/>
<circle r="1" transform="matrix(8.29 -3.42 0.10 -8.42 1421.2 700.4)" fill="#6a6a6a" stroke="#dcdcdc" stroke-width="1.0" vector-effect="non-scaling-stroke"/>
<circle r="1" transform="matrix(4.15 -1.71 0.05 -4.21 1421.2 700.4)" fill="#262626" stroke="#999" stroke-width="0.6" vector-effect="non-scaling-stroke"/>
<polygon points="1479.8,624.6 1479.9,619.0 1480.4,617.2 1481.8,615.6 1484.0,614.4 1486.8,613.6 1490.0,613.3 1493.0,613.7 1495.8,614.5 1498.0,615.8 1499.5,617.4 1500.0,619.2 1499.8,624.8 1499.3,626.6 1497.9,628.2 1495.7,629.5 1492.9,630.2 1489.8,630.5 1486.7,630.2 1483.9,629.3 1481.7,628.0 1480.2,626.4" fill="#141414" stroke="#111" stroke-width="0.60" stroke-linejoin="round"/>
<circle r="1" transform="matrix(8.15 -3.32 -5.87 -4.75 1489.9 619.1)" fill="#262626" stroke="#5a5a5a" stroke-width="0.9" vector-effect="non-scaling-stroke"/>
<circle r="1" transform="matrix(4.89 -1.99 -3.52 -2.85 1489.9 619.1)" fill="#0c0c0c" stroke="#333" stroke-width="0.5" vector-effect="non-scaling-stroke"/>
<polygon points="1452.5,635.7 1452.6,630.1 1453.1,628.3 1454.6,626.7 1456.8,625.4 1459.7,624.6 1462.8,624.4 1465.9,624.7 1468.7,625.6 1470.9,626.9 1472.3,628.5 1472.8,630.3 1472.7,635.9 1472.2,637.7 1470.7,639.3 1468.5,640.6 1465.7,641.4 1462.5,641.6 1459.4,641.3 1456.6,640.4 1454.4,639.1 1453.0,637.5" fill="#141414" stroke="#111" stroke-width="0.60" stroke-linejoin="round"/>
<circle r="1" transform="matrix(8.19 -3.33 -5.86 -4.77 1462.7 630.2)" fill="#262626" stroke="#5a5a5a" stroke-width="0.9" vector-effect="non-scaling-stroke"/>
<circle r="1" transform="matrix(4.91 -2.00 -3.52 -2.86 1462.7 630.2)" fill="#0c0c0c" stroke="#333" stroke-width="0.5" vector-effect="non-scaling-stroke"/>
<polygon points="1425.2,646.8 1425.2,641.2 1425.8,639.4 1427.2,637.8 1429.5,636.6 1432.3,635.8 1435.4,635.5 1438.5,635.8 1441.3,636.7 1443.5,638.0 1445.0,639.6 1445.4,641.5 1445.3,647.0 1444.8,648.9 1443.4,650.5 1441.1,651.7 1438.3,652.5 1435.2,652.8 1432.0,652.5 1429.2,651.6 1427.0,650.3 1425.6,648.6" fill="#141414" stroke="#111" stroke-width="0.60" stroke-linejoin="round"/>
<circle r="1" transform="matrix(8.23 -3.35 -5.85 -4.79 1435.3 641.3)" fill="#262626" stroke="#5a5a5a" stroke-width="0.9" vector-effect="non-scaling-stroke"/>
<circle r="1" transform="matrix(4.94 -2.01 -3.51 -2.88 1435.3 641.3)" fill="#0c0c0c" stroke="#333" stroke-width="0.5" vector-effect="non-scaling-stroke"/>
<polygon points="1397.6,658.0 1397.7,652.4 1398.2,650.6 1399.7,649.0 1402.0,647.7 1404.8,646.9 1408.0,646.7 1411.1,647.0 1413.9,647.9 1416.1,649.2 1417.5,650.8 1418.0,652.6 1417.9,658.2 1417.3,660.1 1415.9,661.7 1413.6,663.0 1410.8,663.8 1407.6,664.0 1404.5,663.7 1401.7,662.8 1399.5,661.5 1398.1,659.9" fill="#141414" stroke="#111" stroke-width="0.60" stroke-linejoin="round"/>
<circle r="1" transform="matrix(8.27 -3.37 -5.85 -4.81 1407.8 652.5)" fill="#262626" stroke="#5a5a5a" stroke-width="0.9" vector-effect="non-scaling-stroke"/>
<circle r="1" transform="matrix(4.96 -2.02 -3.51 -2.89 1407.8 652.5)" fill="#0c0c0c" stroke="#333" stroke-width="0.5" vector-effect="non-scaling-stroke"/>
<polygon points="1370.0,669.3 1370.0,663.7 1370.6,661.9 1372.1,660.2 1374.4,659.0 1377.2,658.1 1380.4,657.9 1383.5,658.2 1386.3,659.1 1388.5,660.4 1389.9,662.1 1390.3,663.9 1390.3,669.5 1389.8,671.3 1388.3,673.0 1386.0,674.2 1383.1,675.1 1380.0,675.3 1376.8,675.0 1374.0,674.1 1371.8,672.8 1370.4,671.1" fill="#141414" stroke="#111" stroke-width="0.60" stroke-linejoin="round"/>
<circle r="1" transform="matrix(8.31 -3.38 -5.84 -4.83 1380.2 663.8)" fill="#262626" stroke="#5a5a5a" stroke-width="0.9" vector-effect="non-scaling-stroke"/>
<circle r="1" transform="matrix(4.99 -2.03 -3.50 -2.90 1380.2 663.8)" fill="#0c0c0c" stroke="#333" stroke-width="0.5" vector-effect="non-scaling-stroke"/>
<polygon points="1342.2,680.6 1342.2,675.0 1342.8,673.2 1344.3,671.5 1346.6,670.2 1349.5,669.4 1352.6,669.2 1355.8,669.5 1358.6,670.4 1360.8,671.7 1362.2,673.4 1362.6,675.2 1362.6,680.8 1362.0,682.6 1360.5,684.3 1358.2,685.6 1355.3,686.4 1352.2,686.7 1349.0,686.3 1346.2,685.5 1344.0,684.1 1342.6,682.5" fill="#141414" stroke="#111" stroke-width="0.60" stroke-linejoin="round"/>
<circle r="1" transform="matrix(8.35 -3.40 -5.83 -4.86 1352.4 675.1)" fill="#262626" stroke="#5a5a5a" stroke-width="0.9" vector-effect="non-scaling-stroke"/>
<circle r="1" transform="matrix(5.01 -2.04 -3.50 -2.91 1352.4 675.1)" fill="#0c0c0c" stroke="#333" stroke-width="0.5" vector-effect="non-scaling-stroke"/>
<polygon points="532.7,563.6 696.6,499.9 678.6,484.9 514.8,548.2" fill="#bcbcbc" stroke="#222222" stroke-width="1.00" stroke-linejoin="round"/>
<polygon points="533.2,596.3 696.7,532.3 696.6,499.9 532.7,563.6" fill="#bfbfbf" stroke="#222222" stroke-width="1.00" stroke-linejoin="round"/>
<polygon points="533.2,596.3 515.4,580.8 514.8,548.2 532.7,563.6" fill="#aeaeae" stroke="#222222" stroke-width="1.00" stroke-linejoin="round"/>
<circle r="1" transform="matrix(10.20 -3.97 -0.14 -10.88 560.5 566.5)" fill="#696969"/>
<circle r="1" transform="matrix(8.97 -3.49 -0.12 -9.54 558.6 564.8)" fill="#bfbfbf" stroke="#3a3a3a" stroke-width="0.9" vector-effect="non-scaling-stroke"/>
<circle r="1" transform="matrix(10.20 -3.97 -0.14 -10.88 560.5 566.5)" fill="none" stroke="#262626" stroke-width="1.6" vector-effect="non-scaling-stroke"/>
<circle r="1" transform="matrix(10.15 -3.95 -0.12 -10.86 588.0 555.8)" fill="#696969"/>
<circle r="1" transform="matrix(8.92 -3.48 -0.10 -9.52 586.0 554.1)" fill="#bfbfbf" stroke="#3a3a3a" stroke-width="0.9" vector-effect="non-scaling-stroke"/>
<circle r="1" transform="matrix(10.15 -3.95 -0.12 -10.86 588.0 555.8)" fill="none" stroke="#262626" stroke-width="1.6" vector-effect="non-scaling-stroke"/>
<circle r="1" transform="matrix(10.10 -3.93 -0.10 -10.85 615.4 545.1)" fill="#696969"/>
<circle r="1" transform="matrix(8.88 -3.46 -0.09 -9.51 613.4 543.4)" fill="#bfbfbf" stroke="#3a3a3a" stroke-width="0.9" vector-effect="non-scaling-stroke"/>
<circle r="1" transform="matrix(10.10 -3.93 -0.10 -10.85 615.4 545.1)" fill="none" stroke="#262626" stroke-width="1.6" vector-effect="non-scaling-stroke"/>
<circle r="1" transform="matrix(10.05 -3.91 -0.08 -10.83 642.6 534.5)" fill="#696969"/>
<circle r="1" transform="matrix(8.84 -3.44 -0.07 -9.49 640.6 532.8)" fill="#bfbfbf" stroke="#3a3a3a" stroke-width="0.9" vector-effect="non-scaling-stroke"/>
<circle r="1" transform="matrix(10.05 -3.91 -0.08 -10.83 642.6 534.5)" fill="none" stroke="#262626" stroke-width="1.6" vector-effect="non-scaling-stroke"/>
<circle r="1" transform="matrix(10.00 -3.90 -0.06 -10.81 669.7 523.9)" fill="#696969"/>
<circle r="1" transform="matrix(8.80 -3.43 -0.05 -9.47 667.7 522.3)" fill="#bfbfbf" stroke="#3a3a3a" stroke-width="0.9" vector-effect="non-scaling-stroke"/>
<circle r="1" transform="matrix(10.00 -3.90 -0.06 -10.81 669.7 523.9)" fill="none" stroke="#262626" stroke-width="1.6" vector-effect="non-scaling-stroke"/>
<polygon points="664.4,492.1 665.0,490.4 666.4,488.9 668.7,487.7 671.4,486.9 674.5,486.7 677.5,487.0 680.1,487.8 682.2,489.1 683.5,490.6 683.8,492.3 683.8,497.7 683.2,499.4 681.8,500.9 679.5,502.1 676.8,502.9 673.7,503.1 670.7,502.8 668.1,502.0 666.0,500.8 664.7,499.2 664.4,497.5" fill="#141414" stroke="#111" stroke-width="0.60" stroke-linejoin="round"/>
<circle r="1" transform="matrix(8.10 -3.13 -5.41 -4.51 674.1 492.2)" fill="#262626" stroke="#5a5a5a" stroke-width="0.9" vector-effect="non-scaling-stroke"/>
<circle r="1" transform="matrix(4.86 -1.88 -3.24 -2.71 674.1 492.2)" fill="#0c0c0c" stroke="#333" stroke-width="0.5" vector-effect="non-scaling-stroke"/>
<polygon points="637.3,502.6 637.9,500.9 639.4,499.3 641.6,498.1 644.4,497.4 647.5,497.2 650.4,497.5 653.1,498.3 655.2,499.5 656.4,501.1 656.8,502.8 656.8,508.2 656.2,509.9 654.7,511.4 652.5,512.6 649.7,513.4 646.7,513.6 643.7,513.3 641.0,512.5 638.9,511.2 637.7,509.7 637.3,508.0" fill="#141414" stroke="#111" stroke-width="0.60" stroke-linejoin="round"/>
<circle r="1" transform="matrix(8.13 -3.15 -5.40 -4.53 647.0 502.7)" fill="#262626" stroke="#5a5a5a" stroke-width="0.9" vector-effect="non-scaling-stroke"/>
<circle r="1" transform="matrix(4.88 -1.89 -3.24 -2.72 647.0 502.7)" fill="#0c0c0c" stroke="#333" stroke-width="0.5" vector-effect="non-scaling-stroke"/>
<polygon points="610.1,513.1 610.7,511.4 612.2,509.8 614.5,508.6 617.2,507.9 620.3,507.6 623.3,508.0 626.0,508.8 628.0,510.0 629.3,511.6 629.6,513.3 629.7,518.7 629.1,520.4 627.5,522.0 625.3,523.2 622.5,523.9 619.5,524.2 616.5,523.9 613.8,523.0 611.7,521.8 610.5,520.2 610.1,518.5" fill="#141414" stroke="#111" stroke-width="0.60" stroke-linejoin="round"/>
<circle r="1" transform="matrix(8.17 -3.16 -5.39 -4.55 619.9 513.2)" fill="#262626" stroke="#5a5a5a" stroke-width="0.9" vector-effect="non-scaling-stroke"/>
<circle r="1" transform="matrix(4.90 -1.90 -3.23 -2.73 619.9 513.2)" fill="#0c0c0c" stroke="#333" stroke-width="0.5" vector-effect="non-scaling-stroke"/>
<polygon points="582.7,523.6 583.4,521.9 584.9,520.4 587.2,519.2 590.0,518.4 593.0,518.2 596.0,518.5 598.7,519.3 600.8,520.6 602.0,522.1 602.4,523.9 602.4,529.3 601.8,531.0 600.3,532.6 598.0,533.8 595.2,534.5 592.1,534.8 589.1,534.5 586.5,533.6 584.4,532.4 583.1,530.8 582.8,529.1" fill="#141414" stroke="#111" stroke-width="0.60" stroke-linejoin="round"/>
<circle r="1" transform="matrix(8.21 -3.18 -5.38 -4.57 592.5 523.8)" fill="#262626" stroke="#5a5a5a" stroke-width="0.9" vector-effect="non-scaling-stroke"/>
<circle r="1" transform="matrix(4.93 -1.91 -3.23 -2.74 592.5 523.8)" fill="#0c0c0c" stroke="#333" stroke-width="0.5" vector-effect="non-scaling-stroke"/>
<polygon points="555.3,534.3 555.9,532.5 557.4,531.0 559.7,529.8 562.5,529.0 565.6,528.8 568.6,529.1 571.3,529.9 573.4,531.2 574.6,532.8 574.9,534.5 575.0,539.9 574.4,541.7 572.8,543.2 570.5,544.4 567.7,545.2 564.7,545.4 561.6,545.1 559.0,544.3 556.9,543.0 555.7,541.4 555.3,539.7" fill="#141414" stroke="#111" stroke-width="0.60" stroke-linejoin="round"/>
<circle r="1" transform="matrix(8.25 -3.19 -5.37 -4.59 565.1 534.4)" fill="#262626" stroke="#5a5a5a" stroke-width="0.9" vector-effect="non-scaling-stroke"/>
<circle r="1" transform="matrix(4.95 -1.92 -3.22 -2.75 565.1 534.4)" fill="#0c0c0c" stroke="#333" stroke-width="0.5" vector-effect="non-scaling-stroke"/>
<polygon points="527.7,544.9 528.3,543.2 529.9,541.6 532.2,540.4 535.0,539.7 538.1,539.4 541.1,539.7 543.8,540.6 545.8,541.8 547.1,543.4 547.4,545.1 547.5,550.6 546.8,552.3 545.3,553.9 543.0,555.1 540.1,555.9 537.1,556.1 534.0,555.8 531.4,555.0 529.3,553.7 528.0,552.1 527.7,550.4" fill="#141414" stroke="#111" stroke-width="0.60" stroke-linejoin="round"/>
<circle r="1" transform="matrix(8.29 -3.21 -5.37 -4.61 537.5 545.0)" fill="#262626" stroke="#5a5a5a" stroke-width="0.9" vector-effect="non-scaling-stroke"/>
<circle r="1" transform="matrix(4.98 -1.93 -3.22 -2.76 537.5 545.0)" fill="#0c0c0c" stroke="#333" stroke-width="0.5" vector-effect="non-scaling-stroke"/>
<polygon points="610.2,622.9 610.6,619.7 612.0,616.5 614.1,613.6 616.7,611.2 619.6,609.6 622.5,608.9 625.2,609.3 627.2,610.6 635.0,616.9 636.3,619.0 636.8,621.8 636.3,625.0 634.9,628.2 632.8,631.1 630.2,633.5 627.3,635.1 624.4,635.8 621.8,635.4 619.7,634.1 611.9,627.8 610.6,625.6" fill="#5c5d5f" stroke="#222222" stroke-width="0.70" stroke-linejoin="round"/>
<polygon points="602.1,614.6 602.5,611.9 603.7,609.2 605.5,606.7 607.7,604.7 610.2,603.3 612.7,602.8 614.9,603.0 616.7,604.2 627.0,612.6 628.1,614.4 628.5,616.8 628.1,619.4 626.9,622.2 625.1,624.6 622.9,626.7 620.4,628.1 617.9,628.6 615.7,628.3 613.9,627.2 603.6,618.8 602.5,617.0" fill="#5c5d5f" stroke="#222222" stroke-width="0.70" stroke-linejoin="round"/>
<circle r="1" transform="matrix(3.60 -1.40 0.01 -3.66 610.2 611.5)" fill="#3a3a3a" stroke="#222" stroke-width="0.5" vector-effect="non-scaling-stroke"/>
<polygon points="676.8,682.7 732.5,660.5 655.1,597.8 599.5,619.4" fill="#6b6b6b" stroke="#222222" stroke-width="1.00" stroke-linejoin="round"/>
<polygon points="676.6,716.8 732.2,694.5 732.5,660.5 676.8,682.7" fill="#676767" stroke="#222222" stroke-width="1.00" stroke-linejoin="round"/>
<polygon points="676.6,716.8 599.5,653.3 599.5,619.4 676.8,682.7" fill="#626262" stroke="#222222" stroke-width="1.00" stroke-linejoin="round"/>
<polygon points="640.7,610.8 640.8,605.2 641.3,603.4 642.8,601.9 645.1,600.6 648.0,599.9 651.1,599.6 654.2,600.0 657.0,600.8 659.2,602.1 660.5,603.7 661.0,605.4 661.0,611.1 660.4,612.8 658.9,614.4 656.6,615.6 653.8,616.4 650.6,616.7 647.5,616.3 644.7,615.5 642.5,614.2 641.1,612.6" fill="#232323" stroke="#111" stroke-width="0.60" stroke-linejoin="round"/>
<circle r="1" transform="matrix(8.07 -3.14 -5.59 -4.53 650.9 605.3)" fill="#6a6a6a" stroke="#2a2a2a" stroke-width="0.6" vector-effect="non-scaling-stroke"/>
<polygon points="612.9,621.7 612.9,616.0 613.5,614.3 615.0,612.7 617.3,611.5 620.2,610.7 623.3,610.4 626.5,610.8 629.2,611.6 631.4,612.9 632.8,614.5 633.2,616.3 633.2,621.9 632.6,623.7 631.1,625.3 628.8,626.5 626.0,627.3 622.8,627.5 619.7,627.2 616.9,626.4 614.7,625.1 613.3,623.5" fill="#232323" stroke="#111" stroke-width="0.60" stroke-linejoin="round"/>
<circle r="1" transform="matrix(8.11 -3.16 -5.58 -4.55 623.1 616.1)" fill="#6a6a6a" stroke="#2a2a2a" stroke-width="0.6" vector-effect="non-scaling-stroke"/>
<polygon points="660.0,626.5 660.0,620.8 660.5,619.0 662.0,617.5 664.3,616.2 667.2,615.5 670.3,615.2 673.5,615.5 676.2,616.4 678.4,617.7 679.8,619.3 680.3,621.1 680.2,626.7 679.7,628.5 678.2,630.1 675.9,631.3 673.0,632.1 669.9,632.3 666.8,632.0 664.0,631.2 661.8,629.9 660.4,628.2" fill="#232323" stroke="#111" stroke-width="0.60" stroke-linejoin="round"/>
<circle r="1" transform="matrix(8.08 -3.16 -5.62 -4.56 670.1 620.9)" fill="#6a6a6a" stroke="#2a2a2a" stroke-width="0.6" vector-effect="non-scaling-stroke"/>
<polygon points="632.1,637.4 632.1,631.7 632.7,629.9 634.2,628.4 636.5,627.1 639.4,626.3 642.5,626.1 645.7,626.4 648.5,627.3 650.7,628.6 652.0,630.2 652.5,632.0 652.4,637.6 651.9,639.4 650.4,641.0 648.1,642.2 645.2,643.0 642.0,643.3 638.9,642.9 636.1,642.1 633.9,640.8 632.5,639.2" fill="#232323" stroke="#111" stroke-width="0.60" stroke-linejoin="round"/>
<circle r="1" transform="matrix(8.12 -3.18 -5.61 -4.58 642.3 631.8)" fill="#6a6a6a" stroke="#2a2a2a" stroke-width="0.6" vector-effect="non-scaling-stroke"/>
<polygon points="679.3,642.2 679.3,636.5 679.9,634.8 681.4,633.2 683.7,631.9 686.5,631.1 689.7,630.9 692.8,631.2 695.6,632.1 697.8,633.4 699.2,635.0 699.6,636.8 699.6,642.4 699.0,644.2 697.5,645.8 695.3,647.0 692.4,647.8 689.2,648.1 686.1,647.8 683.3,646.9 681.1,645.6 679.7,644.0" fill="#232323" stroke="#111" stroke-width="0.60" stroke-linejoin="round"/>
<circle r="1" transform="matrix(8.08 -3.18 -5.65 -4.58 689.5 636.6)" fill="#6a6a6a" stroke="#2a2a2a" stroke-width="0.6" vector-effect="non-scaling-stroke"/>
<polygon points="651.4,653.2 651.4,647.5 652.0,645.7 653.5,644.1 655.8,642.9 658.7,642.1 661.9,641.8 665.0,642.2 667.8,643.0 670.0,644.3 671.4,645.9 671.8,647.7 671.8,653.4 671.2,655.2 669.7,656.8 667.4,658.0 664.5,658.8 661.4,659.1 658.2,658.8 655.4,657.9 653.2,656.6 651.8,655.0" fill="#232323" stroke="#111" stroke-width="0.60" stroke-linejoin="round"/>
<circle r="1" transform="matrix(8.12 -3.20 -5.64 -4.60 661.6 647.6)" fill="#6a6a6a" stroke="#2a2a2a" stroke-width="0.6" vector-effect="non-scaling-stroke"/>
<polygon points="698.7,658.0 698.8,652.3 699.3,650.5 700.8,648.9 703.1,647.7 706.0,646.9 709.1,646.7 712.2,647.0 715.1,647.8 717.3,649.1 718.7,650.8 719.1,652.6 719.1,658.2 718.5,660.0 717.0,661.6 714.8,662.9 711.9,663.7 708.7,663.9 705.6,663.6 702.8,662.7 700.5,661.4 699.1,659.8" fill="#232323" stroke="#111" stroke-width="0.60" stroke-linejoin="round"/>
<circle r="1" transform="matrix(8.09 -3.20 -5.68 -4.61 708.9 652.4)" fill="#6a6a6a" stroke="#2a2a2a" stroke-width="0.6" vector-effect="non-scaling-stroke"/>
<polygon points="670.8,669.0 670.9,663.4 671.4,661.6 672.9,660.0 675.2,658.7 678.1,657.9 681.3,657.7 684.4,658.0 687.2,658.8 689.5,660.1 690.8,661.8 691.3,663.6 691.2,669.3 690.7,671.1 689.2,672.7 686.9,673.9 684.0,674.7 680.8,675.0 677.7,674.7 674.9,673.8 672.6,672.5 671.2,670.8" fill="#232323" stroke="#111" stroke-width="0.60" stroke-linejoin="round"/>
<circle r="1" transform="matrix(8.13 -3.22 -5.67 -4.63 681.1 663.5)" fill="#6a6a6a" stroke="#2a2a2a" stroke-width="0.6" vector-effect="non-scaling-stroke"/>
<polygon points="695.1,692.4 695.6,689.2 697.0,686.0 699.1,683.0 701.7,680.6 704.7,679.0 707.6,678.3 710.2,678.6 712.3,679.9 720.2,686.4 721.5,688.5 722.0,691.3 721.5,694.5 720.1,697.7 718.0,700.7 715.3,703.1 712.4,704.7 709.5,705.4 706.9,705.1 704.8,703.8 696.9,697.4 695.5,695.2" fill="#5c5d5f" stroke="#222222" stroke-width="0.70" stroke-linejoin="round"/>
<polygon points="703.5,697.6 704.0,694.9 705.1,692.1 706.9,689.6 709.2,687.5 711.7,686.1 714.2,685.5 716.4,685.8 718.2,686.9 728.8,695.5 729.9,697.4 730.3,699.8 729.9,702.5 728.7,705.2 726.9,707.8 724.6,709.8 722.1,711.2 719.6,711.9 717.4,711.6 715.6,710.5 705.0,701.8 703.9,700.0" fill="#5c5d5f" stroke="#222222" stroke-width="0.70" stroke-linejoin="round"/>
<circle r="1" transform="matrix(8.08 -3.24 0.08 -8.24 722.2 703.0)" fill="#6e6f71" stroke="#222222" stroke-width="0.7" vector-effect="non-scaling-stroke"/>
<circle r="1" transform="matrix(3.62 -1.45 0.04 -3.69 722.2 703.0)" fill="#3a3a3a" stroke="#222" stroke-width="0.5" vector-effect="non-scaling-stroke"/>
<line x1="601.9" y1="600.9" x2="567.8" y2="573.4" stroke="#d3141f" stroke-width="2.0"/>
<polygon points="555.3,563.4 572.8,570.4 566.2,572.2 565.9,579.0" fill="#d3141f"/>
<line x1="1244.7" y1="553.2" x2="1266.3" y2="571.7" stroke="#d3141f" stroke-width="2.0"/>
<polygon points="1277.7,581.5 1260.9,575.0 1267.6,572.9 1268.7,565.9" fill="#d3141f"/>
<line x1="1262.4" y1="884.0" x2="1217.3" y2="851.6" stroke="#d3141f" stroke-width="2.2"/>
<polygon points="1201.0,840.0 1223.0,847.1 1214.9,850.0 1214.8,858.5" fill="#d3141f"/>
<line x1="1326.5" y1="765" x2="1326.5" y2="840" stroke="#000" stroke-width="2"/>
<path d="M1326.5,870 L1318,828.5 Q1326.5,834 1335,828.5 Z" fill="#000"/>
<text transform="translate(119.60 295.00) scale(1.000 1)" font-family="Liberation Sans, sans-serif" font-weight="bold" font-size="79.0" fill="#000" stroke="#000" stroke-width="1.00">3</text>
<text transform="translate(119.20 714.90) scale(0.905 1)" font-family="Liberation Sans, sans-serif" font-weight="bold" font-size="80.0" fill="#000" stroke="#000" stroke-width="1.00">4</text>
<text transform="translate(477.60 518.00) scale(0.700 1)" font-family="Liberation Sans, sans-serif" font-weight="bold" font-size="36.0" fill="#000">1</text>
<text transform="translate(794.20 518.00) scale(1.060 1)" font-family="Liberation Sans, sans-serif" font-weight="bold" font-size="36.0" fill="#000">2</text>
<text transform="translate(1154.40 517.60) scale(1.070 1)" font-family="Liberation Sans, sans-serif" font-weight="bold" font-size="35.0" fill="#000">3</text>
<text transform="translate(1588.80 1210.00) scale(1.100 1)" font-family="Liberation Sans, sans-serif" font-weight="bold" font-size="19.5" fill="#000">5</text>
<text transform="translate(136.60 199.50) scale(1.070 1)" font-family="Liberation Sans, sans-serif" font-weight="bold" font-size="15.5" fill="#000">2x</text>
<text transform="translate(129.60 524.70) scale(1.070 1)" font-family="Liberation Sans, sans-serif" font-weight="bold" font-size="16.4" fill="#000">2x</text>
<text transform="translate(129.40 619.80) scale(1.070 1)" font-family="Liberation Sans, sans-serif" font-weight="bold" font-size="16.4" fill="#000">2x</text>
<text transform="translate(268.00 619.80) scale(0.900 1)" font-family="Liberation Sans, sans-serif" font-weight="bold" font-size="16.4" fill="#000">1x</text>
</svg>
</body></html>
